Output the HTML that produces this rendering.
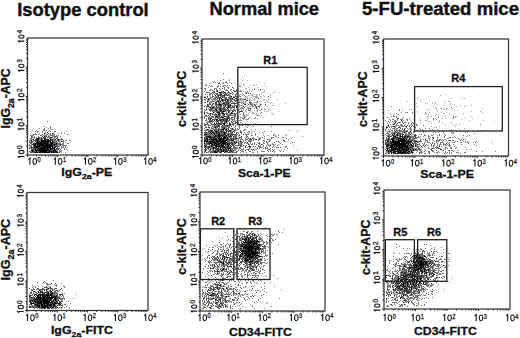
<!DOCTYPE html>
<html><head><meta charset="utf-8"><style>
html,body{margin:0;padding:0;background:#fff;width:520px;height:338px;overflow:hidden}
svg{display:block}
text{font-family:"Liberation Sans",sans-serif}
</style></head><body>
<svg width="520" height="338" viewBox="0 0 520 338" font-family="Liberation Sans, sans-serif">
<path d="M244 75h1v1h-1zM242 77h1v1h-1zM229 79h1v1h-1zM241 79h1v1h-1zM242 80h1v1h-1zM247 80h1v1h-1zM229 82h1v1h-1zM241 82h1v1h-1zM259 82h1v1h-1zM235 83h1v1h-1zM264 83h1v1h-1zM239 84h1v1h-1zM256 84h1v1h-1zM244 85h1v1h-1zM250 85h1v1h-1zM253 85h2v1h-2zM265 86h1v1h-1zM248 87h1v1h-1zM258 87h1v1h-1zM237 88h2v1h-2zM245 88h2v1h-2zM254 88h1v1h-1zM230 89h1v1h-1zM249 89h1v1h-1zM258 89h1v1h-1zM262 89h1v1h-1zM226 90h1v1h-1zM260 90h1v1h-1zM264 90h1v1h-1zM243 91h1v1h-1zM249 91h1v1h-1zM251 91h1v1h-1zM264 91h1v1h-1zM274 91h1v1h-1zM245 92h1v1h-1zM247 92h2v1h-2zM263 92h1v1h-1zM265 92h1v1h-1zM272 92h1v1h-1zM279 92h1v1h-1zM238 93h1v1h-1zM245 93h1v1h-1zM261 93h1v1h-1zM250 94h1v1h-1zM252 94h1v1h-1zM256 94h2v1h-2zM259 94h1v1h-1zM270 94h1v1h-1zM230 95h1v1h-1zM238 95h1v1h-1zM244 95h1v1h-1zM248 95h2v1h-2zM251 95h2v1h-2zM256 95h1v1h-1zM259 95h1v1h-1zM263 95h1v1h-1zM270 95h1v1h-1zM440 95h1v1h-1zM229 96h1v1h-1zM234 96h1v1h-1zM238 96h1v1h-1zM247 96h1v1h-1zM253 96h5v1h-5zM260 96h1v1h-1zM264 96h1v1h-1zM245 97h2v1h-2zM251 97h1v1h-1zM255 97h3v1h-3zM261 97h1v1h-1zM270 97h1v1h-1zM418 97h1v1h-1zM224 98h1v1h-1zM239 98h1v1h-1zM243 98h1v1h-1zM245 98h1v1h-1zM247 98h1v1h-1zM249 98h1v1h-1zM252 98h1v1h-1zM254 98h1v1h-1zM256 98h1v1h-1zM268 98h1v1h-1zM417 98h1v1h-1zM451 98h1v1h-1zM462 98h1v1h-1zM464 98h1v1h-1zM233 99h1v1h-1zM239 99h1v1h-1zM243 99h1v1h-1zM247 99h1v1h-1zM249 99h2v1h-2zM253 99h1v1h-1zM255 99h1v1h-1zM264 99h1v1h-1zM268 99h1v1h-1zM277 99h1v1h-1zM420 99h1v1h-1zM207 100h1v1h-1zM239 100h3v1h-3zM243 100h1v1h-1zM251 100h1v1h-1zM254 100h1v1h-1zM257 100h1v1h-1zM263 100h1v1h-1zM266 100h1v1h-1zM429 100h1v1h-1zM444 100h1v1h-1zM239 101h1v1h-1zM243 101h1v1h-1zM245 101h2v1h-2zM250 101h1v1h-1zM259 101h1v1h-1zM261 101h1v1h-1zM267 101h1v1h-1zM407 101h1v1h-1zM420 101h1v1h-1zM448 101h2v1h-2zM232 102h3v1h-3zM236 102h1v1h-1zM240 102h2v1h-2zM243 102h1v1h-1zM245 102h1v1h-1zM251 102h1v1h-1zM254 102h2v1h-2zM257 102h1v1h-1zM264 102h2v1h-2zM268 102h1v1h-1zM271 102h1v1h-1zM435 102h1v1h-1zM445 102h1v1h-1zM244 103h1v1h-1zM247 103h1v1h-1zM249 103h1v1h-1zM251 103h3v1h-3zM257 103h1v1h-1zM260 103h1v1h-1zM270 103h1v1h-1zM273 103h1v1h-1zM285 103h1v1h-1zM416 103h1v1h-1zM425 103h1v1h-1zM427 103h1v1h-1zM432 103h1v1h-1zM435 103h1v1h-1zM450 103h1v1h-1zM238 104h1v1h-1zM252 104h2v1h-2zM255 104h2v1h-2zM261 104h1v1h-1zM437 104h1v1h-1zM450 104h1v1h-1zM454 104h1v1h-1zM226 105h1v1h-1zM237 105h1v1h-1zM239 105h2v1h-2zM242 105h1v1h-1zM247 105h1v1h-1zM249 105h1v1h-1zM251 105h1v1h-1zM254 105h1v1h-1zM257 105h1v1h-1zM259 105h2v1h-2zM265 105h1v1h-1zM272 105h2v1h-2zM460 105h1v1h-1zM465 105h1v1h-1zM471 105h1v1h-1zM239 106h1v1h-1zM249 106h2v1h-2zM253 106h1v1h-1zM255 106h1v1h-1zM261 106h1v1h-1zM267 106h1v1h-1zM417 106h1v1h-1zM433 106h1v1h-1zM456 106h1v1h-1zM464 106h1v1h-1zM239 107h1v1h-1zM242 107h1v1h-1zM247 107h2v1h-2zM255 107h1v1h-1zM259 107h1v1h-1zM228 108h1v1h-1zM241 108h1v1h-1zM247 108h1v1h-1zM249 108h1v1h-1zM251 108h1v1h-1zM254 108h1v1h-1zM257 108h1v1h-1zM264 108h1v1h-1zM436 108h1v1h-1zM440 108h2v1h-2zM452 108h1v1h-1zM482 108h1v1h-1zM208 109h1v1h-1zM234 109h4v1h-4zM241 109h1v1h-1zM243 109h1v1h-1zM248 109h1v1h-1zM250 109h1v1h-1zM257 109h1v1h-1zM264 109h2v1h-2zM268 109h2v1h-2zM409 109h1v1h-1zM414 109h1v1h-1zM428 109h1v1h-1zM436 109h1v1h-1zM443 109h2v1h-2zM454 109h1v1h-1zM230 110h1v1h-1zM238 110h1v1h-1zM243 110h1v1h-1zM245 110h1v1h-1zM254 110h1v1h-1zM256 110h2v1h-2zM260 110h1v1h-1zM270 110h1v1h-1zM426 110h1v1h-1zM430 110h1v1h-1zM452 110h1v1h-1zM457 110h1v1h-1zM245 111h2v1h-2zM251 111h1v1h-1zM257 111h1v1h-1zM264 111h1v1h-1zM266 111h1v1h-1zM268 111h1v1h-1zM278 111h1v1h-1zM417 111h1v1h-1zM437 111h1v1h-1zM471 111h1v1h-1zM480 111h1v1h-1zM246 112h1v1h-1zM249 112h1v1h-1zM252 112h2v1h-2zM406 112h1v1h-1zM425 112h1v1h-1zM429 112h1v1h-1zM441 112h1v1h-1zM446 112h1v1h-1zM482 112h1v1h-1zM248 113h1v1h-1zM252 113h2v1h-2zM256 113h1v1h-1zM260 113h1v1h-1zM271 113h2v1h-2zM412 113h1v1h-1zM418 113h1v1h-1zM425 113h2v1h-2zM443 113h2v1h-2zM454 113h1v1h-1zM463 113h1v1h-1zM231 114h1v1h-1zM239 114h1v1h-1zM256 114h1v1h-1zM258 114h1v1h-1zM273 114h1v1h-1zM394 114h1v1h-1zM436 114h1v1h-1zM438 114h1v1h-1zM449 114h1v1h-1zM246 115h3v1h-3zM258 115h1v1h-1zM261 115h1v1h-1zM435 115h1v1h-1zM445 115h1v1h-1zM453 115h1v1h-1zM229 116h1v1h-1zM243 116h1v1h-1zM245 116h1v1h-1zM427 116h1v1h-1zM430 116h2v1h-2zM438 116h1v1h-1zM453 116h1v1h-1zM455 116h2v1h-2zM471 116h1v1h-1zM242 117h1v1h-1zM245 117h1v1h-1zM255 117h1v1h-1zM262 117h1v1h-1zM428 117h1v1h-1zM438 117h1v1h-1zM455 117h1v1h-1zM223 118h1v1h-1zM251 118h1v1h-1zM255 118h1v1h-1zM257 118h1v1h-1zM419 118h1v1h-1zM427 118h1v1h-1zM433 118h1v1h-1zM435 118h1v1h-1zM442 118h1v1h-1zM446 118h1v1h-1zM452 118h2v1h-2zM465 118h1v1h-1zM472 118h1v1h-1zM245 119h1v1h-1zM248 119h1v1h-1zM406 119h1v1h-1zM436 119h1v1h-1zM461 119h1v1h-1zM425 120h2v1h-2zM439 120h1v1h-1zM469 120h1v1h-1zM483 120h1v1h-1zM253 121h1v1h-1zM428 121h2v1h-2zM439 121h1v1h-1zM494 121h1v1h-1zM250 122h1v1h-1zM257 122h1v1h-1zM420 122h1v1h-1zM438 122h1v1h-1zM442 122h1v1h-1zM451 122h1v1h-1zM242 123h1v1h-1zM245 123h1v1h-1zM255 123h1v1h-1zM431 123h1v1h-1zM236 124h1v1h-1zM445 124h1v1h-1zM453 124h1v1h-1zM456 124h1v1h-1zM459 124h1v1h-1zM247 125h1v1h-1zM251 126h1v1h-1zM425 126h1v1h-1zM431 126h1v1h-1zM439 126h1v1h-1zM434 127h1v1h-1zM411 128h1v1h-1zM458 128h1v1h-1zM464 128h1v1h-1zM432 129h1v1h-1zM252 131h1v1h-1zM254 131h1v1h-1zM437 135h1v1h-1z" fill="rgb(170,170,170)" shape-rendering="crispEdges"/>
<path d="M223 73h1v1h-1zM223 79h1v1h-1zM220 80h1v1h-1zM229 80h1v1h-1zM214 81h1v1h-1zM226 81h1v1h-1zM213 82h1v1h-1zM215 82h1v1h-1zM219 82h1v1h-1zM223 82h1v1h-1zM225 82h1v1h-1zM209 83h1v1h-1zM218 83h2v1h-2zM222 83h2v1h-2zM227 83h1v1h-1zM231 83h1v1h-1zM206 84h1v1h-1zM220 84h1v1h-1zM243 84h1v1h-1zM205 85h2v1h-2zM209 85h1v1h-1zM218 85h1v1h-1zM223 85h3v1h-3zM227 85h1v1h-1zM210 86h3v1h-3zM218 86h1v1h-1zM220 86h1v1h-1zM222 86h2v1h-2zM226 86h1v1h-1zM239 86h2v1h-2zM208 87h1v1h-1zM217 87h1v1h-1zM227 87h2v1h-2zM204 88h2v1h-2zM214 88h3v1h-3zM219 88h1v1h-1zM224 88h1v1h-1zM228 88h1v1h-1zM233 88h1v1h-1zM205 89h1v1h-1zM210 89h2v1h-2zM214 89h1v1h-1zM216 89h1v1h-1zM220 89h1v1h-1zM224 89h1v1h-1zM226 89h1v1h-1zM231 89h1v1h-1zM236 89h1v1h-1zM252 89h1v1h-1zM254 89h1v1h-1zM205 90h1v1h-1zM209 90h2v1h-2zM212 90h1v1h-1zM219 90h1v1h-1zM225 90h1v1h-1zM227 90h1v1h-1zM230 90h1v1h-1zM233 90h2v1h-2zM240 90h1v1h-1zM204 91h1v1h-1zM214 91h1v1h-1zM216 91h1v1h-1zM221 91h2v1h-2zM228 91h1v1h-1zM231 91h1v1h-1zM236 91h1v1h-1zM239 91h3v1h-3zM247 91h1v1h-1zM207 92h2v1h-2zM212 92h2v1h-2zM218 92h1v1h-1zM223 92h1v1h-1zM227 92h1v1h-1zM237 92h1v1h-1zM246 92h1v1h-1zM210 93h1v1h-1zM213 93h1v1h-1zM219 93h1v1h-1zM221 93h3v1h-3zM226 93h2v1h-2zM229 93h1v1h-1zM231 93h1v1h-1zM233 93h1v1h-1zM242 93h1v1h-1zM248 93h1v1h-1zM205 94h1v1h-1zM207 94h1v1h-1zM212 94h1v1h-1zM214 94h1v1h-1zM216 94h1v1h-1zM218 94h2v1h-2zM226 94h1v1h-1zM236 94h1v1h-1zM240 94h1v1h-1zM243 94h1v1h-1zM209 95h1v1h-1zM212 95h1v1h-1zM221 95h1v1h-1zM225 95h2v1h-2zM228 95h1v1h-1zM239 95h1v1h-1zM242 95h1v1h-1zM204 96h1v1h-1zM210 96h1v1h-1zM215 96h3v1h-3zM220 96h1v1h-1zM222 96h2v1h-2zM233 96h1v1h-1zM236 96h1v1h-1zM239 96h1v1h-1zM245 96h1v1h-1zM207 97h1v1h-1zM210 97h3v1h-3zM214 97h2v1h-2zM217 97h2v1h-2zM223 97h2v1h-2zM230 97h2v1h-2zM236 97h2v1h-2zM208 98h2v1h-2zM213 98h2v1h-2zM218 98h1v1h-1zM220 98h1v1h-1zM228 98h2v1h-2zM240 98h2v1h-2zM205 99h1v1h-1zM207 99h1v1h-1zM211 99h1v1h-1zM214 99h4v1h-4zM224 99h1v1h-1zM228 99h2v1h-2zM231 99h1v1h-1zM236 99h2v1h-2zM205 100h1v1h-1zM208 100h2v1h-2zM215 100h1v1h-1zM218 100h1v1h-1zM220 100h1v1h-1zM223 100h1v1h-1zM229 100h2v1h-2zM208 101h1v1h-1zM210 101h3v1h-3zM219 101h1v1h-1zM223 101h1v1h-1zM225 101h2v1h-2zM231 101h1v1h-1zM236 101h1v1h-1zM241 101h1v1h-1zM204 102h1v1h-1zM207 102h1v1h-1zM209 102h3v1h-3zM218 102h1v1h-1zM221 102h1v1h-1zM223 102h1v1h-1zM229 102h2v1h-2zM256 102h1v1h-1zM210 103h1v1h-1zM212 103h1v1h-1zM218 103h1v1h-1zM221 103h2v1h-2zM225 103h1v1h-1zM227 103h1v1h-1zM229 103h1v1h-1zM236 103h3v1h-3zM241 103h1v1h-1zM245 103h1v1h-1zM208 104h2v1h-2zM213 104h1v1h-1zM217 104h1v1h-1zM222 104h2v1h-2zM228 104h2v1h-2zM234 104h1v1h-1zM239 104h1v1h-1zM205 105h1v1h-1zM208 105h1v1h-1zM212 105h1v1h-1zM215 105h1v1h-1zM217 105h1v1h-1zM224 105h1v1h-1zM227 105h1v1h-1zM232 105h1v1h-1zM234 105h1v1h-1zM206 106h1v1h-1zM209 106h1v1h-1zM211 106h3v1h-3zM218 106h2v1h-2zM223 106h2v1h-2zM227 106h1v1h-1zM233 106h1v1h-1zM391 106h1v1h-1zM206 107h1v1h-1zM209 107h1v1h-1zM211 107h1v1h-1zM214 107h3v1h-3zM219 107h2v1h-2zM230 107h1v1h-1zM232 107h1v1h-1zM234 107h1v1h-1zM237 107h1v1h-1zM241 107h1v1h-1zM435 107h1v1h-1zM451 107h1v1h-1zM206 108h1v1h-1zM208 108h1v1h-1zM214 108h3v1h-3zM218 108h1v1h-1zM222 108h1v1h-1zM224 108h2v1h-2zM230 108h2v1h-2zM234 108h1v1h-1zM242 108h2v1h-2zM446 108h1v1h-1zM209 109h1v1h-1zM212 109h1v1h-1zM214 109h1v1h-1zM218 109h1v1h-1zM227 109h1v1h-1zM230 109h1v1h-1zM239 109h1v1h-1zM399 109h1v1h-1zM411 109h1v1h-1zM446 109h1v1h-1zM213 110h3v1h-3zM219 110h1v1h-1zM222 110h1v1h-1zM224 110h1v1h-1zM226 110h1v1h-1zM233 110h1v1h-1zM235 110h1v1h-1zM241 110h1v1h-1zM248 110h1v1h-1zM250 110h1v1h-1zM388 110h1v1h-1zM399 110h1v1h-1zM402 110h1v1h-1zM204 111h1v1h-1zM210 111h1v1h-1zM212 111h5v1h-5zM225 111h2v1h-2zM235 111h1v1h-1zM206 112h2v1h-2zM214 112h1v1h-1zM223 112h1v1h-1zM226 112h1v1h-1zM229 112h1v1h-1zM232 112h1v1h-1zM243 112h1v1h-1zM401 112h1v1h-1zM405 112h1v1h-1zM407 112h1v1h-1zM412 112h1v1h-1zM207 113h3v1h-3zM211 113h1v1h-1zM220 113h1v1h-1zM224 113h2v1h-2zM227 113h1v1h-1zM229 113h1v1h-1zM235 113h2v1h-2zM243 113h1v1h-1zM396 113h1v1h-1zM204 114h1v1h-1zM209 114h1v1h-1zM220 114h1v1h-1zM222 114h1v1h-1zM226 114h5v1h-5zM240 114h1v1h-1zM390 114h1v1h-1zM398 114h1v1h-1zM428 114h1v1h-1zM206 115h1v1h-1zM214 115h2v1h-2zM222 115h1v1h-1zM224 115h1v1h-1zM229 115h1v1h-1zM232 115h1v1h-1zM234 115h1v1h-1zM243 115h2v1h-2zM393 115h1v1h-1zM204 116h4v1h-4zM209 116h1v1h-1zM211 116h1v1h-1zM218 116h1v1h-1zM222 116h1v1h-1zM226 116h1v1h-1zM234 116h1v1h-1zM237 116h1v1h-1zM391 116h1v1h-1zM393 116h2v1h-2zM396 116h1v1h-1zM204 117h1v1h-1zM208 117h6v1h-6zM226 117h1v1h-1zM233 117h1v1h-1zM240 117h2v1h-2zM244 117h1v1h-1zM249 117h1v1h-1zM387 117h1v1h-1zM396 117h1v1h-1zM403 117h1v1h-1zM453 117h1v1h-1zM204 118h1v1h-1zM206 118h1v1h-1zM214 118h2v1h-2zM217 118h3v1h-3zM225 118h1v1h-1zM229 118h1v1h-1zM231 118h1v1h-1zM242 118h3v1h-3zM248 118h1v1h-1zM397 118h2v1h-2zM402 118h1v1h-1zM409 118h1v1h-1zM206 119h1v1h-1zM208 119h2v1h-2zM214 119h1v1h-1zM219 119h1v1h-1zM231 119h1v1h-1zM233 119h2v1h-2zM240 119h1v1h-1zM243 119h1v1h-1zM246 119h2v1h-2zM389 119h1v1h-1zM392 119h2v1h-2zM400 119h3v1h-3zM433 119h1v1h-1zM205 120h1v1h-1zM211 120h2v1h-2zM222 120h1v1h-1zM225 120h1v1h-1zM227 120h2v1h-2zM232 120h1v1h-1zM234 120h1v1h-1zM236 120h1v1h-1zM239 120h3v1h-3zM385 120h1v1h-1zM390 120h1v1h-1zM394 120h2v1h-2zM397 120h1v1h-1zM403 120h1v1h-1zM407 120h1v1h-1zM420 120h1v1h-1zM47 121h1v1h-1zM207 121h2v1h-2zM212 121h2v1h-2zM215 121h2v1h-2zM220 121h1v1h-1zM223 121h2v1h-2zM228 121h1v1h-1zM233 121h2v1h-2zM388 121h1v1h-1zM394 121h3v1h-3zM402 121h1v1h-1zM206 122h5v1h-5zM212 122h1v1h-1zM214 122h1v1h-1zM220 122h1v1h-1zM222 122h1v1h-1zM225 122h1v1h-1zM229 122h1v1h-1zM231 122h1v1h-1zM235 122h1v1h-1zM237 122h2v1h-2zM389 122h1v1h-1zM393 122h1v1h-1zM398 122h1v1h-1zM400 122h1v1h-1zM404 122h1v1h-1zM408 122h1v1h-1zM412 122h1v1h-1zM217 123h1v1h-1zM220 123h1v1h-1zM225 123h2v1h-2zM230 123h1v1h-1zM232 123h1v1h-1zM234 123h1v1h-1zM238 123h1v1h-1zM387 123h1v1h-1zM395 123h1v1h-1zM397 123h1v1h-1zM411 123h1v1h-1zM413 123h1v1h-1zM204 124h1v1h-1zM212 124h1v1h-1zM216 124h4v1h-4zM231 124h1v1h-1zM241 124h1v1h-1zM257 124h1v1h-1zM388 124h1v1h-1zM390 124h1v1h-1zM392 124h1v1h-1zM394 124h1v1h-1zM396 124h1v1h-1zM400 124h1v1h-1zM405 124h1v1h-1zM411 124h1v1h-1zM480 124h1v1h-1zM205 125h1v1h-1zM208 125h2v1h-2zM212 125h1v1h-1zM215 125h1v1h-1zM223 125h1v1h-1zM228 125h1v1h-1zM235 125h1v1h-1zM239 125h1v1h-1zM242 125h1v1h-1zM248 125h1v1h-1zM387 125h1v1h-1zM395 125h4v1h-4zM400 125h3v1h-3zM409 125h2v1h-2zM412 125h1v1h-1zM416 125h2v1h-2zM44 126h1v1h-1zM50 126h1v1h-1zM205 126h1v1h-1zM208 126h1v1h-1zM213 126h1v1h-1zM215 126h1v1h-1zM217 126h1v1h-1zM222 126h1v1h-1zM225 126h2v1h-2zM228 126h2v1h-2zM238 126h2v1h-2zM246 126h1v1h-1zM253 126h1v1h-1zM271 126h1v1h-1zM388 126h2v1h-2zM391 126h1v1h-1zM396 126h1v1h-1zM401 126h2v1h-2zM405 126h1v1h-1zM409 126h1v1h-1zM413 126h1v1h-1zM455 126h1v1h-1zM46 127h1v1h-1zM50 127h1v1h-1zM205 127h1v1h-1zM213 127h1v1h-1zM216 127h1v1h-1zM219 127h1v1h-1zM221 127h1v1h-1zM223 127h1v1h-1zM225 127h2v1h-2zM234 127h1v1h-1zM239 127h1v1h-1zM247 127h1v1h-1zM389 127h1v1h-1zM391 127h1v1h-1zM394 127h2v1h-2zM400 127h1v1h-1zM406 127h1v1h-1zM415 127h1v1h-1zM436 127h1v1h-1zM39 128h1v1h-1zM44 128h1v1h-1zM48 128h1v1h-1zM50 128h1v1h-1zM204 128h1v1h-1zM209 128h1v1h-1zM212 128h1v1h-1zM219 128h1v1h-1zM221 128h2v1h-2zM225 128h3v1h-3zM230 128h2v1h-2zM235 128h1v1h-1zM237 128h1v1h-1zM239 128h1v1h-1zM386 128h1v1h-1zM392 128h2v1h-2zM396 128h1v1h-1zM402 128h1v1h-1zM404 128h2v1h-2zM407 128h1v1h-1zM409 128h2v1h-2zM419 128h1v1h-1zM425 128h1v1h-1zM429 128h1v1h-1zM43 129h2v1h-2zM51 129h2v1h-2zM210 129h1v1h-1zM215 129h3v1h-3zM219 129h1v1h-1zM224 129h1v1h-1zM231 129h1v1h-1zM233 129h3v1h-3zM237 129h1v1h-1zM244 129h2v1h-2zM255 129h1v1h-1zM385 129h1v1h-1zM388 129h1v1h-1zM390 129h1v1h-1zM395 129h2v1h-2zM399 129h1v1h-1zM408 129h1v1h-1zM410 129h2v1h-2zM420 129h1v1h-1zM422 129h1v1h-1zM451 129h1v1h-1zM32 130h1v1h-1zM36 130h1v1h-1zM43 130h2v1h-2zM49 130h1v1h-1zM204 130h6v1h-6zM217 130h1v1h-1zM219 130h1v1h-1zM221 130h2v1h-2zM227 130h2v1h-2zM231 130h1v1h-1zM233 130h1v1h-1zM235 130h2v1h-2zM240 130h1v1h-1zM243 130h2v1h-2zM251 130h1v1h-1zM289 130h1v1h-1zM385 130h1v1h-1zM389 130h1v1h-1zM391 130h2v1h-2zM394 130h1v1h-1zM398 130h1v1h-1zM401 130h1v1h-1zM406 130h1v1h-1zM410 130h2v1h-2zM414 130h1v1h-1zM417 130h1v1h-1zM422 130h1v1h-1zM438 130h1v1h-1zM449 130h1v1h-1zM35 131h1v1h-1zM37 131h2v1h-2zM42 131h1v1h-1zM48 131h1v1h-1zM50 131h1v1h-1zM54 131h2v1h-2zM66 131h1v1h-1zM205 131h1v1h-1zM213 131h2v1h-2zM219 131h2v1h-2zM224 131h1v1h-1zM227 131h1v1h-1zM231 131h2v1h-2zM234 131h1v1h-1zM240 131h1v1h-1zM248 131h2v1h-2zM264 131h1v1h-1zM271 131h1v1h-1zM297 131h1v1h-1zM387 131h4v1h-4zM392 131h1v1h-1zM394 131h1v1h-1zM396 131h2v1h-2zM399 131h6v1h-6zM407 131h1v1h-1zM409 131h1v1h-1zM414 131h1v1h-1zM419 131h1v1h-1zM423 131h1v1h-1zM452 131h1v1h-1zM456 131h1v1h-1zM460 131h1v1h-1zM473 131h1v1h-1zM481 131h1v1h-1zM37 132h1v1h-1zM42 132h1v1h-1zM45 132h1v1h-1zM61 132h1v1h-1zM205 132h1v1h-1zM207 132h3v1h-3zM211 132h1v1h-1zM214 132h1v1h-1zM217 132h1v1h-1zM220 132h1v1h-1zM226 132h1v1h-1zM228 132h1v1h-1zM230 132h2v1h-2zM236 132h3v1h-3zM241 132h1v1h-1zM244 132h1v1h-1zM247 132h1v1h-1zM249 132h1v1h-1zM259 132h1v1h-1zM262 132h1v1h-1zM387 132h1v1h-1zM389 132h1v1h-1zM391 132h4v1h-4zM397 132h1v1h-1zM399 132h2v1h-2zM402 132h1v1h-1zM408 132h1v1h-1zM410 132h2v1h-2zM413 132h2v1h-2zM423 132h1v1h-1zM425 132h1v1h-1zM433 132h1v1h-1zM435 132h1v1h-1zM438 132h1v1h-1zM443 132h1v1h-1zM451 132h1v1h-1zM453 132h1v1h-1zM465 132h1v1h-1zM467 132h1v1h-1zM35 133h1v1h-1zM39 133h1v1h-1zM45 133h1v1h-1zM53 133h1v1h-1zM58 133h1v1h-1zM61 133h1v1h-1zM64 133h1v1h-1zM204 133h1v1h-1zM206 133h3v1h-3zM210 133h1v1h-1zM212 133h1v1h-1zM215 133h1v1h-1zM222 133h2v1h-2zM227 133h3v1h-3zM232 133h1v1h-1zM238 133h1v1h-1zM241 133h1v1h-1zM245 133h1v1h-1zM248 133h1v1h-1zM251 133h1v1h-1zM255 133h1v1h-1zM263 133h1v1h-1zM386 133h1v1h-1zM388 133h1v1h-1zM391 133h3v1h-3zM395 133h1v1h-1zM401 133h2v1h-2zM405 133h2v1h-2zM408 133h1v1h-1zM411 133h1v1h-1zM452 133h2v1h-2zM474 133h1v1h-1zM33 134h4v1h-4zM44 134h1v1h-1zM46 134h2v1h-2zM49 134h1v1h-1zM52 134h3v1h-3zM67 134h1v1h-1zM209 134h1v1h-1zM211 134h1v1h-1zM213 134h1v1h-1zM215 134h3v1h-3zM220 134h1v1h-1zM222 134h1v1h-1zM229 134h2v1h-2zM234 134h1v1h-1zM236 134h2v1h-2zM239 134h1v1h-1zM243 134h1v1h-1zM245 134h4v1h-4zM255 134h1v1h-1zM273 134h2v1h-2zM285 134h1v1h-1zM385 134h1v1h-1zM388 134h2v1h-2zM393 134h1v1h-1zM398 134h2v1h-2zM405 134h4v1h-4zM412 134h2v1h-2zM419 134h1v1h-1zM421 134h1v1h-1zM424 134h1v1h-1zM433 134h1v1h-1zM444 134h1v1h-1zM30 135h4v1h-4zM43 135h4v1h-4zM48 135h1v1h-1zM50 135h1v1h-1zM52 135h3v1h-3zM58 135h1v1h-1zM206 135h3v1h-3zM210 135h3v1h-3zM214 135h1v1h-1zM224 135h1v1h-1zM227 135h1v1h-1zM229 135h1v1h-1zM231 135h1v1h-1zM235 135h1v1h-1zM238 135h1v1h-1zM251 135h2v1h-2zM255 135h1v1h-1zM263 135h1v1h-1zM267 135h1v1h-1zM273 135h1v1h-1zM275 135h1v1h-1zM278 135h1v1h-1zM286 135h1v1h-1zM386 135h3v1h-3zM391 135h1v1h-1zM394 135h2v1h-2zM404 135h1v1h-1zM407 135h1v1h-1zM409 135h1v1h-1zM411 135h1v1h-1zM416 135h1v1h-1zM424 135h2v1h-2zM428 135h1v1h-1zM431 135h2v1h-2zM439 135h1v1h-1zM469 135h1v1h-1zM32 136h1v1h-1zM34 136h1v1h-1zM45 136h1v1h-1zM49 136h1v1h-1zM52 136h2v1h-2zM56 136h2v1h-2zM60 136h1v1h-1zM205 136h1v1h-1zM211 136h1v1h-1zM221 136h1v1h-1zM227 136h1v1h-1zM234 136h1v1h-1zM236 136h1v1h-1zM238 136h1v1h-1zM246 136h1v1h-1zM257 136h1v1h-1zM264 136h1v1h-1zM275 136h2v1h-2zM302 136h1v1h-1zM387 136h1v1h-1zM389 136h1v1h-1zM396 136h2v1h-2zM399 136h1v1h-1zM403 136h1v1h-1zM410 136h4v1h-4zM418 136h1v1h-1zM420 136h1v1h-1zM423 136h1v1h-1zM428 136h2v1h-2zM444 136h1v1h-1zM454 136h1v1h-1zM466 136h1v1h-1zM31 137h3v1h-3zM38 137h1v1h-1zM40 137h2v1h-2zM48 137h2v1h-2zM54 137h2v1h-2zM216 137h1v1h-1zM220 137h1v1h-1zM226 137h1v1h-1zM228 137h1v1h-1zM230 137h2v1h-2zM234 137h2v1h-2zM240 137h2v1h-2zM246 137h1v1h-1zM248 137h1v1h-1zM253 137h1v1h-1zM258 137h1v1h-1zM260 137h1v1h-1zM262 137h1v1h-1zM271 137h3v1h-3zM282 137h2v1h-2zM285 137h1v1h-1zM292 137h1v1h-1zM386 137h1v1h-1zM388 137h1v1h-1zM392 137h1v1h-1zM394 137h1v1h-1zM408 137h1v1h-1zM412 137h2v1h-2zM416 137h4v1h-4zM428 137h1v1h-1zM430 137h1v1h-1zM444 137h1v1h-1zM449 137h2v1h-2zM452 137h1v1h-1zM455 137h1v1h-1zM30 138h1v1h-1zM33 138h1v1h-1zM40 138h1v1h-1zM43 138h1v1h-1zM47 138h1v1h-1zM53 138h1v1h-1zM57 138h1v1h-1zM61 138h1v1h-1zM205 138h1v1h-1zM212 138h1v1h-1zM217 138h1v1h-1zM226 138h1v1h-1zM234 138h1v1h-1zM237 138h3v1h-3zM241 138h1v1h-1zM245 138h1v1h-1zM247 138h2v1h-2zM253 138h2v1h-2zM260 138h1v1h-1zM264 138h1v1h-1zM271 138h1v1h-1zM286 138h1v1h-1zM387 138h1v1h-1zM396 138h1v1h-1zM407 138h1v1h-1zM416 138h1v1h-1zM425 138h1v1h-1zM428 138h2v1h-2zM437 138h1v1h-1zM447 138h2v1h-2zM458 138h1v1h-1zM462 138h1v1h-1zM30 139h3v1h-3zM39 139h2v1h-2zM42 139h1v1h-1zM53 139h2v1h-2zM60 139h3v1h-3zM204 139h1v1h-1zM217 139h1v1h-1zM225 139h1v1h-1zM230 139h1v1h-1zM232 139h1v1h-1zM234 139h3v1h-3zM238 139h1v1h-1zM240 139h2v1h-2zM246 139h2v1h-2zM251 139h1v1h-1zM258 139h1v1h-1zM268 139h2v1h-2zM283 139h1v1h-1zM288 139h1v1h-1zM387 139h1v1h-1zM389 139h2v1h-2zM394 139h2v1h-2zM397 139h1v1h-1zM407 139h1v1h-1zM410 139h5v1h-5zM423 139h1v1h-1zM429 139h1v1h-1zM437 139h1v1h-1zM439 139h1v1h-1zM445 139h1v1h-1zM459 139h1v1h-1zM461 139h1v1h-1zM463 139h1v1h-1zM465 139h1v1h-1zM29 140h1v1h-1zM33 140h2v1h-2zM39 140h2v1h-2zM53 140h5v1h-5zM59 140h1v1h-1zM61 140h1v1h-1zM63 140h1v1h-1zM65 140h2v1h-2zM69 140h1v1h-1zM208 140h2v1h-2zM227 140h1v1h-1zM236 140h3v1h-3zM240 140h1v1h-1zM243 140h1v1h-1zM245 140h1v1h-1zM248 140h4v1h-4zM253 140h1v1h-1zM258 140h1v1h-1zM264 140h1v1h-1zM269 140h2v1h-2zM283 140h2v1h-2zM389 140h1v1h-1zM396 140h1v1h-1zM409 140h1v1h-1zM413 140h1v1h-1zM415 140h2v1h-2zM425 140h3v1h-3zM429 140h1v1h-1zM433 140h1v1h-1zM436 140h3v1h-3zM441 140h1v1h-1zM443 140h1v1h-1zM446 140h1v1h-1zM448 140h1v1h-1zM450 140h1v1h-1zM452 140h2v1h-2zM460 140h1v1h-1zM462 140h1v1h-1zM29 141h1v1h-1zM32 141h2v1h-2zM36 141h1v1h-1zM54 141h2v1h-2zM58 141h2v1h-2zM61 141h1v1h-1zM63 141h1v1h-1zM208 141h1v1h-1zM215 141h1v1h-1zM228 141h2v1h-2zM231 141h3v1h-3zM235 141h1v1h-1zM238 141h2v1h-2zM241 141h1v1h-1zM248 141h2v1h-2zM251 141h1v1h-1zM264 141h1v1h-1zM276 141h1v1h-1zM278 141h1v1h-1zM284 141h2v1h-2zM389 141h1v1h-1zM391 141h1v1h-1zM413 141h1v1h-1zM417 141h2v1h-2zM420 141h1v1h-1zM425 141h1v1h-1zM427 141h1v1h-1zM434 141h1v1h-1zM436 141h3v1h-3zM442 141h1v1h-1zM455 141h1v1h-1zM463 141h1v1h-1zM465 141h1v1h-1zM467 141h1v1h-1zM476 141h1v1h-1zM29 142h1v1h-1zM34 142h1v1h-1zM49 142h1v1h-1zM55 142h3v1h-3zM59 142h2v1h-2zM63 142h1v1h-1zM65 142h1v1h-1zM228 142h1v1h-1zM230 142h1v1h-1zM233 142h1v1h-1zM235 142h1v1h-1zM237 142h1v1h-1zM240 142h1v1h-1zM242 142h1v1h-1zM244 142h1v1h-1zM250 142h1v1h-1zM254 142h1v1h-1zM257 142h1v1h-1zM259 142h1v1h-1zM263 142h1v1h-1zM266 142h3v1h-3zM274 142h1v1h-1zM279 142h1v1h-1zM292 142h1v1h-1zM294 142h1v1h-1zM385 142h1v1h-1zM388 142h2v1h-2zM412 142h1v1h-1zM415 142h1v1h-1zM417 142h1v1h-1zM424 142h1v1h-1zM427 142h1v1h-1zM429 142h1v1h-1zM432 142h1v1h-1zM436 142h1v1h-1zM440 142h3v1h-3zM447 142h1v1h-1zM449 142h1v1h-1zM452 142h3v1h-3zM460 142h2v1h-2zM465 142h1v1h-1zM467 142h2v1h-2zM473 142h1v1h-1zM491 142h1v1h-1zM31 143h1v1h-1zM49 143h1v1h-1zM53 143h1v1h-1zM58 143h3v1h-3zM62 143h2v1h-2zM67 143h2v1h-2zM205 143h1v1h-1zM231 143h1v1h-1zM233 143h2v1h-2zM239 143h2v1h-2zM244 143h1v1h-1zM246 143h3v1h-3zM250 143h1v1h-1zM252 143h1v1h-1zM263 143h2v1h-2zM267 143h1v1h-1zM272 143h1v1h-1zM280 143h1v1h-1zM290 143h1v1h-1zM386 143h1v1h-1zM389 143h1v1h-1zM409 143h1v1h-1zM414 143h1v1h-1zM416 143h1v1h-1zM419 143h1v1h-1zM422 143h1v1h-1zM424 143h1v1h-1zM430 143h1v1h-1zM434 143h1v1h-1zM437 143h1v1h-1zM440 143h1v1h-1zM448 143h1v1h-1zM468 143h1v1h-1zM29 144h1v1h-1zM31 144h1v1h-1zM36 144h1v1h-1zM57 144h3v1h-3zM61 144h3v1h-3zM204 144h2v1h-2zM207 144h1v1h-1zM233 144h1v1h-1zM238 144h5v1h-5zM249 144h1v1h-1zM252 144h1v1h-1zM254 144h1v1h-1zM259 144h1v1h-1zM262 144h1v1h-1zM267 144h2v1h-2zM270 144h1v1h-1zM272 144h2v1h-2zM275 144h1v1h-1zM278 144h1v1h-1zM282 144h1v1h-1zM390 144h1v1h-1zM406 144h1v1h-1zM409 144h1v1h-1zM416 144h1v1h-1zM418 144h1v1h-1zM423 144h2v1h-2zM426 144h1v1h-1zM434 144h1v1h-1zM437 144h1v1h-1zM439 144h3v1h-3zM443 144h2v1h-2zM447 144h1v1h-1zM453 144h1v1h-1zM461 144h1v1h-1zM474 144h1v1h-1zM30 145h2v1h-2zM53 145h1v1h-1zM55 145h1v1h-1zM57 145h4v1h-4zM62 145h5v1h-5zM209 145h1v1h-1zM217 145h1v1h-1zM226 145h1v1h-1zM229 145h1v1h-1zM232 145h1v1h-1zM239 145h1v1h-1zM241 145h1v1h-1zM246 145h1v1h-1zM249 145h1v1h-1zM260 145h1v1h-1zM263 145h1v1h-1zM266 145h1v1h-1zM268 145h3v1h-3zM273 145h2v1h-2zM277 145h1v1h-1zM293 145h1v1h-1zM416 145h2v1h-2zM420 145h1v1h-1zM427 145h2v1h-2zM431 145h1v1h-1zM433 145h2v1h-2zM437 145h1v1h-1zM439 145h1v1h-1zM443 145h1v1h-1zM445 145h2v1h-2zM448 145h3v1h-3zM476 145h1v1h-1zM30 146h1v1h-1zM53 146h2v1h-2zM57 146h1v1h-1zM59 146h1v1h-1zM63 146h1v1h-1zM65 146h1v1h-1zM210 146h1v1h-1zM212 146h1v1h-1zM225 146h1v1h-1zM231 146h1v1h-1zM240 146h3v1h-3zM248 146h1v1h-1zM255 146h1v1h-1zM258 146h1v1h-1zM260 146h1v1h-1zM263 146h1v1h-1zM266 146h1v1h-1zM269 146h1v1h-1zM273 146h1v1h-1zM285 146h2v1h-2zM388 146h2v1h-2zM411 146h1v1h-1zM416 146h4v1h-4zM431 146h1v1h-1zM433 146h1v1h-1zM436 146h1v1h-1zM441 146h1v1h-1zM449 146h1v1h-1zM454 146h1v1h-1zM29 147h2v1h-2zM61 147h3v1h-3zM65 147h1v1h-1zM67 147h1v1h-1zM207 147h1v1h-1zM211 147h1v1h-1zM215 147h1v1h-1zM233 147h2v1h-2zM236 147h2v1h-2zM240 147h1v1h-1zM247 147h1v1h-1zM249 147h1v1h-1zM257 147h1v1h-1zM259 147h4v1h-4zM267 147h1v1h-1zM272 147h1v1h-1zM274 147h1v1h-1zM276 147h3v1h-3zM280 147h1v1h-1zM285 147h1v1h-1zM386 147h1v1h-1zM388 147h1v1h-1zM397 147h1v1h-1zM412 147h2v1h-2zM418 147h1v1h-1zM425 147h1v1h-1zM428 147h1v1h-1zM433 147h1v1h-1zM436 147h3v1h-3zM445 147h2v1h-2zM450 147h2v1h-2zM456 147h1v1h-1zM465 147h1v1h-1zM32 148h1v1h-1zM58 148h1v1h-1zM61 148h1v1h-1zM64 148h1v1h-1zM210 148h1v1h-1zM219 148h1v1h-1zM223 148h2v1h-2zM226 148h1v1h-1zM231 148h2v1h-2zM234 148h1v1h-1zM236 148h2v1h-2zM240 148h1v1h-1zM243 148h1v1h-1zM249 148h1v1h-1zM254 148h1v1h-1zM259 148h1v1h-1zM263 148h1v1h-1zM265 148h3v1h-3zM287 148h1v1h-1zM410 148h2v1h-2zM413 148h4v1h-4zM419 148h1v1h-1zM428 148h2v1h-2zM431 148h1v1h-1zM433 148h2v1h-2zM436 148h2v1h-2zM439 148h2v1h-2zM445 148h1v1h-1zM447 148h1v1h-1zM450 148h2v1h-2zM455 148h1v1h-1zM31 149h1v1h-1zM56 149h2v1h-2zM64 149h1v1h-1zM66 149h1v1h-1zM208 149h2v1h-2zM212 149h1v1h-1zM215 149h1v1h-1zM222 149h1v1h-1zM231 149h1v1h-1zM234 149h2v1h-2zM238 149h1v1h-1zM242 149h1v1h-1zM246 149h3v1h-3zM251 149h2v1h-2zM255 149h2v1h-2zM268 149h2v1h-2zM272 149h1v1h-1zM274 149h1v1h-1zM284 149h1v1h-1zM385 149h1v1h-1zM411 149h2v1h-2zM414 149h1v1h-1zM417 149h2v1h-2zM421 149h1v1h-1zM424 149h1v1h-1zM430 149h2v1h-2zM443 149h1v1h-1zM445 149h1v1h-1zM466 149h1v1h-1zM471 149h1v1h-1zM34 150h1v1h-1zM56 150h2v1h-2zM61 150h1v1h-1zM67 150h1v1h-1zM206 150h1v1h-1zM209 150h1v1h-1zM212 150h1v1h-1zM214 150h1v1h-1zM216 150h1v1h-1zM219 150h1v1h-1zM222 150h1v1h-1zM229 150h1v1h-1zM232 150h1v1h-1zM234 150h2v1h-2zM238 150h1v1h-1zM242 150h1v1h-1zM248 150h1v1h-1zM252 150h1v1h-1zM254 150h1v1h-1zM270 150h1v1h-1zM273 150h1v1h-1zM279 150h1v1h-1zM281 150h1v1h-1zM297 150h1v1h-1zM396 150h1v1h-1zM409 150h2v1h-2zM415 150h3v1h-3zM419 150h2v1h-2zM425 150h1v1h-1zM442 150h2v1h-2zM448 150h2v1h-2zM451 150h2v1h-2zM457 150h1v1h-1zM30 151h2v1h-2zM37 151h1v1h-1zM59 151h3v1h-3zM204 151h1v1h-1zM208 151h3v1h-3zM212 151h1v1h-1zM224 151h1v1h-1zM233 151h1v1h-1zM237 151h1v1h-1zM241 151h3v1h-3zM249 151h2v1h-2zM257 151h1v1h-1zM261 151h4v1h-4zM268 151h1v1h-1zM270 151h1v1h-1zM274 151h1v1h-1zM280 151h1v1h-1zM283 151h1v1h-1zM387 151h1v1h-1zM392 151h1v1h-1zM407 151h1v1h-1zM410 151h1v1h-1zM417 151h1v1h-1zM420 151h2v1h-2zM424 151h1v1h-1zM428 151h2v1h-2zM432 151h2v1h-2zM438 151h1v1h-1zM445 151h1v1h-1zM449 151h1v1h-1zM453 151h1v1h-1zM476 151h1v1h-1zM482 151h1v1h-1zM495 151h1v1h-1zM33 152h1v1h-1zM50 152h1v1h-1zM58 152h1v1h-1zM61 152h1v1h-1zM65 152h1v1h-1zM207 152h2v1h-2zM211 152h1v1h-1zM221 152h1v1h-1zM225 152h3v1h-3zM231 152h1v1h-1zM233 152h1v1h-1zM235 152h1v1h-1zM240 152h1v1h-1zM243 152h1v1h-1zM246 152h1v1h-1zM252 152h2v1h-2zM257 152h1v1h-1zM274 152h1v1h-1zM386 152h2v1h-2zM389 152h2v1h-2zM397 152h1v1h-1zM410 152h1v1h-1zM416 152h1v1h-1zM420 152h3v1h-3zM428 152h2v1h-2zM434 152h1v1h-1zM436 152h2v1h-2zM439 152h1v1h-1zM445 152h1v1h-1zM449 152h1v1h-1zM451 152h1v1h-1zM456 152h3v1h-3zM464 152h2v1h-2zM385 153h2v1h-2zM410 153h1v1h-1zM421 153h1v1h-1zM424 153h1v1h-1zM429 153h1v1h-1zM437 153h1v1h-1zM444 153h1v1h-1zM446 153h1v1h-1zM449 153h1v1h-1zM451 153h1v1h-1zM460 153h1v1h-1zM265 227h1v1h-1zM284 229h1v1h-1zM278 230h1v1h-1zM234 231h1v1h-1zM236 231h1v1h-1zM243 231h2v1h-2zM247 231h2v1h-2zM251 231h2v1h-2zM257 231h1v1h-1zM278 231h1v1h-1zM225 232h1v1h-1zM237 232h1v1h-1zM251 232h1v1h-1zM279 232h1v1h-1zM282 232h1v1h-1zM238 233h1v1h-1zM240 233h3v1h-3zM249 233h1v1h-1zM254 233h1v1h-1zM257 233h1v1h-1zM260 233h1v1h-1zM235 234h1v1h-1zM240 234h1v1h-1zM242 234h1v1h-1zM244 234h1v1h-1zM246 234h1v1h-1zM248 234h1v1h-1zM251 234h1v1h-1zM261 234h1v1h-1zM271 234h2v1h-2zM274 234h1v1h-1zM276 234h2v1h-2zM233 235h1v1h-1zM235 235h1v1h-1zM240 235h1v1h-1zM244 235h1v1h-1zM246 235h1v1h-1zM249 235h2v1h-2zM255 235h2v1h-2zM258 235h1v1h-1zM260 235h1v1h-1zM266 235h1v1h-1zM272 235h2v1h-2zM227 236h1v1h-1zM237 236h1v1h-1zM239 236h1v1h-1zM245 236h2v1h-2zM252 236h1v1h-1zM254 236h1v1h-1zM259 236h1v1h-1zM267 236h1v1h-1zM270 236h1v1h-1zM219 237h1v1h-1zM232 237h2v1h-2zM239 237h1v1h-1zM241 237h2v1h-2zM244 237h1v1h-1zM249 237h1v1h-1zM254 237h1v1h-1zM259 237h2v1h-2zM262 237h1v1h-1zM222 238h1v1h-1zM236 238h2v1h-2zM239 238h3v1h-3zM243 238h2v1h-2zM247 238h1v1h-1zM251 238h1v1h-1zM254 238h3v1h-3zM258 238h2v1h-2zM261 238h1v1h-1zM267 238h1v1h-1zM271 238h1v1h-1zM228 239h1v1h-1zM236 239h1v1h-1zM240 239h2v1h-2zM247 239h1v1h-1zM253 239h1v1h-1zM258 239h1v1h-1zM260 239h3v1h-3zM272 239h1v1h-1zM275 239h1v1h-1zM219 240h1v1h-1zM227 240h1v1h-1zM230 240h1v1h-1zM237 240h1v1h-1zM259 240h1v1h-1zM261 240h1v1h-1zM269 240h1v1h-1zM272 240h2v1h-2zM212 241h1v1h-1zM232 241h2v1h-2zM236 241h1v1h-1zM238 241h1v1h-1zM241 241h2v1h-2zM259 241h3v1h-3zM219 242h1v1h-1zM258 242h1v1h-1zM263 242h1v1h-1zM266 242h2v1h-2zM271 242h1v1h-1zM223 243h1v1h-1zM227 243h1v1h-1zM230 243h1v1h-1zM233 243h2v1h-2zM237 243h1v1h-1zM239 243h1v1h-1zM241 243h1v1h-1zM243 243h1v1h-1zM245 243h1v1h-1zM259 243h1v1h-1zM263 243h1v1h-1zM266 243h2v1h-2zM220 244h2v1h-2zM226 244h1v1h-1zM228 244h1v1h-1zM230 244h1v1h-1zM236 244h2v1h-2zM240 244h1v1h-1zM261 244h3v1h-3zM266 244h1v1h-1zM278 244h1v1h-1zM396 244h1v1h-1zM426 244h1v1h-1zM206 245h1v1h-1zM214 245h1v1h-1zM221 245h1v1h-1zM225 245h1v1h-1zM229 245h2v1h-2zM237 245h2v1h-2zM260 245h1v1h-1zM430 245h1v1h-1zM215 246h1v1h-1zM219 246h1v1h-1zM222 246h2v1h-2zM232 246h2v1h-2zM235 246h2v1h-2zM238 246h2v1h-2zM259 246h1v1h-1zM263 246h1v1h-1zM267 246h1v1h-1zM399 246h1v1h-1zM414 246h1v1h-1zM209 247h1v1h-1zM212 247h2v1h-2zM217 247h1v1h-1zM220 247h2v1h-2zM223 247h1v1h-1zM227 247h1v1h-1zM229 247h1v1h-1zM235 247h1v1h-1zM237 247h6v1h-6zM263 247h3v1h-3zM268 247h1v1h-1zM396 247h1v1h-1zM417 247h1v1h-1zM434 247h1v1h-1zM441 247h1v1h-1zM204 248h1v1h-1zM218 248h1v1h-1zM223 248h1v1h-1zM226 248h2v1h-2zM230 248h1v1h-1zM234 248h1v1h-1zM238 248h2v1h-2zM242 248h1v1h-1zM261 248h1v1h-1zM263 248h2v1h-2zM403 248h1v1h-1zM407 248h1v1h-1zM409 248h1v1h-1zM420 248h1v1h-1zM425 248h1v1h-1zM431 248h1v1h-1zM202 249h1v1h-1zM212 249h1v1h-1zM220 249h2v1h-2zM223 249h1v1h-1zM228 249h1v1h-1zM233 249h2v1h-2zM238 249h1v1h-1zM242 249h1v1h-1zM244 249h1v1h-1zM260 249h2v1h-2zM263 249h1v1h-1zM413 249h1v1h-1zM416 249h1v1h-1zM418 249h1v1h-1zM420 249h2v1h-2zM430 249h1v1h-1zM443 249h1v1h-1zM210 250h1v1h-1zM215 250h1v1h-1zM217 250h1v1h-1zM222 250h1v1h-1zM226 250h1v1h-1zM228 250h1v1h-1zM232 250h2v1h-2zM238 250h1v1h-1zM263 250h1v1h-1zM265 250h1v1h-1zM267 250h1v1h-1zM406 250h1v1h-1zM418 250h1v1h-1zM422 250h2v1h-2zM205 251h1v1h-1zM214 251h1v1h-1zM218 251h1v1h-1zM221 251h1v1h-1zM224 251h1v1h-1zM226 251h1v1h-1zM228 251h1v1h-1zM230 251h1v1h-1zM236 251h2v1h-2zM258 251h2v1h-2zM263 251h1v1h-1zM265 251h1v1h-1zM416 251h1v1h-1zM419 251h1v1h-1zM423 251h2v1h-2zM433 251h2v1h-2zM207 252h1v1h-1zM213 252h1v1h-1zM217 252h1v1h-1zM224 252h2v1h-2zM228 252h1v1h-1zM231 252h1v1h-1zM235 252h1v1h-1zM238 252h2v1h-2zM243 252h1v1h-1zM263 252h3v1h-3zM394 252h1v1h-1zM418 252h1v1h-1zM424 252h1v1h-1zM427 252h1v1h-1zM429 252h1v1h-1zM433 252h1v1h-1zM437 252h1v1h-1zM443 252h1v1h-1zM212 253h1v1h-1zM216 253h2v1h-2zM219 253h1v1h-1zM222 253h1v1h-1zM231 253h1v1h-1zM259 253h2v1h-2zM263 253h1v1h-1zM265 253h1v1h-1zM272 253h1v1h-1zM393 253h1v1h-1zM399 253h1v1h-1zM404 253h1v1h-1zM406 253h4v1h-4zM411 253h1v1h-1zM413 253h1v1h-1zM416 253h1v1h-1zM421 253h1v1h-1zM424 253h1v1h-1zM427 253h3v1h-3zM433 253h2v1h-2zM441 253h1v1h-1zM448 253h2v1h-2zM216 254h2v1h-2zM219 254h2v1h-2zM223 254h1v1h-1zM225 254h1v1h-1zM234 254h1v1h-1zM237 254h1v1h-1zM244 254h1v1h-1zM259 254h1v1h-1zM261 254h1v1h-1zM265 254h1v1h-1zM411 254h1v1h-1zM414 254h1v1h-1zM417 254h1v1h-1zM426 254h1v1h-1zM428 254h2v1h-2zM202 255h1v1h-1zM208 255h2v1h-2zM215 255h1v1h-1zM219 255h1v1h-1zM222 255h1v1h-1zM226 255h1v1h-1zM230 255h1v1h-1zM232 255h2v1h-2zM236 255h1v1h-1zM238 255h1v1h-1zM243 255h1v1h-1zM259 255h1v1h-1zM265 255h2v1h-2zM410 255h1v1h-1zM414 255h1v1h-1zM420 255h3v1h-3zM427 255h2v1h-2zM430 255h1v1h-1zM432 255h1v1h-1zM434 255h1v1h-1zM207 256h1v1h-1zM213 256h2v1h-2zM219 256h1v1h-1zM225 256h2v1h-2zM230 256h3v1h-3zM234 256h1v1h-1zM236 256h1v1h-1zM257 256h1v1h-1zM264 256h1v1h-1zM266 256h1v1h-1zM270 256h1v1h-1zM393 256h1v1h-1zM404 256h3v1h-3zM413 256h1v1h-1zM415 256h1v1h-1zM418 256h1v1h-1zM421 256h1v1h-1zM423 256h1v1h-1zM427 256h1v1h-1zM429 256h1v1h-1zM439 256h1v1h-1zM442 256h1v1h-1zM207 257h1v1h-1zM209 257h1v1h-1zM213 257h1v1h-1zM215 257h2v1h-2zM222 257h1v1h-1zM229 257h1v1h-1zM235 257h1v1h-1zM237 257h1v1h-1zM240 257h1v1h-1zM242 257h1v1h-1zM244 257h1v1h-1zM259 257h1v1h-1zM262 257h1v1h-1zM403 257h1v1h-1zM405 257h1v1h-1zM407 257h1v1h-1zM411 257h1v1h-1zM423 257h1v1h-1zM425 257h1v1h-1zM430 257h2v1h-2zM433 257h1v1h-1zM449 257h1v1h-1zM204 258h1v1h-1zM207 258h1v1h-1zM209 258h1v1h-1zM215 258h1v1h-1zM220 258h1v1h-1zM225 258h1v1h-1zM227 258h1v1h-1zM232 258h2v1h-2zM235 258h1v1h-1zM238 258h1v1h-1zM240 258h2v1h-2zM243 258h1v1h-1zM247 258h1v1h-1zM260 258h2v1h-2zM264 258h1v1h-1zM399 258h1v1h-1zM402 258h1v1h-1zM404 258h1v1h-1zM410 258h1v1h-1zM412 258h1v1h-1zM440 258h1v1h-1zM202 259h1v1h-1zM205 259h1v1h-1zM212 259h2v1h-2zM215 259h2v1h-2zM227 259h1v1h-1zM231 259h1v1h-1zM234 259h1v1h-1zM237 259h2v1h-2zM242 259h2v1h-2zM251 259h1v1h-1zM254 259h1v1h-1zM259 259h1v1h-1zM265 259h1v1h-1zM267 259h1v1h-1zM393 259h1v1h-1zM397 259h1v1h-1zM399 259h3v1h-3zM404 259h2v1h-2zM411 259h1v1h-1zM420 259h1v1h-1zM426 259h1v1h-1zM436 259h1v1h-1zM439 259h3v1h-3zM445 259h1v1h-1zM448 259h1v1h-1zM206 260h1v1h-1zM209 260h1v1h-1zM211 260h1v1h-1zM213 260h5v1h-5zM220 260h1v1h-1zM224 260h1v1h-1zM228 260h1v1h-1zM230 260h1v1h-1zM232 260h1v1h-1zM234 260h2v1h-2zM237 260h1v1h-1zM239 260h1v1h-1zM251 260h1v1h-1zM253 260h1v1h-1zM255 260h6v1h-6zM264 260h2v1h-2zM389 260h2v1h-2zM397 260h1v1h-1zM399 260h1v1h-1zM406 260h1v1h-1zM418 260h1v1h-1zM425 260h1v1h-1zM427 260h1v1h-1zM429 260h2v1h-2zM432 260h1v1h-1zM205 261h1v1h-1zM208 261h3v1h-3zM218 261h1v1h-1zM221 261h2v1h-2zM224 261h1v1h-1zM226 261h1v1h-1zM228 261h3v1h-3zM234 261h2v1h-2zM237 261h1v1h-1zM240 261h1v1h-1zM244 261h1v1h-1zM253 261h1v1h-1zM255 261h1v1h-1zM259 261h2v1h-2zM393 261h1v1h-1zM397 261h2v1h-2zM405 261h1v1h-1zM408 261h1v1h-1zM433 261h1v1h-1zM437 261h1v1h-1zM441 261h1v1h-1zM443 261h1v1h-1zM448 261h1v1h-1zM208 262h1v1h-1zM213 262h1v1h-1zM215 262h2v1h-2zM218 262h2v1h-2zM222 262h1v1h-1zM225 262h1v1h-1zM227 262h1v1h-1zM230 262h2v1h-2zM233 262h2v1h-2zM245 262h1v1h-1zM247 262h2v1h-2zM253 262h1v1h-1zM256 262h1v1h-1zM260 262h5v1h-5zM267 262h1v1h-1zM389 262h1v1h-1zM396 262h1v1h-1zM403 262h1v1h-1zM407 262h1v1h-1zM411 262h1v1h-1zM433 262h1v1h-1zM439 262h1v1h-1zM441 262h1v1h-1zM444 262h1v1h-1zM446 262h1v1h-1zM209 263h1v1h-1zM216 263h1v1h-1zM219 263h1v1h-1zM221 263h1v1h-1zM224 263h1v1h-1zM226 263h1v1h-1zM228 263h4v1h-4zM241 263h1v1h-1zM247 263h1v1h-1zM249 263h1v1h-1zM251 263h1v1h-1zM253 263h1v1h-1zM257 263h2v1h-2zM265 263h2v1h-2zM389 263h1v1h-1zM395 263h2v1h-2zM398 263h1v1h-1zM404 263h2v1h-2zM407 263h1v1h-1zM410 263h1v1h-1zM416 263h2v1h-2zM424 263h1v1h-1zM427 263h1v1h-1zM431 263h1v1h-1zM433 263h1v1h-1zM438 263h1v1h-1zM206 264h1v1h-1zM210 264h1v1h-1zM216 264h1v1h-1zM221 264h1v1h-1zM224 264h4v1h-4zM232 264h1v1h-1zM236 264h3v1h-3zM240 264h1v1h-1zM244 264h1v1h-1zM247 264h1v1h-1zM255 264h1v1h-1zM259 264h1v1h-1zM261 264h1v1h-1zM393 264h1v1h-1zM395 264h2v1h-2zM401 264h2v1h-2zM404 264h1v1h-1zM406 264h3v1h-3zM411 264h1v1h-1zM418 264h1v1h-1zM429 264h1v1h-1zM433 264h1v1h-1zM435 264h2v1h-2zM438 264h2v1h-2zM441 264h1v1h-1zM446 264h1v1h-1zM208 265h1v1h-1zM210 265h2v1h-2zM219 265h1v1h-1zM221 265h2v1h-2zM225 265h3v1h-3zM230 265h1v1h-1zM238 265h1v1h-1zM246 265h1v1h-1zM249 265h1v1h-1zM251 265h1v1h-1zM253 265h3v1h-3zM257 265h2v1h-2zM263 265h2v1h-2zM394 265h2v1h-2zM397 265h2v1h-2zM400 265h1v1h-1zM403 265h1v1h-1zM405 265h2v1h-2zM408 265h3v1h-3zM412 265h1v1h-1zM424 265h1v1h-1zM432 265h1v1h-1zM434 265h1v1h-1zM437 265h1v1h-1zM439 265h1v1h-1zM444 265h1v1h-1zM446 265h1v1h-1zM448 265h1v1h-1zM204 266h2v1h-2zM208 266h1v1h-1zM212 266h1v1h-1zM217 266h1v1h-1zM220 266h2v1h-2zM228 266h1v1h-1zM239 266h1v1h-1zM244 266h1v1h-1zM247 266h2v1h-2zM250 266h1v1h-1zM254 266h2v1h-2zM257 266h1v1h-1zM259 266h1v1h-1zM261 266h1v1h-1zM263 266h1v1h-1zM387 266h1v1h-1zM399 266h1v1h-1zM401 266h2v1h-2zM406 266h1v1h-1zM410 266h2v1h-2zM424 266h1v1h-1zM427 266h2v1h-2zM431 266h3v1h-3zM436 266h3v1h-3zM442 266h1v1h-1zM445 266h1v1h-1zM213 267h2v1h-2zM216 267h4v1h-4zM222 267h1v1h-1zM224 267h1v1h-1zM227 267h2v1h-2zM231 267h1v1h-1zM234 267h2v1h-2zM238 267h1v1h-1zM240 267h2v1h-2zM245 267h2v1h-2zM248 267h2v1h-2zM252 267h1v1h-1zM260 267h1v1h-1zM393 267h1v1h-1zM399 267h1v1h-1zM405 267h1v1h-1zM407 267h1v1h-1zM433 267h1v1h-1zM438 267h1v1h-1zM444 267h2v1h-2zM207 268h2v1h-2zM211 268h1v1h-1zM215 268h1v1h-1zM220 268h3v1h-3zM232 268h1v1h-1zM236 268h2v1h-2zM240 268h3v1h-3zM247 268h1v1h-1zM252 268h2v1h-2zM256 268h1v1h-1zM260 268h1v1h-1zM262 268h1v1h-1zM392 268h1v1h-1zM400 268h1v1h-1zM404 268h1v1h-1zM422 268h1v1h-1zM425 268h1v1h-1zM428 268h1v1h-1zM430 268h1v1h-1zM436 268h4v1h-4zM216 269h2v1h-2zM224 269h1v1h-1zM228 269h1v1h-1zM233 269h2v1h-2zM238 269h3v1h-3zM242 269h2v1h-2zM246 269h1v1h-1zM251 269h1v1h-1zM254 269h1v1h-1zM258 269h1v1h-1zM262 269h2v1h-2zM387 269h1v1h-1zM395 269h1v1h-1zM399 269h2v1h-2zM403 269h1v1h-1zM405 269h2v1h-2zM423 269h1v1h-1zM426 269h1v1h-1zM430 269h1v1h-1zM432 269h2v1h-2zM438 269h1v1h-1zM209 270h3v1h-3zM223 270h2v1h-2zM229 270h1v1h-1zM236 270h1v1h-1zM243 270h1v1h-1zM248 270h1v1h-1zM251 270h1v1h-1zM258 270h1v1h-1zM260 270h1v1h-1zM264 270h1v1h-1zM386 270h2v1h-2zM390 270h1v1h-1zM395 270h1v1h-1zM397 270h1v1h-1zM399 270h2v1h-2zM403 270h2v1h-2zM407 270h1v1h-1zM409 270h2v1h-2zM412 270h1v1h-1zM423 270h1v1h-1zM425 270h1v1h-1zM427 270h1v1h-1zM430 270h3v1h-3zM434 270h3v1h-3zM438 270h2v1h-2zM442 270h2v1h-2zM446 270h1v1h-1zM207 271h1v1h-1zM210 271h1v1h-1zM214 271h1v1h-1zM216 271h1v1h-1zM220 271h3v1h-3zM224 271h1v1h-1zM226 271h2v1h-2zM230 271h1v1h-1zM239 271h1v1h-1zM241 271h1v1h-1zM244 271h1v1h-1zM246 271h1v1h-1zM248 271h3v1h-3zM255 271h3v1h-3zM259 271h2v1h-2zM388 271h2v1h-2zM392 271h1v1h-1zM394 271h3v1h-3zM398 271h1v1h-1zM402 271h1v1h-1zM404 271h2v1h-2zM414 271h1v1h-1zM419 271h1v1h-1zM429 271h1v1h-1zM432 271h1v1h-1zM438 271h1v1h-1zM440 271h1v1h-1zM202 272h1v1h-1zM208 272h1v1h-1zM214 272h1v1h-1zM219 272h1v1h-1zM223 272h1v1h-1zM230 272h3v1h-3zM235 272h2v1h-2zM244 272h1v1h-1zM247 272h2v1h-2zM253 272h2v1h-2zM258 272h2v1h-2zM264 272h1v1h-1zM389 272h1v1h-1zM392 272h1v1h-1zM400 272h1v1h-1zM403 272h1v1h-1zM407 272h2v1h-2zM411 272h1v1h-1zM416 272h1v1h-1zM423 272h2v1h-2zM430 272h2v1h-2zM435 272h4v1h-4zM207 273h1v1h-1zM210 273h1v1h-1zM215 273h1v1h-1zM218 273h2v1h-2zM223 273h1v1h-1zM228 273h1v1h-1zM234 273h2v1h-2zM238 273h1v1h-1zM241 273h1v1h-1zM247 273h1v1h-1zM251 273h1v1h-1zM253 273h1v1h-1zM255 273h2v1h-2zM259 273h2v1h-2zM262 273h1v1h-1zM390 273h1v1h-1zM392 273h1v1h-1zM396 273h2v1h-2zM400 273h1v1h-1zM402 273h1v1h-1zM406 273h3v1h-3zM413 273h1v1h-1zM417 273h1v1h-1zM419 273h1v1h-1zM422 273h1v1h-1zM433 273h1v1h-1zM436 273h1v1h-1zM439 273h2v1h-2zM442 273h2v1h-2zM213 274h2v1h-2zM216 274h3v1h-3zM221 274h2v1h-2zM227 274h1v1h-1zM230 274h1v1h-1zM232 274h1v1h-1zM234 274h1v1h-1zM240 274h1v1h-1zM244 274h2v1h-2zM247 274h1v1h-1zM249 274h1v1h-1zM255 274h1v1h-1zM389 274h1v1h-1zM393 274h3v1h-3zM398 274h1v1h-1zM400 274h3v1h-3zM404 274h1v1h-1zM413 274h2v1h-2zM418 274h1v1h-1zM421 274h2v1h-2zM426 274h2v1h-2zM430 274h1v1h-1zM438 274h3v1h-3zM208 275h1v1h-1zM220 275h2v1h-2zM227 275h1v1h-1zM241 275h2v1h-2zM248 275h1v1h-1zM250 275h1v1h-1zM252 275h7v1h-7zM265 275h1v1h-1zM273 275h1v1h-1zM389 275h2v1h-2zM393 275h1v1h-1zM396 275h1v1h-1zM400 275h1v1h-1zM404 275h1v1h-1zM416 275h2v1h-2zM422 275h1v1h-1zM424 275h1v1h-1zM428 275h1v1h-1zM436 275h2v1h-2zM205 276h1v1h-1zM212 276h1v1h-1zM227 276h1v1h-1zM229 276h1v1h-1zM233 276h1v1h-1zM237 276h2v1h-2zM241 276h2v1h-2zM247 276h1v1h-1zM255 276h1v1h-1zM258 276h1v1h-1zM266 276h1v1h-1zM389 276h1v1h-1zM395 276h3v1h-3zM399 276h1v1h-1zM408 276h1v1h-1zM424 276h1v1h-1zM427 276h1v1h-1zM430 276h1v1h-1zM444 276h1v1h-1zM222 277h2v1h-2zM226 277h1v1h-1zM233 277h1v1h-1zM242 277h1v1h-1zM247 277h1v1h-1zM252 277h1v1h-1zM254 277h1v1h-1zM256 277h1v1h-1zM392 277h1v1h-1zM394 277h3v1h-3zM405 277h1v1h-1zM407 277h1v1h-1zM415 277h1v1h-1zM418 277h1v1h-1zM424 277h2v1h-2zM428 277h4v1h-4zM437 277h2v1h-2zM444 277h1v1h-1zM208 278h1v1h-1zM216 278h1v1h-1zM222 278h4v1h-4zM231 278h2v1h-2zM239 278h1v1h-1zM244 278h1v1h-1zM248 278h1v1h-1zM251 278h1v1h-1zM257 278h1v1h-1zM277 278h1v1h-1zM395 278h3v1h-3zM400 278h1v1h-1zM402 278h1v1h-1zM407 278h2v1h-2zM410 278h2v1h-2zM418 278h1v1h-1zM423 278h1v1h-1zM425 278h1v1h-1zM429 278h1v1h-1zM434 278h3v1h-3zM442 278h1v1h-1zM451 278h1v1h-1zM202 279h1v1h-1zM204 279h1v1h-1zM211 279h1v1h-1zM216 279h1v1h-1zM222 279h2v1h-2zM232 279h1v1h-1zM238 279h1v1h-1zM253 279h1v1h-1zM393 279h4v1h-4zM399 279h1v1h-1zM411 279h1v1h-1zM416 279h2v1h-2zM419 279h1v1h-1zM421 279h1v1h-1zM423 279h3v1h-3zM430 279h1v1h-1zM435 279h1v1h-1zM53 280h1v1h-1zM202 280h1v1h-1zM208 280h1v1h-1zM211 280h1v1h-1zM215 280h1v1h-1zM219 280h3v1h-3zM223 280h1v1h-1zM229 280h1v1h-1zM231 280h1v1h-1zM233 280h1v1h-1zM238 280h1v1h-1zM240 280h1v1h-1zM248 280h1v1h-1zM252 280h2v1h-2zM258 280h1v1h-1zM260 280h1v1h-1zM386 280h3v1h-3zM390 280h3v1h-3zM395 280h1v1h-1zM406 280h1v1h-1zM408 280h1v1h-1zM417 280h1v1h-1zM433 280h2v1h-2zM437 280h1v1h-1zM446 280h1v1h-1zM44 281h1v1h-1zM207 281h1v1h-1zM210 281h1v1h-1zM213 281h1v1h-1zM216 281h1v1h-1zM220 281h1v1h-1zM229 281h1v1h-1zM234 281h2v1h-2zM238 281h1v1h-1zM250 281h1v1h-1zM253 281h1v1h-1zM261 281h1v1h-1zM387 281h1v1h-1zM389 281h5v1h-5zM395 281h1v1h-1zM397 281h1v1h-1zM400 281h1v1h-1zM404 281h1v1h-1zM415 281h1v1h-1zM418 281h1v1h-1zM424 281h1v1h-1zM426 281h1v1h-1zM428 281h1v1h-1zM430 281h1v1h-1zM434 281h4v1h-4zM439 281h1v1h-1zM442 281h2v1h-2zM447 281h1v1h-1zM449 281h1v1h-1zM37 282h1v1h-1zM43 282h1v1h-1zM45 282h1v1h-1zM206 282h1v1h-1zM209 282h1v1h-1zM221 282h1v1h-1zM223 282h1v1h-1zM227 282h2v1h-2zM239 282h1v1h-1zM246 282h2v1h-2zM250 282h1v1h-1zM254 282h1v1h-1zM257 282h1v1h-1zM264 282h1v1h-1zM270 282h1v1h-1zM387 282h1v1h-1zM389 282h1v1h-1zM392 282h2v1h-2zM395 282h1v1h-1zM399 282h1v1h-1zM404 282h1v1h-1zM411 282h1v1h-1zM417 282h1v1h-1zM424 282h2v1h-2zM428 282h1v1h-1zM436 282h1v1h-1zM42 283h1v1h-1zM46 283h2v1h-2zM55 283h1v1h-1zM61 283h1v1h-1zM208 283h1v1h-1zM215 283h1v1h-1zM217 283h1v1h-1zM223 283h2v1h-2zM242 283h1v1h-1zM256 283h1v1h-1zM264 283h1v1h-1zM387 283h1v1h-1zM391 283h1v1h-1zM402 283h1v1h-1zM406 283h1v1h-1zM411 283h1v1h-1zM415 283h1v1h-1zM418 283h1v1h-1zM420 283h1v1h-1zM427 283h1v1h-1zM431 283h1v1h-1zM46 284h5v1h-5zM54 284h1v1h-1zM56 284h1v1h-1zM207 284h1v1h-1zM213 284h2v1h-2zM216 284h1v1h-1zM221 284h1v1h-1zM226 284h1v1h-1zM230 284h1v1h-1zM235 284h1v1h-1zM387 284h1v1h-1zM390 284h1v1h-1zM394 284h2v1h-2zM398 284h1v1h-1zM400 284h1v1h-1zM404 284h2v1h-2zM409 284h1v1h-1zM419 284h1v1h-1zM422 284h2v1h-2zM426 284h4v1h-4zM431 284h3v1h-3zM438 284h1v1h-1zM32 285h1v1h-1zM47 285h1v1h-1zM55 285h2v1h-2zM207 285h1v1h-1zM210 285h3v1h-3zM215 285h2v1h-2zM218 285h1v1h-1zM221 285h1v1h-1zM223 285h1v1h-1zM228 285h1v1h-1zM237 285h2v1h-2zM240 285h1v1h-1zM387 285h4v1h-4zM397 285h1v1h-1zM406 285h1v1h-1zM408 285h1v1h-1zM411 285h2v1h-2zM420 285h1v1h-1zM427 285h2v1h-2zM430 285h3v1h-3zM33 286h1v1h-1zM35 286h1v1h-1zM38 286h1v1h-1zM42 286h1v1h-1zM48 286h1v1h-1zM50 286h1v1h-1zM56 286h1v1h-1zM63 286h2v1h-2zM203 286h1v1h-1zM210 286h1v1h-1zM212 286h2v1h-2zM216 286h1v1h-1zM220 286h3v1h-3zM224 286h1v1h-1zM228 286h1v1h-1zM230 286h2v1h-2zM245 286h1v1h-1zM251 286h1v1h-1zM253 286h1v1h-1zM264 286h1v1h-1zM274 286h1v1h-1zM388 286h1v1h-1zM390 286h1v1h-1zM394 286h1v1h-1zM396 286h1v1h-1zM400 286h1v1h-1zM410 286h1v1h-1zM413 286h1v1h-1zM417 286h3v1h-3zM427 286h2v1h-2zM430 286h2v1h-2zM437 286h1v1h-1zM32 287h1v1h-1zM35 287h1v1h-1zM45 287h1v1h-1zM47 287h1v1h-1zM49 287h1v1h-1zM64 287h1v1h-1zM202 287h1v1h-1zM204 287h2v1h-2zM208 287h2v1h-2zM214 287h1v1h-1zM218 287h1v1h-1zM220 287h1v1h-1zM226 287h3v1h-3zM235 287h2v1h-2zM243 287h1v1h-1zM245 287h1v1h-1zM261 287h1v1h-1zM387 287h2v1h-2zM390 287h1v1h-1zM392 287h1v1h-1zM398 287h1v1h-1zM400 287h1v1h-1zM402 287h1v1h-1zM407 287h2v1h-2zM412 287h1v1h-1zM416 287h2v1h-2zM421 287h2v1h-2zM424 287h1v1h-1zM429 287h1v1h-1zM29 288h1v1h-1zM33 288h1v1h-1zM37 288h1v1h-1zM43 288h1v1h-1zM47 288h1v1h-1zM49 288h1v1h-1zM52 288h1v1h-1zM54 288h1v1h-1zM209 288h1v1h-1zM214 288h1v1h-1zM216 288h1v1h-1zM218 288h1v1h-1zM220 288h2v1h-2zM227 288h1v1h-1zM229 288h3v1h-3zM234 288h1v1h-1zM241 288h1v1h-1zM252 288h1v1h-1zM264 288h1v1h-1zM387 288h1v1h-1zM393 288h1v1h-1zM396 288h1v1h-1zM412 288h1v1h-1zM414 288h1v1h-1zM417 288h1v1h-1zM421 288h2v1h-2zM425 288h1v1h-1zM31 289h4v1h-4zM37 289h3v1h-3zM42 289h2v1h-2zM48 289h1v1h-1zM50 289h1v1h-1zM52 289h3v1h-3zM58 289h1v1h-1zM60 289h1v1h-1zM202 289h1v1h-1zM205 289h1v1h-1zM210 289h2v1h-2zM217 289h1v1h-1zM219 289h1v1h-1zM221 289h1v1h-1zM224 289h1v1h-1zM227 289h3v1h-3zM231 289h2v1h-2zM237 289h1v1h-1zM249 289h1v1h-1zM252 289h1v1h-1zM262 289h1v1h-1zM281 289h1v1h-1zM388 289h2v1h-2zM392 289h1v1h-1zM394 289h1v1h-1zM396 289h2v1h-2zM399 289h1v1h-1zM408 289h1v1h-1zM410 289h1v1h-1zM412 289h1v1h-1zM414 289h1v1h-1zM417 289h1v1h-1zM419 289h2v1h-2zM423 289h1v1h-1zM426 289h2v1h-2zM432 289h1v1h-1zM444 289h1v1h-1zM31 290h1v1h-1zM40 290h3v1h-3zM49 290h1v1h-1zM53 290h1v1h-1zM55 290h1v1h-1zM57 290h1v1h-1zM62 290h1v1h-1zM202 290h1v1h-1zM207 290h1v1h-1zM209 290h1v1h-1zM211 290h1v1h-1zM218 290h1v1h-1zM221 290h2v1h-2zM224 290h2v1h-2zM227 290h2v1h-2zM233 290h1v1h-1zM236 290h1v1h-1zM239 290h1v1h-1zM247 290h1v1h-1zM251 290h1v1h-1zM255 290h1v1h-1zM257 290h2v1h-2zM387 290h2v1h-2zM393 290h1v1h-1zM399 290h1v1h-1zM401 290h1v1h-1zM403 290h1v1h-1zM409 290h1v1h-1zM413 290h4v1h-4zM419 290h1v1h-1zM421 290h1v1h-1zM423 290h1v1h-1zM425 290h1v1h-1zM430 290h1v1h-1zM433 290h1v1h-1zM31 291h1v1h-1zM34 291h2v1h-2zM37 291h1v1h-1zM46 291h1v1h-1zM48 291h2v1h-2zM57 291h2v1h-2zM212 291h1v1h-1zM214 291h1v1h-1zM218 291h1v1h-1zM224 291h2v1h-2zM229 291h1v1h-1zM232 291h1v1h-1zM236 291h2v1h-2zM240 291h1v1h-1zM244 291h1v1h-1zM260 291h1v1h-1zM264 291h1v1h-1zM386 291h1v1h-1zM388 291h1v1h-1zM391 291h1v1h-1zM393 291h2v1h-2zM396 291h1v1h-1zM401 291h2v1h-2zM411 291h1v1h-1zM416 291h1v1h-1zM418 291h1v1h-1zM421 291h1v1h-1zM424 291h1v1h-1zM431 291h2v1h-2zM438 291h1v1h-1zM31 292h1v1h-1zM33 292h1v1h-1zM35 292h1v1h-1zM39 292h1v1h-1zM53 292h1v1h-1zM55 292h3v1h-3zM205 292h1v1h-1zM212 292h1v1h-1zM214 292h1v1h-1zM218 292h3v1h-3zM222 292h1v1h-1zM226 292h1v1h-1zM228 292h1v1h-1zM233 292h2v1h-2zM239 292h1v1h-1zM266 292h1v1h-1zM386 292h3v1h-3zM391 292h1v1h-1zM395 292h1v1h-1zM397 292h1v1h-1zM401 292h1v1h-1zM411 292h1v1h-1zM417 292h2v1h-2zM422 292h1v1h-1zM428 292h1v1h-1zM432 292h1v1h-1zM436 292h1v1h-1zM30 293h1v1h-1zM33 293h2v1h-2zM36 293h1v1h-1zM39 293h2v1h-2zM46 293h1v1h-1zM50 293h1v1h-1zM53 293h1v1h-1zM55 293h3v1h-3zM62 293h1v1h-1zM64 293h1v1h-1zM202 293h2v1h-2zM205 293h3v1h-3zM210 293h1v1h-1zM214 293h2v1h-2zM218 293h2v1h-2zM222 293h2v1h-2zM226 293h1v1h-1zM230 293h1v1h-1zM234 293h1v1h-1zM236 293h1v1h-1zM245 293h1v1h-1zM252 293h1v1h-1zM386 293h2v1h-2zM389 293h1v1h-1zM393 293h2v1h-2zM397 293h2v1h-2zM401 293h1v1h-1zM404 293h1v1h-1zM406 293h1v1h-1zM409 293h1v1h-1zM414 293h1v1h-1zM416 293h1v1h-1zM418 293h2v1h-2zM431 293h1v1h-1zM29 294h1v1h-1zM32 294h1v1h-1zM44 294h1v1h-1zM49 294h1v1h-1zM53 294h4v1h-4zM75 294h1v1h-1zM202 294h1v1h-1zM205 294h1v1h-1zM210 294h1v1h-1zM216 294h1v1h-1zM220 294h1v1h-1zM222 294h1v1h-1zM226 294h1v1h-1zM228 294h1v1h-1zM230 294h1v1h-1zM234 294h1v1h-1zM236 294h2v1h-2zM241 294h2v1h-2zM246 294h1v1h-1zM263 294h1v1h-1zM387 294h1v1h-1zM390 294h1v1h-1zM394 294h4v1h-4zM401 294h2v1h-2zM419 294h1v1h-1zM421 294h1v1h-1zM428 294h1v1h-1zM432 294h1v1h-1zM32 295h1v1h-1zM55 295h1v1h-1zM57 295h1v1h-1zM59 295h1v1h-1zM62 295h2v1h-2zM202 295h1v1h-1zM204 295h1v1h-1zM208 295h1v1h-1zM215 295h1v1h-1zM220 295h1v1h-1zM223 295h1v1h-1zM228 295h1v1h-1zM233 295h1v1h-1zM235 295h1v1h-1zM238 295h1v1h-1zM240 295h1v1h-1zM242 295h2v1h-2zM252 295h1v1h-1zM254 295h1v1h-1zM396 295h1v1h-1zM399 295h1v1h-1zM404 295h3v1h-3zM409 295h1v1h-1zM411 295h3v1h-3zM416 295h2v1h-2zM419 295h2v1h-2zM423 295h3v1h-3zM33 296h1v1h-1zM58 296h2v1h-2zM61 296h1v1h-1zM63 296h1v1h-1zM204 296h3v1h-3zM208 296h1v1h-1zM211 296h3v1h-3zM215 296h3v1h-3zM221 296h4v1h-4zM227 296h1v1h-1zM229 296h1v1h-1zM238 296h1v1h-1zM240 296h1v1h-1zM247 296h1v1h-1zM250 296h2v1h-2zM394 296h1v1h-1zM396 296h1v1h-1zM398 296h2v1h-2zM402 296h1v1h-1zM406 296h3v1h-3zM415 296h2v1h-2zM29 297h2v1h-2zM60 297h1v1h-1zM63 297h1v1h-1zM206 297h1v1h-1zM210 297h1v1h-1zM213 297h1v1h-1zM216 297h1v1h-1zM219 297h2v1h-2zM226 297h1v1h-1zM234 297h2v1h-2zM237 297h1v1h-1zM243 297h1v1h-1zM248 297h1v1h-1zM391 297h1v1h-1zM393 297h1v1h-1zM402 297h2v1h-2zM407 297h1v1h-1zM411 297h1v1h-1zM414 297h3v1h-3zM418 297h1v1h-1zM432 297h1v1h-1zM30 298h1v1h-1zM32 298h1v1h-1zM58 298h1v1h-1zM60 298h2v1h-2zM63 298h2v1h-2zM73 298h1v1h-1zM207 298h1v1h-1zM209 298h3v1h-3zM214 298h2v1h-2zM218 298h5v1h-5zM224 298h1v1h-1zM229 298h2v1h-2zM235 298h2v1h-2zM238 298h1v1h-1zM244 298h1v1h-1zM252 298h1v1h-1zM260 298h1v1h-1zM279 298h1v1h-1zM388 298h1v1h-1zM394 298h1v1h-1zM406 298h2v1h-2zM409 298h1v1h-1zM411 298h3v1h-3zM417 298h1v1h-1zM422 298h1v1h-1zM424 298h1v1h-1zM428 298h1v1h-1zM29 299h4v1h-4zM57 299h2v1h-2zM60 299h3v1h-3zM64 299h1v1h-1zM208 299h4v1h-4zM216 299h1v1h-1zM218 299h1v1h-1zM222 299h1v1h-1zM224 299h1v1h-1zM230 299h1v1h-1zM233 299h2v1h-2zM237 299h1v1h-1zM244 299h2v1h-2zM247 299h1v1h-1zM258 299h1v1h-1zM386 299h1v1h-1zM392 299h1v1h-1zM394 299h2v1h-2zM397 299h1v1h-1zM404 299h1v1h-1zM407 299h1v1h-1zM409 299h1v1h-1zM417 299h1v1h-1zM421 299h1v1h-1zM54 300h1v1h-1zM56 300h2v1h-2zM61 300h2v1h-2zM202 300h1v1h-1zM204 300h1v1h-1zM206 300h1v1h-1zM216 300h1v1h-1zM218 300h2v1h-2zM222 300h1v1h-1zM224 300h1v1h-1zM226 300h3v1h-3zM232 300h3v1h-3zM236 300h2v1h-2zM245 300h1v1h-1zM258 300h1v1h-1zM386 300h1v1h-1zM391 300h1v1h-1zM393 300h1v1h-1zM395 300h2v1h-2zM400 300h1v1h-1zM403 300h1v1h-1zM408 300h1v1h-1zM412 300h1v1h-1zM417 300h2v1h-2zM31 301h1v1h-1zM55 301h1v1h-1zM60 301h1v1h-1zM62 301h1v1h-1zM66 301h1v1h-1zM68 301h1v1h-1zM202 301h1v1h-1zM208 301h1v1h-1zM213 301h1v1h-1zM215 301h1v1h-1zM222 301h1v1h-1zM224 301h2v1h-2zM228 301h4v1h-4zM252 301h1v1h-1zM256 301h1v1h-1zM386 301h1v1h-1zM388 301h1v1h-1zM399 301h1v1h-1zM402 301h1v1h-1zM405 301h2v1h-2zM408 301h2v1h-2zM53 302h1v1h-1zM56 302h1v1h-1zM203 302h2v1h-2zM206 302h4v1h-4zM215 302h1v1h-1zM218 302h1v1h-1zM222 302h2v1h-2zM226 302h1v1h-1zM231 302h1v1h-1zM233 302h1v1h-1zM236 302h2v1h-2zM254 302h1v1h-1zM257 302h1v1h-1zM260 302h1v1h-1zM267 302h1v1h-1zM392 302h1v1h-1zM394 302h2v1h-2zM398 302h1v1h-1zM404 302h1v1h-1zM406 302h1v1h-1zM412 302h1v1h-1zM414 302h1v1h-1zM418 302h1v1h-1zM426 302h1v1h-1zM34 303h1v1h-1zM60 303h1v1h-1zM70 303h1v1h-1zM202 303h2v1h-2zM206 303h1v1h-1zM208 303h5v1h-5zM217 303h1v1h-1zM222 303h1v1h-1zM234 303h2v1h-2zM241 303h1v1h-1zM266 303h1v1h-1zM394 303h1v1h-1zM397 303h1v1h-1zM408 303h1v1h-1zM412 303h2v1h-2zM416 303h1v1h-1zM418 303h1v1h-1zM29 304h2v1h-2zM45 304h1v1h-1zM55 304h2v1h-2zM62 304h1v1h-1zM64 304h2v1h-2zM203 304h1v1h-1zM205 304h1v1h-1zM216 304h1v1h-1zM221 304h1v1h-1zM224 304h2v1h-2zM227 304h1v1h-1zM233 304h2v1h-2zM240 304h1v1h-1zM390 304h1v1h-1zM394 304h1v1h-1zM399 304h1v1h-1zM402 304h1v1h-1zM405 304h1v1h-1zM413 304h2v1h-2zM418 304h1v1h-1zM424 304h1v1h-1zM29 305h1v1h-1zM31 305h1v1h-1zM40 305h1v1h-1zM52 305h1v1h-1zM58 305h1v1h-1zM60 305h1v1h-1zM62 305h1v1h-1zM67 305h1v1h-1zM202 305h1v1h-1zM207 305h2v1h-2zM210 305h2v1h-2zM215 305h1v1h-1zM217 305h1v1h-1zM219 305h5v1h-5zM225 305h2v1h-2zM230 305h1v1h-1zM237 305h1v1h-1zM239 305h1v1h-1zM252 305h1v1h-1zM387 305h1v1h-1zM391 305h2v1h-2zM395 305h1v1h-1zM400 305h3v1h-3zM414 305h1v1h-1zM417 305h1v1h-1zM421 305h1v1h-1zM424 305h1v1h-1zM31 306h1v1h-1zM33 306h3v1h-3zM40 306h1v1h-1zM52 306h1v1h-1zM66 306h1v1h-1zM203 306h2v1h-2zM212 306h1v1h-1zM215 306h1v1h-1zM217 306h2v1h-2zM221 306h1v1h-1zM223 306h1v1h-1zM226 306h1v1h-1zM230 306h1v1h-1zM232 306h1v1h-1zM235 306h1v1h-1zM242 306h1v1h-1zM252 306h1v1h-1zM271 306h1v1h-1zM386 306h3v1h-3zM402 306h1v1h-1zM31 307h2v1h-2zM36 307h1v1h-1zM40 307h1v1h-1zM49 307h1v1h-1zM56 307h1v1h-1zM59 307h4v1h-4zM64 307h1v1h-1zM69 307h1v1h-1zM203 307h3v1h-3zM218 307h1v1h-1zM220 307h2v1h-2zM223 307h1v1h-1zM225 307h1v1h-1zM227 307h1v1h-1zM245 307h1v1h-1zM37 308h1v1h-1zM41 308h2v1h-2zM52 308h5v1h-5zM58 308h1v1h-1zM61 308h1v1h-1zM69 308h1v1h-1zM202 308h2v1h-2zM206 308h1v1h-1zM210 308h1v1h-1zM213 308h1v1h-1zM230 308h1v1h-1zM232 308h1v1h-1zM240 308h1v1h-1zM254 308h1v1h-1zM264 308h1v1h-1z" fill="rgb(128,128,128)" shape-rendering="crispEdges"/>
<path d="M226 82h1v1h-1zM217 86h1v1h-1zM224 87h1v1h-1zM222 88h1v1h-1zM260 89h1v1h-1zM216 90h2v1h-2zM236 90h1v1h-1zM238 90h1v1h-1zM213 91h1v1h-1zM234 91h1v1h-1zM206 92h1v1h-1zM209 92h1v1h-1zM214 92h1v1h-1zM221 92h2v1h-2zM225 92h1v1h-1zM228 92h2v1h-2zM232 92h1v1h-1zM215 93h3v1h-3zM220 93h1v1h-1zM225 93h1v1h-1zM230 93h1v1h-1zM236 93h1v1h-1zM250 93h1v1h-1zM209 94h2v1h-2zM217 94h1v1h-1zM224 94h2v1h-2zM232 94h1v1h-1zM235 94h1v1h-1zM217 95h3v1h-3zM222 95h1v1h-1zM227 95h1v1h-1zM229 95h1v1h-1zM235 95h1v1h-1zM212 96h2v1h-2zM218 96h1v1h-1zM221 96h1v1h-1zM230 96h1v1h-1zM235 96h1v1h-1zM237 96h1v1h-1zM240 96h1v1h-1zM268 96h1v1h-1zM219 97h1v1h-1zM225 97h2v1h-2zM228 97h2v1h-2zM234 97h1v1h-1zM206 98h1v1h-1zM210 98h1v1h-1zM215 98h1v1h-1zM226 98h1v1h-1zM230 98h2v1h-2zM235 98h1v1h-1zM258 98h1v1h-1zM204 99h1v1h-1zM209 99h1v1h-1zM213 99h1v1h-1zM221 99h1v1h-1zM225 99h1v1h-1zM227 99h1v1h-1zM230 99h1v1h-1zM234 99h1v1h-1zM238 99h1v1h-1zM240 99h1v1h-1zM242 99h1v1h-1zM217 100h1v1h-1zM219 100h1v1h-1zM224 100h1v1h-1zM228 100h1v1h-1zM231 100h1v1h-1zM235 100h3v1h-3zM246 100h2v1h-2zM249 100h1v1h-1zM207 101h1v1h-1zM213 101h1v1h-1zM216 101h1v1h-1zM228 101h1v1h-1zM230 101h1v1h-1zM232 101h1v1h-1zM235 101h1v1h-1zM257 101h1v1h-1zM205 102h1v1h-1zM216 102h1v1h-1zM219 102h2v1h-2zM224 102h3v1h-3zM228 102h1v1h-1zM238 102h2v1h-2zM242 102h1v1h-1zM249 102h2v1h-2zM209 103h1v1h-1zM226 103h1v1h-1zM232 103h2v1h-2zM235 103h1v1h-1zM243 103h1v1h-1zM250 103h1v1h-1zM212 104h1v1h-1zM215 104h2v1h-2zM218 104h1v1h-1zM221 104h1v1h-1zM224 104h3v1h-3zM244 104h1v1h-1zM248 104h1v1h-1zM250 104h2v1h-2zM254 104h1v1h-1zM260 104h1v1h-1zM265 104h1v1h-1zM207 105h1v1h-1zM211 105h1v1h-1zM216 105h1v1h-1zM218 105h4v1h-4zM223 105h1v1h-1zM231 105h1v1h-1zM235 105h2v1h-2zM241 105h1v1h-1zM252 105h1v1h-1zM255 105h1v1h-1zM214 106h1v1h-1zM221 106h1v1h-1zM225 106h1v1h-1zM234 106h1v1h-1zM237 106h1v1h-1zM245 106h1v1h-1zM252 106h1v1h-1zM256 106h1v1h-1zM258 106h2v1h-2zM218 107h1v1h-1zM221 107h1v1h-1zM226 107h2v1h-2zM229 107h1v1h-1zM231 107h1v1h-1zM244 107h1v1h-1zM256 107h1v1h-1zM210 108h3v1h-3zM217 108h1v1h-1zM221 108h1v1h-1zM223 108h1v1h-1zM240 108h1v1h-1zM248 108h1v1h-1zM256 108h1v1h-1zM204 109h1v1h-1zM210 109h2v1h-2zM221 109h3v1h-3zM225 109h2v1h-2zM228 109h1v1h-1zM233 109h1v1h-1zM238 109h1v1h-1zM246 109h1v1h-1zM261 109h1v1h-1zM205 110h1v1h-1zM209 110h4v1h-4zM217 110h1v1h-1zM223 110h1v1h-1zM225 110h1v1h-1zM227 110h3v1h-3zM231 110h2v1h-2zM234 110h1v1h-1zM249 110h1v1h-1zM217 111h1v1h-1zM219 111h2v1h-2zM229 111h1v1h-1zM233 111h1v1h-1zM239 111h2v1h-2zM242 111h1v1h-1zM216 112h2v1h-2zM221 112h1v1h-1zM237 112h1v1h-1zM239 112h1v1h-1zM261 112h1v1h-1zM210 113h1v1h-1zM212 113h1v1h-1zM215 113h1v1h-1zM217 113h2v1h-2zM221 113h1v1h-1zM226 113h1v1h-1zM233 113h2v1h-2zM210 114h1v1h-1zM212 114h4v1h-4zM223 114h1v1h-1zM234 114h2v1h-2zM243 114h1v1h-1zM246 114h1v1h-1zM208 115h1v1h-1zM210 115h1v1h-1zM216 115h5v1h-5zM223 115h1v1h-1zM227 115h2v1h-2zM230 115h2v1h-2zM233 115h1v1h-1zM235 115h1v1h-1zM257 115h1v1h-1zM213 116h1v1h-1zM215 116h1v1h-1zM217 116h1v1h-1zM223 116h1v1h-1zM227 116h1v1h-1zM235 116h1v1h-1zM238 116h1v1h-1zM244 116h1v1h-1zM216 117h1v1h-1zM218 117h4v1h-4zM223 117h1v1h-1zM227 117h3v1h-3zM231 117h1v1h-1zM234 117h1v1h-1zM208 118h3v1h-3zM220 118h1v1h-1zM222 118h1v1h-1zM224 118h1v1h-1zM230 118h1v1h-1zM236 118h1v1h-1zM254 118h1v1h-1zM213 119h1v1h-1zM215 119h1v1h-1zM222 119h1v1h-1zM224 119h1v1h-1zM226 119h1v1h-1zM232 119h1v1h-1zM237 119h1v1h-1zM397 119h1v1h-1zM407 119h1v1h-1zM206 120h1v1h-1zM209 120h2v1h-2zM217 120h3v1h-3zM221 120h1v1h-1zM229 120h1v1h-1zM209 121h2v1h-2zM221 121h2v1h-2zM227 121h1v1h-1zM231 121h1v1h-1zM235 121h1v1h-1zM392 121h1v1h-1zM216 122h1v1h-1zM218 122h1v1h-1zM221 122h1v1h-1zM224 122h1v1h-1zM232 122h1v1h-1zM236 122h1v1h-1zM240 122h1v1h-1zM395 122h1v1h-1zM402 122h1v1h-1zM405 122h1v1h-1zM204 123h1v1h-1zM207 123h1v1h-1zM210 123h2v1h-2zM221 123h2v1h-2zM227 123h1v1h-1zM233 123h1v1h-1zM235 123h1v1h-1zM394 123h1v1h-1zM403 123h1v1h-1zM408 123h1v1h-1zM205 124h4v1h-4zM211 124h1v1h-1zM214 124h1v1h-1zM221 124h1v1h-1zM223 124h1v1h-1zM232 124h2v1h-2zM393 124h1v1h-1zM401 124h1v1h-1zM416 124h1v1h-1zM204 125h1v1h-1zM210 125h1v1h-1zM214 125h1v1h-1zM216 125h2v1h-2zM219 125h1v1h-1zM224 125h2v1h-2zM229 125h2v1h-2zM233 125h1v1h-1zM404 125h1v1h-1zM407 125h1v1h-1zM423 125h1v1h-1zM212 126h1v1h-1zM214 126h1v1h-1zM216 126h1v1h-1zM219 126h1v1h-1zM221 126h1v1h-1zM223 126h2v1h-2zM227 126h1v1h-1zM231 126h1v1h-1zM235 126h1v1h-1zM386 126h1v1h-1zM392 126h1v1h-1zM399 126h1v1h-1zM403 126h1v1h-1zM411 126h1v1h-1zM208 127h1v1h-1zM211 127h1v1h-1zM214 127h1v1h-1zM224 127h1v1h-1zM228 127h2v1h-2zM387 127h1v1h-1zM398 127h2v1h-2zM410 127h1v1h-1zM211 128h1v1h-1zM213 128h1v1h-1zM215 128h2v1h-2zM218 128h1v1h-1zM228 128h1v1h-1zM394 128h1v1h-1zM397 128h1v1h-1zM400 128h1v1h-1zM208 129h1v1h-1zM213 129h2v1h-2zM220 129h1v1h-1zM225 129h1v1h-1zM232 129h1v1h-1zM238 129h1v1h-1zM394 129h1v1h-1zM402 129h1v1h-1zM46 130h1v1h-1zM210 130h1v1h-1zM215 130h2v1h-2zM220 130h1v1h-1zM225 130h2v1h-2zM229 130h1v1h-1zM234 130h1v1h-1zM396 130h2v1h-2zM400 130h1v1h-1zM404 130h1v1h-1zM407 130h1v1h-1zM209 131h1v1h-1zM211 131h2v1h-2zM218 131h1v1h-1zM222 131h2v1h-2zM229 131h1v1h-1zM233 131h1v1h-1zM241 131h1v1h-1zM395 131h1v1h-1zM405 131h1v1h-1zM413 131h1v1h-1zM204 132h1v1h-1zM215 132h1v1h-1zM219 132h1v1h-1zM222 132h1v1h-1zM234 132h1v1h-1zM240 132h1v1h-1zM395 132h2v1h-2zM403 132h1v1h-1zM405 132h1v1h-1zM409 132h1v1h-1zM48 133h1v1h-1zM50 133h1v1h-1zM205 133h1v1h-1zM218 133h1v1h-1zM220 133h2v1h-2zM225 133h2v1h-2zM230 133h2v1h-2zM236 133h1v1h-1zM387 133h1v1h-1zM397 133h4v1h-4zM409 133h1v1h-1zM38 134h1v1h-1zM42 134h1v1h-1zM50 134h1v1h-1zM207 134h2v1h-2zM210 134h1v1h-1zM212 134h1v1h-1zM221 134h1v1h-1zM225 134h1v1h-1zM232 134h1v1h-1zM235 134h1v1h-1zM390 134h1v1h-1zM392 134h1v1h-1zM400 134h3v1h-3zM409 134h2v1h-2zM415 134h1v1h-1zM439 134h1v1h-1zM40 135h2v1h-2zM51 135h1v1h-1zM56 135h1v1h-1zM204 135h2v1h-2zM209 135h1v1h-1zM213 135h1v1h-1zM223 135h1v1h-1zM228 135h1v1h-1zM232 135h1v1h-1zM234 135h1v1h-1zM236 135h1v1h-1zM239 135h1v1h-1zM246 135h1v1h-1zM389 135h1v1h-1zM396 135h1v1h-1zM398 135h2v1h-2zM405 135h2v1h-2zM408 135h1v1h-1zM414 135h1v1h-1zM445 135h1v1h-1zM463 135h1v1h-1zM31 136h1v1h-1zM38 136h1v1h-1zM48 136h1v1h-1zM54 136h2v1h-2zM212 136h3v1h-3zM217 136h1v1h-1zM223 136h1v1h-1zM225 136h1v1h-1zM228 136h1v1h-1zM231 136h1v1h-1zM235 136h1v1h-1zM241 136h1v1h-1zM247 136h1v1h-1zM390 136h2v1h-2zM406 136h1v1h-1zM414 136h2v1h-2zM34 137h1v1h-1zM36 137h1v1h-1zM39 137h1v1h-1zM43 137h2v1h-2zM47 137h1v1h-1zM52 137h1v1h-1zM57 137h1v1h-1zM204 137h2v1h-2zM207 137h1v1h-1zM213 137h1v1h-1zM215 137h1v1h-1zM229 137h1v1h-1zM233 137h1v1h-1zM236 137h1v1h-1zM278 137h1v1h-1zM389 137h1v1h-1zM398 137h1v1h-1zM400 137h1v1h-1zM403 137h1v1h-1zM405 137h3v1h-3zM409 137h3v1h-3zM415 137h1v1h-1zM432 137h2v1h-2zM437 137h1v1h-1zM31 138h1v1h-1zM36 138h1v1h-1zM39 138h1v1h-1zM42 138h1v1h-1zM45 138h1v1h-1zM49 138h3v1h-3zM54 138h1v1h-1zM56 138h1v1h-1zM206 138h1v1h-1zM209 138h1v1h-1zM211 138h1v1h-1zM214 138h1v1h-1zM228 138h1v1h-1zM231 138h3v1h-3zM250 138h1v1h-1zM252 138h1v1h-1zM259 138h1v1h-1zM386 138h1v1h-1zM389 138h1v1h-1zM395 138h1v1h-1zM397 138h1v1h-1zM402 138h1v1h-1zM405 138h1v1h-1zM410 138h1v1h-1zM412 138h4v1h-4zM35 139h1v1h-1zM51 139h2v1h-2zM59 139h1v1h-1zM205 139h1v1h-1zM210 139h1v1h-1zM218 139h1v1h-1zM222 139h1v1h-1zM224 139h1v1h-1zM228 139h1v1h-1zM242 139h1v1h-1zM245 139h1v1h-1zM249 139h1v1h-1zM253 139h1v1h-1zM259 139h1v1h-1zM267 139h1v1h-1zM386 139h1v1h-1zM405 139h1v1h-1zM408 139h1v1h-1zM420 139h1v1h-1zM425 139h1v1h-1zM432 139h1v1h-1zM440 139h1v1h-1zM442 139h1v1h-1zM30 140h2v1h-2zM36 140h1v1h-1zM38 140h1v1h-1zM46 140h1v1h-1zM51 140h1v1h-1zM206 140h1v1h-1zM210 140h2v1h-2zM214 140h1v1h-1zM228 140h1v1h-1zM230 140h1v1h-1zM233 140h1v1h-1zM263 140h1v1h-1zM385 140h2v1h-2zM388 140h1v1h-1zM390 140h1v1h-1zM395 140h1v1h-1zM397 140h1v1h-1zM406 140h2v1h-2zM410 140h1v1h-1zM412 140h1v1h-1zM414 140h1v1h-1zM439 140h1v1h-1zM40 141h1v1h-1zM56 141h1v1h-1zM62 141h1v1h-1zM234 141h1v1h-1zM236 141h1v1h-1zM243 141h1v1h-1zM250 141h1v1h-1zM266 141h1v1h-1zM269 141h1v1h-1zM385 141h1v1h-1zM414 141h1v1h-1zM421 141h1v1h-1zM457 141h1v1h-1zM30 142h3v1h-3zM39 142h1v1h-1zM54 142h1v1h-1zM207 142h2v1h-2zM211 142h1v1h-1zM219 142h1v1h-1zM227 142h1v1h-1zM229 142h1v1h-1zM232 142h1v1h-1zM241 142h1v1h-1zM245 142h1v1h-1zM247 142h1v1h-1zM387 142h1v1h-1zM405 142h1v1h-1zM410 142h2v1h-2zM414 142h1v1h-1zM418 142h1v1h-1zM428 142h1v1h-1zM475 142h1v1h-1zM30 143h1v1h-1zM34 143h1v1h-1zM54 143h2v1h-2zM57 143h1v1h-1zM206 143h2v1h-2zM212 143h2v1h-2zM226 143h1v1h-1zM230 143h1v1h-1zM238 143h1v1h-1zM241 143h1v1h-1zM254 143h1v1h-1zM258 143h1v1h-1zM387 143h1v1h-1zM392 143h1v1h-1zM413 143h1v1h-1zM415 143h1v1h-1zM432 143h1v1h-1zM443 143h1v1h-1zM446 143h1v1h-1zM44 144h1v1h-1zM206 144h1v1h-1zM208 144h1v1h-1zM213 144h1v1h-1zM215 144h1v1h-1zM219 144h2v1h-2zM224 144h1v1h-1zM226 144h1v1h-1zM231 144h1v1h-1zM234 144h1v1h-1zM248 144h1v1h-1zM251 144h1v1h-1zM256 144h1v1h-1zM261 144h1v1h-1zM385 144h2v1h-2zM389 144h1v1h-1zM407 144h1v1h-1zM415 144h1v1h-1zM417 144h1v1h-1zM419 144h1v1h-1zM431 144h1v1h-1zM445 144h1v1h-1zM449 144h1v1h-1zM29 145h1v1h-1zM33 145h1v1h-1zM36 145h1v1h-1zM56 145h1v1h-1zM206 145h1v1h-1zM210 145h1v1h-1zM212 145h1v1h-1zM227 145h1v1h-1zM230 145h1v1h-1zM235 145h4v1h-4zM258 145h1v1h-1zM389 145h1v1h-1zM408 145h1v1h-1zM410 145h1v1h-1zM412 145h2v1h-2zM425 145h1v1h-1zM31 146h1v1h-1zM33 146h2v1h-2zM40 146h2v1h-2zM58 146h1v1h-1zM61 146h1v1h-1zM204 146h1v1h-1zM206 146h2v1h-2zM209 146h1v1h-1zM213 146h1v1h-1zM220 146h1v1h-1zM226 146h1v1h-1zM229 146h2v1h-2zM233 146h2v1h-2zM250 146h1v1h-1zM253 146h1v1h-1zM259 146h1v1h-1zM408 146h3v1h-3zM421 146h1v1h-1zM424 146h1v1h-1zM32 147h2v1h-2zM38 147h1v1h-1zM55 147h1v1h-1zM204 147h3v1h-3zM210 147h1v1h-1zM212 147h1v1h-1zM218 147h2v1h-2zM225 147h1v1h-1zM228 147h2v1h-2zM235 147h1v1h-1zM245 147h1v1h-1zM250 147h1v1h-1zM265 147h1v1h-1zM387 147h1v1h-1zM403 147h1v1h-1zM409 147h1v1h-1zM417 147h1v1h-1zM435 147h1v1h-1zM33 148h4v1h-4zM46 148h1v1h-1zM48 148h1v1h-1zM57 148h1v1h-1zM59 148h1v1h-1zM207 148h1v1h-1zM211 148h2v1h-2zM214 148h1v1h-1zM216 148h1v1h-1zM227 148h1v1h-1zM230 148h1v1h-1zM233 148h1v1h-1zM235 148h1v1h-1zM239 148h1v1h-1zM257 148h1v1h-1zM270 148h1v1h-1zM386 148h1v1h-1zM389 148h1v1h-1zM396 148h1v1h-1zM405 148h1v1h-1zM409 148h1v1h-1zM432 148h1v1h-1zM438 148h1v1h-1zM32 149h3v1h-3zM36 149h1v1h-1zM38 149h1v1h-1zM49 149h1v1h-1zM51 149h3v1h-3zM55 149h1v1h-1zM60 149h1v1h-1zM204 149h2v1h-2zM216 149h1v1h-1zM218 149h2v1h-2zM224 149h2v1h-2zM227 149h2v1h-2zM232 149h1v1h-1zM241 149h1v1h-1zM243 149h1v1h-1zM249 149h1v1h-1zM253 149h1v1h-1zM389 149h2v1h-2zM401 149h1v1h-1zM409 149h1v1h-1zM415 149h2v1h-2zM419 149h2v1h-2zM440 149h2v1h-2zM51 150h2v1h-2zM59 150h1v1h-1zM210 150h1v1h-1zM213 150h1v1h-1zM220 150h1v1h-1zM225 150h3v1h-3zM231 150h1v1h-1zM233 150h1v1h-1zM240 150h1v1h-1zM267 150h1v1h-1zM387 150h1v1h-1zM390 150h1v1h-1zM395 150h1v1h-1zM398 150h1v1h-1zM408 150h1v1h-1zM412 150h1v1h-1zM414 150h1v1h-1zM431 150h2v1h-2zM436 150h1v1h-1zM29 151h1v1h-1zM33 151h3v1h-3zM38 151h1v1h-1zM47 151h1v1h-1zM50 151h1v1h-1zM54 151h1v1h-1zM57 151h1v1h-1zM205 151h1v1h-1zM211 151h1v1h-1zM213 151h1v1h-1zM216 151h1v1h-1zM218 151h3v1h-3zM229 151h2v1h-2zM232 151h1v1h-1zM236 151h1v1h-1zM272 151h1v1h-1zM386 151h1v1h-1zM389 151h1v1h-1zM402 151h1v1h-1zM412 151h1v1h-1zM30 152h3v1h-3zM38 152h1v1h-1zM41 152h1v1h-1zM59 152h1v1h-1zM206 152h1v1h-1zM212 152h2v1h-2zM219 152h1v1h-1zM228 152h3v1h-3zM232 152h1v1h-1zM234 152h1v1h-1zM236 152h1v1h-1zM388 152h1v1h-1zM392 152h1v1h-1zM394 152h1v1h-1zM406 152h1v1h-1zM408 152h2v1h-2zM413 152h1v1h-1zM419 152h1v1h-1zM447 152h1v1h-1zM389 153h1v1h-1zM399 153h1v1h-1zM403 153h1v1h-1zM406 153h2v1h-2zM409 153h1v1h-1zM412 153h1v1h-1zM419 153h1v1h-1zM425 153h1v1h-1zM247 232h1v1h-1zM247 233h1v1h-1zM250 233h1v1h-1zM252 233h2v1h-2zM243 234h1v1h-1zM254 234h2v1h-2zM258 234h1v1h-1zM247 235h2v1h-2zM252 235h2v1h-2zM238 236h1v1h-1zM243 236h1v1h-1zM251 236h1v1h-1zM256 236h2v1h-2zM245 237h2v1h-2zM252 237h1v1h-1zM249 238h1v1h-1zM260 238h1v1h-1zM239 239h1v1h-1zM243 239h1v1h-1zM254 239h1v1h-1zM239 240h3v1h-3zM244 240h1v1h-1zM246 240h2v1h-2zM249 240h1v1h-1zM251 240h1v1h-1zM253 240h1v1h-1zM255 240h2v1h-2zM262 240h1v1h-1zM247 241h1v1h-1zM249 241h1v1h-1zM263 241h1v1h-1zM266 241h1v1h-1zM269 241h1v1h-1zM238 242h2v1h-2zM253 242h1v1h-1zM257 242h1v1h-1zM259 242h1v1h-1zM238 243h1v1h-1zM244 243h1v1h-1zM246 243h1v1h-1zM252 243h1v1h-1zM238 244h2v1h-2zM250 244h1v1h-1zM252 244h1v1h-1zM255 244h1v1h-1zM257 244h1v1h-1zM259 244h1v1h-1zM424 244h1v1h-1zM217 245h1v1h-1zM236 245h1v1h-1zM239 245h1v1h-1zM243 245h2v1h-2zM254 245h3v1h-3zM261 245h1v1h-1zM264 245h1v1h-1zM225 246h1v1h-1zM229 246h1v1h-1zM258 246h1v1h-1zM260 246h1v1h-1zM265 246h1v1h-1zM231 247h1v1h-1zM254 247h2v1h-2zM262 248h1v1h-1zM265 248h1v1h-1zM208 249h1v1h-1zM218 249h1v1h-1zM241 249h1v1h-1zM243 249h1v1h-1zM253 249h2v1h-2zM262 249h1v1h-1zM434 249h1v1h-1zM234 250h1v1h-1zM236 250h1v1h-1zM240 250h1v1h-1zM247 250h1v1h-1zM254 250h1v1h-1zM258 250h2v1h-2zM261 250h1v1h-1zM208 251h1v1h-1zM217 251h1v1h-1zM222 251h1v1h-1zM234 251h2v1h-2zM238 251h1v1h-1zM254 251h1v1h-1zM256 251h1v1h-1zM262 251h1v1h-1zM417 251h1v1h-1zM422 251h1v1h-1zM431 251h1v1h-1zM436 251h1v1h-1zM226 252h1v1h-1zM233 252h1v1h-1zM236 252h1v1h-1zM250 252h1v1h-1zM257 252h1v1h-1zM261 252h1v1h-1zM422 252h1v1h-1zM230 253h1v1h-1zM232 253h1v1h-1zM243 253h1v1h-1zM418 253h1v1h-1zM422 253h1v1h-1zM221 254h1v1h-1zM226 254h1v1h-1zM228 254h1v1h-1zM235 254h2v1h-2zM238 254h1v1h-1zM241 254h1v1h-1zM243 254h1v1h-1zM256 254h1v1h-1zM416 254h1v1h-1zM418 254h1v1h-1zM420 254h2v1h-2zM220 255h1v1h-1zM235 255h1v1h-1zM239 255h1v1h-1zM241 255h2v1h-2zM251 255h1v1h-1zM255 255h1v1h-1zM267 255h1v1h-1zM418 255h2v1h-2zM423 255h1v1h-1zM212 256h1v1h-1zM223 256h1v1h-1zM233 256h1v1h-1zM242 256h5v1h-5zM254 256h1v1h-1zM256 256h1v1h-1zM258 256h1v1h-1zM261 256h2v1h-2zM419 256h1v1h-1zM422 256h1v1h-1zM211 257h1v1h-1zM217 257h2v1h-2zM220 257h1v1h-1zM223 257h3v1h-3zM232 257h1v1h-1zM239 257h1v1h-1zM246 257h1v1h-1zM248 257h1v1h-1zM253 257h2v1h-2zM258 257h1v1h-1zM413 257h2v1h-2zM416 257h2v1h-2zM426 257h1v1h-1zM432 257h1v1h-1zM212 258h1v1h-1zM214 258h1v1h-1zM216 258h1v1h-1zM218 258h1v1h-1zM229 258h1v1h-1zM231 258h1v1h-1zM237 258h1v1h-1zM248 258h1v1h-1zM250 258h1v1h-1zM252 258h1v1h-1zM255 258h1v1h-1zM257 258h1v1h-1zM413 258h1v1h-1zM415 258h1v1h-1zM417 258h1v1h-1zM424 258h1v1h-1zM426 258h1v1h-1zM428 258h1v1h-1zM214 259h1v1h-1zM219 259h1v1h-1zM221 259h4v1h-4zM226 259h1v1h-1zM229 259h2v1h-2zM232 259h1v1h-1zM236 259h1v1h-1zM241 259h1v1h-1zM244 259h1v1h-1zM252 259h2v1h-2zM261 259h1v1h-1zM396 259h1v1h-1zM413 259h1v1h-1zM415 259h2v1h-2zM419 259h1v1h-1zM425 259h1v1h-1zM429 259h1v1h-1zM444 259h1v1h-1zM218 260h2v1h-2zM223 260h1v1h-1zM229 260h1v1h-1zM231 260h1v1h-1zM233 260h1v1h-1zM250 260h1v1h-1zM254 260h1v1h-1zM261 260h1v1h-1zM411 260h1v1h-1zM422 260h3v1h-3zM428 260h1v1h-1zM431 260h1v1h-1zM438 260h1v1h-1zM219 261h1v1h-1zM223 261h1v1h-1zM225 261h1v1h-1zM232 261h1v1h-1zM241 261h3v1h-3zM247 261h2v1h-2zM254 261h1v1h-1zM407 261h1v1h-1zM412 261h1v1h-1zM415 261h1v1h-1zM419 261h1v1h-1zM427 261h1v1h-1zM429 261h1v1h-1zM431 261h2v1h-2zM438 261h1v1h-1zM209 262h1v1h-1zM211 262h1v1h-1zM214 262h1v1h-1zM217 262h1v1h-1zM226 262h1v1h-1zM235 262h3v1h-3zM241 262h1v1h-1zM244 262h1v1h-1zM246 262h1v1h-1zM250 262h1v1h-1zM252 262h1v1h-1zM254 262h1v1h-1zM258 262h1v1h-1zM408 262h2v1h-2zM414 262h1v1h-1zM416 262h2v1h-2zM429 262h4v1h-4zM215 263h1v1h-1zM233 263h1v1h-1zM239 263h1v1h-1zM260 263h1v1h-1zM415 263h1v1h-1zM430 263h1v1h-1zM434 263h1v1h-1zM212 264h3v1h-3zM222 264h2v1h-2zM228 264h1v1h-1zM231 264h1v1h-1zM246 264h1v1h-1zM248 264h1v1h-1zM251 264h1v1h-1zM254 264h1v1h-1zM258 264h1v1h-1zM403 264h1v1h-1zM405 264h1v1h-1zM409 264h1v1h-1zM427 264h2v1h-2zM434 264h1v1h-1zM437 264h1v1h-1zM212 265h1v1h-1zM214 265h1v1h-1zM223 265h2v1h-2zM239 265h1v1h-1zM245 265h1v1h-1zM247 265h1v1h-1zM250 265h1v1h-1zM399 265h1v1h-1zM411 265h1v1h-1zM425 265h1v1h-1zM428 265h1v1h-1zM433 265h1v1h-1zM435 265h1v1h-1zM438 265h1v1h-1zM215 266h1v1h-1zM218 266h1v1h-1zM224 266h1v1h-1zM229 266h1v1h-1zM233 266h2v1h-2zM236 266h1v1h-1zM245 266h1v1h-1zM249 266h1v1h-1zM253 266h1v1h-1zM256 266h1v1h-1zM395 266h1v1h-1zM400 266h1v1h-1zM403 266h1v1h-1zM405 266h1v1h-1zM412 266h1v1h-1zM414 266h1v1h-1zM419 266h1v1h-1zM422 266h1v1h-1zM429 266h2v1h-2zM210 267h1v1h-1zM250 267h1v1h-1zM253 267h1v1h-1zM403 267h1v1h-1zM406 267h1v1h-1zM409 267h1v1h-1zM412 267h1v1h-1zM416 267h1v1h-1zM419 267h1v1h-1zM424 267h3v1h-3zM430 267h2v1h-2zM440 267h1v1h-1zM203 268h1v1h-1zM217 268h1v1h-1zM224 268h1v1h-1zM226 268h1v1h-1zM228 268h1v1h-1zM233 268h1v1h-1zM235 268h1v1h-1zM238 268h1v1h-1zM244 268h1v1h-1zM249 268h2v1h-2zM399 268h1v1h-1zM402 268h2v1h-2zM408 268h1v1h-1zM411 268h1v1h-1zM413 268h3v1h-3zM429 268h1v1h-1zM432 268h1v1h-1zM435 268h1v1h-1zM218 269h1v1h-1zM225 269h1v1h-1zM235 269h1v1h-1zM247 269h1v1h-1zM250 269h1v1h-1zM252 269h2v1h-2zM256 269h1v1h-1zM408 269h1v1h-1zM411 269h3v1h-3zM416 269h1v1h-1zM422 269h1v1h-1zM429 269h1v1h-1zM434 269h1v1h-1zM217 270h1v1h-1zM222 270h1v1h-1zM226 270h1v1h-1zM230 270h1v1h-1zM242 270h1v1h-1zM245 270h2v1h-2zM253 270h2v1h-2zM402 270h1v1h-1zM405 270h2v1h-2zM408 270h1v1h-1zM411 270h1v1h-1zM413 270h2v1h-2zM422 270h1v1h-1zM429 270h1v1h-1zM433 270h1v1h-1zM215 271h1v1h-1zM218 271h2v1h-2zM225 271h1v1h-1zM228 271h1v1h-1zM237 271h1v1h-1zM403 271h1v1h-1zM409 271h1v1h-1zM412 271h1v1h-1zM420 271h1v1h-1zM423 271h1v1h-1zM425 271h2v1h-2zM428 271h1v1h-1zM430 271h1v1h-1zM434 271h1v1h-1zM441 271h1v1h-1zM217 272h1v1h-1zM229 272h1v1h-1zM237 272h1v1h-1zM397 272h1v1h-1zM404 272h1v1h-1zM406 272h1v1h-1zM413 272h1v1h-1zM418 272h2v1h-2zM421 272h1v1h-1zM427 272h3v1h-3zM432 272h1v1h-1zM434 272h1v1h-1zM221 273h1v1h-1zM401 273h1v1h-1zM403 273h1v1h-1zM409 273h3v1h-3zM414 273h1v1h-1zM425 273h1v1h-1zM429 273h3v1h-3zM437 273h1v1h-1zM223 274h1v1h-1zM225 274h1v1h-1zM228 274h1v1h-1zM405 274h1v1h-1zM407 274h1v1h-1zM411 274h1v1h-1zM417 274h1v1h-1zM419 274h1v1h-1zM424 274h1v1h-1zM211 275h1v1h-1zM222 275h1v1h-1zM386 275h3v1h-3zM392 275h1v1h-1zM395 275h1v1h-1zM397 275h1v1h-1zM408 275h1v1h-1zM410 275h1v1h-1zM415 275h1v1h-1zM418 275h3v1h-3zM429 275h1v1h-1zM433 275h1v1h-1zM221 276h1v1h-1zM228 276h1v1h-1zM230 276h1v1h-1zM390 276h1v1h-1zM392 276h1v1h-1zM406 276h2v1h-2zM409 276h2v1h-2zM413 276h2v1h-2zM418 276h1v1h-1zM421 276h3v1h-3zM426 276h1v1h-1zM432 276h2v1h-2zM443 276h1v1h-1zM215 277h1v1h-1zM386 277h1v1h-1zM398 277h1v1h-1zM400 277h1v1h-1zM404 277h1v1h-1zM409 277h2v1h-2zM416 277h1v1h-1zM420 277h1v1h-1zM422 277h2v1h-2zM426 277h1v1h-1zM439 277h1v1h-1zM441 277h1v1h-1zM237 278h1v1h-1zM391 278h1v1h-1zM394 278h1v1h-1zM401 278h1v1h-1zM406 278h1v1h-1zM414 278h1v1h-1zM424 278h1v1h-1zM427 278h2v1h-2zM219 279h1v1h-1zM225 279h1v1h-1zM392 279h1v1h-1zM397 279h1v1h-1zM400 279h1v1h-1zM404 279h1v1h-1zM408 279h1v1h-1zM410 279h1v1h-1zM414 279h1v1h-1zM418 279h1v1h-1zM427 279h1v1h-1zM433 279h1v1h-1zM245 280h1v1h-1zM394 280h1v1h-1zM396 280h2v1h-2zM410 280h1v1h-1zM412 280h1v1h-1zM415 280h1v1h-1zM418 280h1v1h-1zM420 280h1v1h-1zM425 280h2v1h-2zM435 280h1v1h-1zM394 281h1v1h-1zM396 281h1v1h-1zM402 281h1v1h-1zM411 281h1v1h-1zM417 281h1v1h-1zM422 281h2v1h-2zM429 281h1v1h-1zM205 282h1v1h-1zM216 282h1v1h-1zM218 282h2v1h-2zM222 282h1v1h-1zM386 282h1v1h-1zM394 282h1v1h-1zM397 282h2v1h-2zM402 282h1v1h-1zM406 282h1v1h-1zM408 282h2v1h-2zM412 282h1v1h-1zM415 282h1v1h-1zM426 282h2v1h-2zM51 283h1v1h-1zM214 283h1v1h-1zM219 283h1v1h-1zM246 283h1v1h-1zM251 283h1v1h-1zM388 283h1v1h-1zM392 283h1v1h-1zM396 283h1v1h-1zM408 283h1v1h-1zM425 283h2v1h-2zM215 284h1v1h-1zM217 284h2v1h-2zM220 284h1v1h-1zM238 284h1v1h-1zM396 284h2v1h-2zM406 284h1v1h-1zM411 284h2v1h-2zM414 284h1v1h-1zM416 284h1v1h-1zM418 284h1v1h-1zM420 284h1v1h-1zM424 284h1v1h-1zM205 285h1v1h-1zM217 285h1v1h-1zM392 285h1v1h-1zM395 285h2v1h-2zM398 285h2v1h-2zM402 285h1v1h-1zM404 285h1v1h-1zM409 285h1v1h-1zM415 285h1v1h-1zM419 285h1v1h-1zM421 285h1v1h-1zM426 285h1v1h-1zM46 286h1v1h-1zM211 286h1v1h-1zM223 286h1v1h-1zM387 286h1v1h-1zM389 286h1v1h-1zM392 286h1v1h-1zM398 286h1v1h-1zM401 286h1v1h-1zM406 286h1v1h-1zM409 286h1v1h-1zM414 286h1v1h-1zM416 286h1v1h-1zM421 286h1v1h-1zM423 286h1v1h-1zM44 287h1v1h-1zM50 287h1v1h-1zM206 287h1v1h-1zM210 287h1v1h-1zM213 287h1v1h-1zM216 287h1v1h-1zM219 287h1v1h-1zM240 287h1v1h-1zM393 287h1v1h-1zM404 287h2v1h-2zM410 287h1v1h-1zM413 287h1v1h-1zM415 287h1v1h-1zM418 287h1v1h-1zM38 288h1v1h-1zM42 288h1v1h-1zM50 288h1v1h-1zM55 288h2v1h-2zM61 288h1v1h-1zM210 288h1v1h-1zM213 288h1v1h-1zM219 288h1v1h-1zM222 288h1v1h-1zM233 288h1v1h-1zM397 288h1v1h-1zM400 288h2v1h-2zM406 288h1v1h-1zM413 288h1v1h-1zM416 288h1v1h-1zM36 289h1v1h-1zM40 289h2v1h-2zM212 289h1v1h-1zM214 289h2v1h-2zM230 289h1v1h-1zM233 289h1v1h-1zM235 289h1v1h-1zM395 289h1v1h-1zM398 289h1v1h-1zM402 289h4v1h-4zM407 289h1v1h-1zM418 289h1v1h-1zM421 289h2v1h-2zM424 289h1v1h-1zM32 290h1v1h-1zM59 290h1v1h-1zM208 290h1v1h-1zM394 290h1v1h-1zM398 290h1v1h-1zM402 290h1v1h-1zM405 290h1v1h-1zM407 290h2v1h-2zM410 290h2v1h-2zM420 290h1v1h-1zM33 291h1v1h-1zM41 291h2v1h-2zM54 291h2v1h-2zM202 291h1v1h-1zM207 291h1v1h-1zM215 291h2v1h-2zM219 291h1v1h-1zM233 291h1v1h-1zM245 291h1v1h-1zM390 291h1v1h-1zM399 291h1v1h-1zM405 291h2v1h-2zM409 291h1v1h-1zM413 291h1v1h-1zM415 291h1v1h-1zM419 291h1v1h-1zM423 291h1v1h-1zM36 292h1v1h-1zM43 292h2v1h-2zM46 292h2v1h-2zM52 292h1v1h-1zM54 292h1v1h-1zM208 292h1v1h-1zM211 292h1v1h-1zM221 292h1v1h-1zM231 292h1v1h-1zM256 292h1v1h-1zM389 292h1v1h-1zM399 292h2v1h-2zM406 292h1v1h-1zM408 292h1v1h-1zM410 292h1v1h-1zM412 292h3v1h-3zM31 293h1v1h-1zM37 293h1v1h-1zM43 293h1v1h-1zM49 293h1v1h-1zM54 293h1v1h-1zM209 293h1v1h-1zM217 293h1v1h-1zM221 293h1v1h-1zM228 293h1v1h-1zM233 293h1v1h-1zM235 293h1v1h-1zM238 293h2v1h-2zM400 293h1v1h-1zM402 293h2v1h-2zM411 293h1v1h-1zM413 293h1v1h-1zM417 293h1v1h-1zM426 293h1v1h-1zM34 294h1v1h-1zM36 294h1v1h-1zM45 294h1v1h-1zM52 294h1v1h-1zM57 294h1v1h-1zM59 294h4v1h-4zM208 294h1v1h-1zM213 294h3v1h-3zM224 294h2v1h-2zM227 294h1v1h-1zM229 294h1v1h-1zM233 294h1v1h-1zM239 294h1v1h-1zM244 294h1v1h-1zM247 294h1v1h-1zM388 294h2v1h-2zM403 294h2v1h-2zM406 294h1v1h-1zM410 294h1v1h-1zM412 294h1v1h-1zM414 294h1v1h-1zM29 295h1v1h-1zM31 295h1v1h-1zM36 295h1v1h-1zM39 295h1v1h-1zM41 295h1v1h-1zM53 295h2v1h-2zM60 295h1v1h-1zM206 295h1v1h-1zM209 295h1v1h-1zM212 295h1v1h-1zM214 295h1v1h-1zM218 295h1v1h-1zM221 295h2v1h-2zM231 295h1v1h-1zM261 295h1v1h-1zM386 295h1v1h-1zM388 295h1v1h-1zM390 295h1v1h-1zM394 295h1v1h-1zM401 295h1v1h-1zM410 295h1v1h-1zM415 295h1v1h-1zM418 295h1v1h-1zM30 296h1v1h-1zM39 296h1v1h-1zM46 296h1v1h-1zM48 296h1v1h-1zM57 296h1v1h-1zM202 296h1v1h-1zM218 296h1v1h-1zM225 296h1v1h-1zM228 296h1v1h-1zM253 296h1v1h-1zM388 296h1v1h-1zM401 296h1v1h-1zM403 296h1v1h-1zM417 296h1v1h-1zM33 297h1v1h-1zM42 297h1v1h-1zM57 297h3v1h-3zM204 297h1v1h-1zM208 297h1v1h-1zM215 297h1v1h-1zM218 297h1v1h-1zM221 297h2v1h-2zM225 297h1v1h-1zM392 297h1v1h-1zM396 297h2v1h-2zM410 297h1v1h-1zM412 297h1v1h-1zM417 297h1v1h-1zM426 297h1v1h-1zM29 298h1v1h-1zM31 298h1v1h-1zM33 298h1v1h-1zM35 298h1v1h-1zM56 298h2v1h-2zM59 298h1v1h-1zM62 298h1v1h-1zM204 298h1v1h-1zM206 298h1v1h-1zM208 298h1v1h-1zM216 298h1v1h-1zM223 298h1v1h-1zM225 298h1v1h-1zM249 298h1v1h-1zM395 298h1v1h-1zM402 298h3v1h-3zM410 298h1v1h-1zM414 298h1v1h-1zM419 298h1v1h-1zM34 299h1v1h-1zM41 299h1v1h-1zM48 299h1v1h-1zM53 299h1v1h-1zM203 299h1v1h-1zM206 299h1v1h-1zM212 299h1v1h-1zM225 299h1v1h-1zM405 299h1v1h-1zM408 299h1v1h-1zM413 299h1v1h-1zM416 299h1v1h-1zM29 300h1v1h-1zM33 300h1v1h-1zM36 300h1v1h-1zM51 300h2v1h-2zM208 300h1v1h-1zM215 300h1v1h-1zM220 300h1v1h-1zM223 300h1v1h-1zM225 300h1v1h-1zM229 300h1v1h-1zM397 300h1v1h-1zM405 300h2v1h-2zM410 300h1v1h-1zM33 301h1v1h-1zM54 301h1v1h-1zM59 301h1v1h-1zM61 301h1v1h-1zM204 301h1v1h-1zM207 301h1v1h-1zM209 301h1v1h-1zM218 301h1v1h-1zM220 301h1v1h-1zM407 301h1v1h-1zM411 301h1v1h-1zM31 302h1v1h-1zM34 302h1v1h-1zM42 302h1v1h-1zM211 302h1v1h-1zM213 302h1v1h-1zM217 302h1v1h-1zM220 302h2v1h-2zM225 302h1v1h-1zM227 302h1v1h-1zM239 302h1v1h-1zM386 302h1v1h-1zM393 302h1v1h-1zM396 302h1v1h-1zM411 302h1v1h-1zM30 303h1v1h-1zM35 303h2v1h-2zM42 303h1v1h-1zM49 303h1v1h-1zM51 303h1v1h-1zM57 303h1v1h-1zM61 303h1v1h-1zM216 303h1v1h-1zM221 303h1v1h-1zM223 303h1v1h-1zM38 304h1v1h-1zM40 304h1v1h-1zM52 304h1v1h-1zM58 304h1v1h-1zM204 304h1v1h-1zM212 304h1v1h-1zM217 304h1v1h-1zM391 304h1v1h-1zM401 304h1v1h-1zM32 305h1v1h-1zM34 305h1v1h-1zM36 305h1v1h-1zM43 305h1v1h-1zM54 305h2v1h-2zM59 305h1v1h-1zM61 305h1v1h-1zM205 305h1v1h-1zM213 305h1v1h-1zM218 305h1v1h-1zM416 305h1v1h-1zM30 306h1v1h-1zM48 306h1v1h-1zM55 306h1v1h-1zM207 306h1v1h-1zM211 306h1v1h-1zM216 306h1v1h-1zM227 306h1v1h-1zM399 306h2v1h-2zM407 306h1v1h-1zM30 307h1v1h-1zM34 307h2v1h-2zM37 307h1v1h-1zM46 307h1v1h-1zM51 307h1v1h-1zM34 308h1v1h-1zM39 308h2v1h-2zM43 308h1v1h-1zM45 308h1v1h-1zM51 308h1v1h-1zM211 308h1v1h-1zM218 308h2v1h-2z" fill="rgb(85,85,85)" shape-rendering="crispEdges"/>
<path d="M232 87h1v1h-1zM217 91h1v1h-1zM223 91h1v1h-1zM235 91h1v1h-1zM219 92h2v1h-2zM211 93h1v1h-1zM246 93h1v1h-1zM220 94h1v1h-1zM228 94h1v1h-1zM220 95h1v1h-1zM223 95h2v1h-2zM207 96h1v1h-1zM224 96h1v1h-1zM204 97h1v1h-1zM216 97h1v1h-1zM220 97h1v1h-1zM217 98h1v1h-1zM219 98h1v1h-1zM225 98h1v1h-1zM232 98h1v1h-1zM236 98h1v1h-1zM208 99h1v1h-1zM223 99h1v1h-1zM226 99h1v1h-1zM232 99h1v1h-1zM244 99h2v1h-2zM212 100h1v1h-1zM221 100h1v1h-1zM225 100h1v1h-1zM234 100h1v1h-1zM214 101h1v1h-1zM217 101h1v1h-1zM222 101h1v1h-1zM227 101h1v1h-1zM215 102h1v1h-1zM227 102h1v1h-1zM213 103h1v1h-1zM215 103h2v1h-2zM219 103h1v1h-1zM224 103h1v1h-1zM231 103h1v1h-1zM234 103h1v1h-1zM207 104h1v1h-1zM210 104h1v1h-1zM227 104h1v1h-1zM230 104h1v1h-1zM245 104h1v1h-1zM229 105h1v1h-1zM204 106h1v1h-1zM207 106h1v1h-1zM220 106h1v1h-1zM229 106h2v1h-2zM232 106h1v1h-1zM236 106h1v1h-1zM243 106h1v1h-1zM212 107h1v1h-1zM217 107h1v1h-1zM223 107h2v1h-2zM233 107h1v1h-1zM213 108h1v1h-1zM219 108h2v1h-2zM227 108h1v1h-1zM250 108h1v1h-1zM206 109h1v1h-1zM215 109h1v1h-1zM219 109h1v1h-1zM224 109h1v1h-1zM218 111h1v1h-1zM221 111h2v1h-2zM224 111h1v1h-1zM228 111h1v1h-1zM232 111h1v1h-1zM241 111h1v1h-1zM204 112h1v1h-1zM218 112h1v1h-1zM222 112h1v1h-1zM228 112h1v1h-1zM231 112h1v1h-1zM204 113h1v1h-1zM230 113h3v1h-3zM216 114h1v1h-1zM219 114h1v1h-1zM224 114h1v1h-1zM205 115h1v1h-1zM212 116h1v1h-1zM219 116h1v1h-1zM221 116h1v1h-1zM224 116h2v1h-2zM228 116h1v1h-1zM215 117h1v1h-1zM232 117h1v1h-1zM237 117h1v1h-1zM211 118h1v1h-1zM226 118h1v1h-1zM228 118h1v1h-1zM234 118h1v1h-1zM212 119h1v1h-1zM217 119h1v1h-1zM220 119h2v1h-2zM225 119h1v1h-1zM227 119h1v1h-1zM229 119h1v1h-1zM214 120h1v1h-1zM216 120h1v1h-1zM223 120h2v1h-2zM218 121h1v1h-1zM225 121h1v1h-1zM226 122h1v1h-1zM399 122h1v1h-1zM216 123h1v1h-1zM213 124h1v1h-1zM220 124h1v1h-1zM224 124h1v1h-1zM229 124h2v1h-2zM222 125h1v1h-1zM226 125h1v1h-1zM218 126h1v1h-1zM393 126h2v1h-2zM406 126h1v1h-1zM206 127h1v1h-1zM209 127h1v1h-1zM217 127h1v1h-1zM222 127h1v1h-1zM223 128h1v1h-1zM206 129h2v1h-2zM218 129h1v1h-1zM221 129h1v1h-1zM212 130h1v1h-1zM214 130h1v1h-1zM223 130h1v1h-1zM230 130h1v1h-1zM399 130h1v1h-1zM403 130h1v1h-1zM208 131h1v1h-1zM210 131h1v1h-1zM215 131h1v1h-1zM217 131h1v1h-1zM228 131h1v1h-1zM230 131h1v1h-1zM410 131h1v1h-1zM47 132h1v1h-1zM210 132h1v1h-1zM213 132h1v1h-1zM216 132h1v1h-1zM221 132h1v1h-1zM223 132h1v1h-1zM232 132h1v1h-1zM398 132h1v1h-1zM44 133h1v1h-1zM209 133h1v1h-1zM213 133h1v1h-1zM216 133h2v1h-2zM204 134h2v1h-2zM214 134h1v1h-1zM227 134h1v1h-1zM231 134h1v1h-1zM396 134h1v1h-1zM403 134h1v1h-1zM216 135h3v1h-3zM220 135h2v1h-2zM225 135h1v1h-1zM392 135h2v1h-2zM400 135h1v1h-1zM402 135h1v1h-1zM415 135h1v1h-1zM42 136h1v1h-1zM44 136h1v1h-1zM46 136h1v1h-1zM206 136h2v1h-2zM209 136h1v1h-1zM216 136h1v1h-1zM220 136h1v1h-1zM222 136h1v1h-1zM229 136h1v1h-1zM233 136h1v1h-1zM394 136h2v1h-2zM402 136h1v1h-1zM404 136h2v1h-2zM408 136h2v1h-2zM45 137h1v1h-1zM50 137h1v1h-1zM206 137h1v1h-1zM208 137h1v1h-1zM211 137h1v1h-1zM239 137h1v1h-1zM393 137h1v1h-1zM396 137h1v1h-1zM399 137h1v1h-1zM38 138h1v1h-1zM41 138h1v1h-1zM210 138h1v1h-1zM216 138h1v1h-1zM222 138h1v1h-1zM224 138h1v1h-1zM230 138h1v1h-1zM235 138h2v1h-2zM388 138h1v1h-1zM391 138h2v1h-2zM394 138h1v1h-1zM399 138h1v1h-1zM403 138h2v1h-2zM406 138h1v1h-1zM433 138h1v1h-1zM33 139h1v1h-1zM36 139h1v1h-1zM38 139h1v1h-1zM45 139h2v1h-2zM55 139h1v1h-1zM57 139h2v1h-2zM206 139h1v1h-1zM208 139h1v1h-1zM229 139h1v1h-1zM231 139h1v1h-1zM233 139h1v1h-1zM250 139h1v1h-1zM255 139h2v1h-2zM388 139h1v1h-1zM393 139h1v1h-1zM399 139h2v1h-2zM409 139h1v1h-1zM35 140h1v1h-1zM43 140h1v1h-1zM49 140h1v1h-1zM52 140h1v1h-1zM58 140h1v1h-1zM204 140h1v1h-1zM212 140h2v1h-2zM217 140h1v1h-1zM219 140h3v1h-3zM224 140h1v1h-1zM229 140h1v1h-1zM231 140h2v1h-2zM394 140h1v1h-1zM411 140h1v1h-1zM420 140h1v1h-1zM449 140h1v1h-1zM35 141h1v1h-1zM38 141h1v1h-1zM53 141h1v1h-1zM204 141h1v1h-1zM218 141h1v1h-1zM227 141h1v1h-1zM240 141h1v1h-1zM387 141h1v1h-1zM390 141h1v1h-1zM406 141h2v1h-2zM411 141h1v1h-1zM419 141h1v1h-1zM38 142h1v1h-1zM42 142h1v1h-1zM46 142h1v1h-1zM52 142h2v1h-2zM204 142h1v1h-1zM206 142h1v1h-1zM216 142h1v1h-1zM218 142h1v1h-1zM220 142h1v1h-1zM224 142h1v1h-1zM238 142h1v1h-1zM386 142h1v1h-1zM390 142h1v1h-1zM408 142h1v1h-1zM36 143h1v1h-1zM45 143h1v1h-1zM48 143h1v1h-1zM50 143h1v1h-1zM208 143h2v1h-2zM217 143h1v1h-1zM220 143h2v1h-2zM229 143h1v1h-1zM232 143h1v1h-1zM259 143h1v1h-1zM385 143h1v1h-1zM388 143h1v1h-1zM390 143h2v1h-2zM393 143h1v1h-1zM407 143h1v1h-1zM32 144h3v1h-3zM38 144h1v1h-1zM51 144h3v1h-3zM55 144h2v1h-2zM60 144h1v1h-1zM209 144h1v1h-1zM211 144h1v1h-1zM222 144h2v1h-2zM232 144h1v1h-1zM408 144h1v1h-1zM410 144h1v1h-1zM413 144h1v1h-1zM38 145h1v1h-1zM205 145h1v1h-1zM211 145h1v1h-1zM213 145h2v1h-2zM218 145h1v1h-1zM221 145h1v1h-1zM233 145h1v1h-1zM240 145h1v1h-1zM243 145h1v1h-1zM386 145h3v1h-3zM395 145h1v1h-1zM406 145h1v1h-1zM409 145h1v1h-1zM415 145h1v1h-1zM423 145h1v1h-1zM35 146h1v1h-1zM56 146h1v1h-1zM208 146h1v1h-1zM221 146h1v1h-1zM223 146h2v1h-2zM228 146h1v1h-1zM245 146h1v1h-1zM249 146h1v1h-1zM393 146h1v1h-1zM395 146h1v1h-1zM400 146h1v1h-1zM413 146h1v1h-1zM415 146h1v1h-1zM439 146h1v1h-1zM31 147h1v1h-1zM53 147h1v1h-1zM57 147h1v1h-1zM208 147h1v1h-1zM214 147h1v1h-1zM222 147h2v1h-2zM226 147h2v1h-2zM239 147h1v1h-1zM393 147h2v1h-2zM399 147h1v1h-1zM408 147h1v1h-1zM410 147h1v1h-1zM422 147h1v1h-1zM29 148h1v1h-1zM31 148h1v1h-1zM40 148h1v1h-1zM49 148h1v1h-1zM56 148h1v1h-1zM205 148h1v1h-1zM208 148h1v1h-1zM217 148h2v1h-2zM222 148h1v1h-1zM388 148h1v1h-1zM392 148h1v1h-1zM400 148h1v1h-1zM404 148h1v1h-1zM406 148h2v1h-2zM412 148h1v1h-1zM418 148h1v1h-1zM46 149h1v1h-1zM58 149h1v1h-1zM206 149h1v1h-1zM226 149h1v1h-1zM392 149h1v1h-1zM400 149h1v1h-1zM407 149h1v1h-1zM33 150h1v1h-1zM36 150h2v1h-2zM48 150h1v1h-1zM55 150h1v1h-1zM205 150h1v1h-1zM215 150h1v1h-1zM217 150h1v1h-1zM221 150h1v1h-1zM224 150h1v1h-1zM228 150h1v1h-1zM386 150h1v1h-1zM389 150h1v1h-1zM392 150h1v1h-1zM394 150h1v1h-1zM401 150h1v1h-1zM403 150h3v1h-3zM411 150h1v1h-1zM39 151h1v1h-1zM48 151h1v1h-1zM52 151h1v1h-1zM56 151h1v1h-1zM215 151h1v1h-1zM217 151h1v1h-1zM222 151h1v1h-1zM226 151h2v1h-2zM231 151h1v1h-1zM391 151h1v1h-1zM393 151h2v1h-2zM396 151h2v1h-2zM399 151h1v1h-1zM401 151h1v1h-1zM405 151h2v1h-2zM34 152h1v1h-1zM36 152h1v1h-1zM52 152h1v1h-1zM54 152h3v1h-3zM204 152h1v1h-1zM210 152h1v1h-1zM214 152h1v1h-1zM217 152h1v1h-1zM224 152h1v1h-1zM391 152h1v1h-1zM405 152h1v1h-1zM388 153h1v1h-1zM393 153h2v1h-2zM398 153h1v1h-1zM400 153h1v1h-1zM246 232h1v1h-1zM249 234h1v1h-1zM252 234h1v1h-1zM242 236h1v1h-1zM244 236h1v1h-1zM250 236h1v1h-1zM247 237h2v1h-2zM253 237h1v1h-1zM242 238h1v1h-1zM246 238h1v1h-1zM248 238h1v1h-1zM253 238h1v1h-1zM235 239h1v1h-1zM242 239h1v1h-1zM245 239h1v1h-1zM249 239h1v1h-1zM259 239h1v1h-1zM252 240h1v1h-1zM243 241h1v1h-1zM246 241h1v1h-1zM252 241h1v1h-1zM254 241h2v1h-2zM241 242h1v1h-1zM245 242h1v1h-1zM255 242h2v1h-2zM264 242h1v1h-1zM242 243h1v1h-1zM247 243h1v1h-1zM256 243h2v1h-2zM242 244h1v1h-1zM258 244h1v1h-1zM260 244h1v1h-1zM240 245h1v1h-1zM247 245h2v1h-2zM252 245h1v1h-1zM240 246h1v1h-1zM253 246h1v1h-1zM264 246h1v1h-1zM236 247h1v1h-1zM256 247h1v1h-1zM259 247h1v1h-1zM240 248h2v1h-2zM243 248h1v1h-1zM250 248h1v1h-1zM252 248h1v1h-1zM256 248h1v1h-1zM259 248h1v1h-1zM239 249h2v1h-2zM245 249h1v1h-1zM256 249h1v1h-1zM258 249h2v1h-2zM224 250h1v1h-1zM227 250h1v1h-1zM243 250h1v1h-1zM252 250h1v1h-1zM256 250h1v1h-1zM239 251h1v1h-1zM248 251h1v1h-1zM257 251h1v1h-1zM261 251h1v1h-1zM234 252h1v1h-1zM242 252h1v1h-1zM245 252h1v1h-1zM248 252h1v1h-1zM258 252h2v1h-2zM223 253h1v1h-1zM225 253h1v1h-1zM238 253h1v1h-1zM249 253h1v1h-1zM255 253h1v1h-1zM258 253h1v1h-1zM415 253h1v1h-1zM417 253h1v1h-1zM230 254h1v1h-1zM240 254h1v1h-1zM247 254h1v1h-1zM252 254h2v1h-2zM257 254h1v1h-1zM419 254h1v1h-1zM422 254h1v1h-1zM432 254h1v1h-1zM228 255h1v1h-1zM244 255h2v1h-2zM253 255h1v1h-1zM413 255h1v1h-1zM416 255h2v1h-2zM424 255h1v1h-1zM429 255h1v1h-1zM217 256h1v1h-1zM222 256h1v1h-1zM237 256h1v1h-1zM239 256h1v1h-1zM412 256h1v1h-1zM414 256h1v1h-1zM417 256h1v1h-1zM420 256h1v1h-1zM425 256h1v1h-1zM441 256h1v1h-1zM214 257h1v1h-1zM226 257h3v1h-3zM256 257h2v1h-2zM418 257h1v1h-1zM421 257h1v1h-1zM230 258h1v1h-1zM234 258h1v1h-1zM239 258h1v1h-1zM242 258h1v1h-1zM244 258h1v1h-1zM253 258h2v1h-2zM256 258h1v1h-1zM414 258h1v1h-1zM416 258h1v1h-1zM420 258h1v1h-1zM422 258h2v1h-2zM436 258h1v1h-1zM248 259h1v1h-1zM257 259h2v1h-2zM414 259h1v1h-1zM418 259h1v1h-1zM421 259h1v1h-1zM427 259h1v1h-1zM430 259h1v1h-1zM226 260h1v1h-1zM238 260h1v1h-1zM242 260h1v1h-1zM244 260h1v1h-1zM410 260h1v1h-1zM421 260h1v1h-1zM434 260h1v1h-1zM220 261h1v1h-1zM245 261h1v1h-1zM249 261h1v1h-1zM252 261h1v1h-1zM256 261h3v1h-3zM409 261h1v1h-1zM413 261h2v1h-2zM422 261h1v1h-1zM425 261h1v1h-1zM428 261h1v1h-1zM436 261h1v1h-1zM442 261h1v1h-1zM220 262h1v1h-1zM228 262h2v1h-2zM240 262h1v1h-1zM251 262h1v1h-1zM255 262h1v1h-1zM257 262h1v1h-1zM419 262h1v1h-1zM424 262h1v1h-1zM427 262h1v1h-1zM222 263h1v1h-1zM227 263h1v1h-1zM245 263h2v1h-2zM250 263h1v1h-1zM252 263h1v1h-1zM254 263h1v1h-1zM256 263h1v1h-1zM261 263h1v1h-1zM401 263h1v1h-1zM412 263h1v1h-1zM419 263h1v1h-1zM428 263h1v1h-1zM432 263h1v1h-1zM219 264h1v1h-1zM230 264h1v1h-1zM243 264h1v1h-1zM249 264h1v1h-1zM410 264h1v1h-1zM413 264h1v1h-1zM415 264h3v1h-3zM425 264h2v1h-2zM217 265h1v1h-1zM404 265h1v1h-1zM413 265h1v1h-1zM423 265h1v1h-1zM426 265h1v1h-1zM214 266h1v1h-1zM223 266h1v1h-1zM227 266h1v1h-1zM231 266h1v1h-1zM251 266h2v1h-2zM409 266h1v1h-1zM413 266h1v1h-1zM415 266h1v1h-1zM425 266h1v1h-1zM255 267h2v1h-2zM408 267h1v1h-1zM411 267h1v1h-1zM421 267h1v1h-1zM423 267h1v1h-1zM427 267h2v1h-2zM432 267h1v1h-1zM210 268h1v1h-1zM212 268h2v1h-2zM251 268h1v1h-1zM407 268h1v1h-1zM409 268h1v1h-1zM412 268h1v1h-1zM423 268h2v1h-2zM220 269h1v1h-1zM222 269h1v1h-1zM226 269h1v1h-1zM404 269h1v1h-1zM409 269h1v1h-1zM415 269h1v1h-1zM417 269h1v1h-1zM419 269h1v1h-1zM421 269h1v1h-1zM427 269h1v1h-1zM214 270h1v1h-1zM249 270h1v1h-1zM252 270h1v1h-1zM418 270h1v1h-1zM424 270h1v1h-1zM426 270h1v1h-1zM428 270h1v1h-1zM212 271h1v1h-1zM231 271h1v1h-1zM401 271h1v1h-1zM406 271h1v1h-1zM410 271h2v1h-2zM413 271h1v1h-1zM415 271h1v1h-1zM417 271h2v1h-2zM422 271h1v1h-1zM227 272h1v1h-1zM402 272h1v1h-1zM405 272h1v1h-1zM412 272h1v1h-1zM414 272h2v1h-2zM417 272h1v1h-1zM425 272h1v1h-1zM217 273h1v1h-1zM229 273h1v1h-1zM393 273h1v1h-1zM405 273h1v1h-1zM412 273h1v1h-1zM416 273h1v1h-1zM418 273h1v1h-1zM424 273h1v1h-1zM426 273h1v1h-1zM432 273h1v1h-1zM403 274h1v1h-1zM406 274h1v1h-1zM409 274h1v1h-1zM412 274h1v1h-1zM415 274h2v1h-2zM431 274h1v1h-1zM434 274h1v1h-1zM247 275h1v1h-1zM402 275h1v1h-1zM406 275h1v1h-1zM411 275h3v1h-3zM423 275h1v1h-1zM426 275h1v1h-1zM432 275h1v1h-1zM400 276h1v1h-1zM403 276h1v1h-1zM405 276h1v1h-1zM411 276h2v1h-2zM416 276h1v1h-1zM419 276h2v1h-2zM431 276h1v1h-1zM227 277h1v1h-1zM397 277h1v1h-1zM402 277h1v1h-1zM412 277h1v1h-1zM419 277h1v1h-1zM421 277h1v1h-1zM427 277h1v1h-1zM436 277h1v1h-1zM403 278h2v1h-2zM412 278h2v1h-2zM416 278h1v1h-1zM419 278h1v1h-1zM402 279h2v1h-2zM405 279h1v1h-1zM412 279h1v1h-1zM428 279h1v1h-1zM222 280h1v1h-1zM402 280h1v1h-1zM404 280h1v1h-1zM413 280h1v1h-1zM421 280h2v1h-2zM388 281h1v1h-1zM399 281h1v1h-1zM408 281h1v1h-1zM410 281h1v1h-1zM419 281h3v1h-3zM391 282h1v1h-1zM396 282h1v1h-1zM400 282h1v1h-1zM403 282h1v1h-1zM410 282h1v1h-1zM414 282h1v1h-1zM419 282h1v1h-1zM423 282h1v1h-1zM226 283h1v1h-1zM393 283h1v1h-1zM395 283h1v1h-1zM397 283h2v1h-2zM404 283h1v1h-1zM412 283h3v1h-3zM416 283h1v1h-1zM419 283h1v1h-1zM421 283h1v1h-1zM224 284h1v1h-1zM408 284h1v1h-1zM415 284h1v1h-1zM417 284h1v1h-1zM219 285h1v1h-1zM400 285h2v1h-2zM405 285h1v1h-1zM413 285h2v1h-2zM416 285h1v1h-1zM217 286h1v1h-1zM395 286h1v1h-1zM404 286h1v1h-1zM407 286h1v1h-1zM411 286h2v1h-2zM415 286h1v1h-1zM46 287h1v1h-1zM215 287h1v1h-1zM217 287h1v1h-1zM396 287h2v1h-2zM406 287h1v1h-1zM409 287h1v1h-1zM414 287h1v1h-1zM51 288h1v1h-1zM211 288h1v1h-1zM217 288h1v1h-1zM223 288h1v1h-1zM395 288h1v1h-1zM407 288h1v1h-1zM409 288h1v1h-1zM423 288h1v1h-1zM44 289h1v1h-1zM47 289h1v1h-1zM208 289h1v1h-1zM223 289h1v1h-1zM387 289h1v1h-1zM400 289h1v1h-1zM406 289h1v1h-1zM409 289h1v1h-1zM50 290h1v1h-1zM52 290h1v1h-1zM56 290h1v1h-1zM210 290h1v1h-1zM400 290h1v1h-1zM404 290h1v1h-1zM418 290h1v1h-1zM38 291h1v1h-1zM40 291h1v1h-1zM47 291h1v1h-1zM50 291h1v1h-1zM221 291h1v1h-1zM227 291h1v1h-1zM403 291h2v1h-2zM407 291h1v1h-1zM410 291h1v1h-1zM414 291h1v1h-1zM417 291h1v1h-1zM30 292h1v1h-1zM40 292h2v1h-2zM50 292h2v1h-2zM203 292h1v1h-1zM209 292h1v1h-1zM393 292h1v1h-1zM402 292h1v1h-1zM404 292h1v1h-1zM407 292h1v1h-1zM409 292h1v1h-1zM419 292h1v1h-1zM42 293h1v1h-1zM212 293h2v1h-2zM399 293h1v1h-1zM407 293h2v1h-2zM415 293h1v1h-1zM41 294h1v1h-1zM43 294h1v1h-1zM47 294h1v1h-1zM211 294h2v1h-2zM217 294h1v1h-1zM221 294h1v1h-1zM411 294h1v1h-1zM30 295h1v1h-1zM43 295h1v1h-1zM45 295h1v1h-1zM52 295h1v1h-1zM56 295h1v1h-1zM211 295h1v1h-1zM213 295h1v1h-1zM216 295h1v1h-1zM407 295h1v1h-1zM29 296h1v1h-1zM35 296h1v1h-1zM49 296h1v1h-1zM51 296h1v1h-1zM53 296h1v1h-1zM55 296h2v1h-2zM226 296h1v1h-1zM413 296h1v1h-1zM32 297h1v1h-1zM34 297h1v1h-1zM50 297h1v1h-1zM56 297h1v1h-1zM400 297h2v1h-2zM408 297h1v1h-1zM34 298h1v1h-1zM36 298h2v1h-2zM39 298h1v1h-1zM49 298h2v1h-2zM54 298h1v1h-1zM212 298h2v1h-2zM386 298h1v1h-1zM400 298h1v1h-1zM33 299h1v1h-1zM38 299h1v1h-1zM47 299h1v1h-1zM49 299h1v1h-1zM51 299h1v1h-1zM215 299h1v1h-1zM232 299h1v1h-1zM31 300h1v1h-1zM35 300h1v1h-1zM40 300h1v1h-1zM42 300h1v1h-1zM48 300h1v1h-1zM29 301h2v1h-2zM32 301h1v1h-1zM39 301h1v1h-1zM42 301h1v1h-1zM51 301h1v1h-1zM57 301h1v1h-1zM226 301h1v1h-1zM35 302h2v1h-2zM59 302h1v1h-1zM216 302h1v1h-1zM37 303h2v1h-2zM50 303h1v1h-1zM53 303h2v1h-2zM59 303h1v1h-1zM215 303h1v1h-1zM220 303h1v1h-1zM31 304h1v1h-1zM34 304h1v1h-1zM39 304h1v1h-1zM43 304h1v1h-1zM46 304h1v1h-1zM49 304h1v1h-1zM59 304h1v1h-1zM208 304h1v1h-1zM222 304h1v1h-1zM35 305h1v1h-1zM37 305h1v1h-1zM46 305h1v1h-1zM48 305h2v1h-2zM29 306h1v1h-1zM32 306h1v1h-1zM37 306h1v1h-1zM49 306h2v1h-2zM56 306h1v1h-1zM219 306h1v1h-1zM225 306h1v1h-1zM29 307h1v1h-1zM33 307h1v1h-1zM38 307h2v1h-2zM45 307h1v1h-1zM53 307h1v1h-1zM57 307h1v1h-1zM209 307h2v1h-2zM217 307h1v1h-1zM230 307h1v1h-1zM44 308h1v1h-1zM48 308h2v1h-2z" fill="rgb(42,42,42)" shape-rendering="crispEdges"/>
<path d="M224 92h1v1h-1zM221 94h1v1h-1zM215 95h1v1h-1zM231 96h1v1h-1zM205 97h1v1h-1zM222 97h1v1h-1zM233 97h1v1h-1zM221 98h1v1h-1zM219 99h1v1h-1zM222 99h1v1h-1zM222 100h1v1h-1zM227 100h1v1h-1zM218 101h1v1h-1zM220 101h1v1h-1zM223 103h1v1h-1zM228 103h1v1h-1zM219 104h2v1h-2zM225 105h1v1h-1zM228 105h1v1h-1zM230 105h1v1h-1zM208 106h1v1h-1zM216 106h1v1h-1zM228 106h1v1h-1zM210 107h1v1h-1zM213 107h1v1h-1zM228 107h1v1h-1zM236 107h1v1h-1zM216 109h1v1h-1zM220 109h1v1h-1zM216 110h1v1h-1zM220 110h2v1h-2zM223 111h1v1h-1zM213 112h1v1h-1zM219 112h1v1h-1zM219 113h1v1h-1zM222 113h2v1h-2zM218 114h1v1h-1zM216 116h1v1h-1zM217 117h1v1h-1zM222 117h1v1h-1zM227 118h1v1h-1zM210 119h1v1h-1zM216 119h1v1h-1zM223 119h1v1h-1zM220 120h1v1h-1zM226 120h1v1h-1zM401 120h1v1h-1zM211 121h1v1h-1zM217 121h1v1h-1zM226 121h1v1h-1zM214 123h1v1h-1zM218 123h2v1h-2zM223 123h2v1h-2zM229 123h1v1h-1zM215 124h1v1h-1zM218 125h1v1h-1zM227 125h1v1h-1zM388 125h1v1h-1zM215 127h1v1h-1zM386 127h1v1h-1zM224 128h1v1h-1zM232 128h1v1h-1zM222 129h2v1h-2zM226 129h1v1h-1zM228 129h1v1h-1zM404 129h1v1h-1zM211 130h1v1h-1zM218 130h1v1h-1zM216 131h1v1h-1zM221 131h1v1h-1zM226 131h1v1h-1zM406 131h1v1h-1zM206 132h1v1h-1zM212 132h1v1h-1zM218 132h1v1h-1zM224 132h2v1h-2zM404 132h1v1h-1zM52 133h1v1h-1zM211 133h1v1h-1zM214 133h1v1h-1zM219 133h1v1h-1zM224 133h1v1h-1zM394 133h1v1h-1zM206 134h1v1h-1zM218 134h2v1h-2zM223 134h2v1h-2zM228 134h1v1h-1zM233 134h1v1h-1zM394 134h1v1h-1zM397 134h1v1h-1zM215 135h1v1h-1zM219 135h1v1h-1zM222 135h1v1h-1zM226 135h1v1h-1zM230 135h1v1h-1zM397 135h1v1h-1zM208 136h1v1h-1zM210 136h1v1h-1zM215 136h1v1h-1zM218 136h2v1h-2zM224 136h1v1h-1zM226 136h1v1h-1zM230 136h1v1h-1zM388 136h1v1h-1zM393 136h1v1h-1zM400 136h2v1h-2zM407 136h1v1h-1zM51 137h1v1h-1zM209 137h2v1h-2zM212 137h1v1h-1zM214 137h1v1h-1zM217 137h3v1h-3zM221 137h1v1h-1zM223 137h3v1h-3zM227 137h1v1h-1zM395 137h1v1h-1zM397 137h1v1h-1zM402 137h1v1h-1zM404 137h1v1h-1zM37 138h1v1h-1zM44 138h1v1h-1zM204 138h1v1h-1zM207 138h1v1h-1zM213 138h1v1h-1zM215 138h1v1h-1zM218 138h4v1h-4zM223 138h1v1h-1zM225 138h1v1h-1zM227 138h1v1h-1zM393 138h1v1h-1zM398 138h1v1h-1zM400 138h2v1h-2zM409 138h1v1h-1zM37 139h1v1h-1zM41 139h1v1h-1zM44 139h1v1h-1zM47 139h2v1h-2zM50 139h1v1h-1zM207 139h1v1h-1zM209 139h1v1h-1zM211 139h6v1h-6zM219 139h3v1h-3zM223 139h1v1h-1zM226 139h2v1h-2zM391 139h2v1h-2zM396 139h1v1h-1zM398 139h1v1h-1zM401 139h4v1h-4zM406 139h1v1h-1zM37 140h1v1h-1zM41 140h2v1h-2zM44 140h2v1h-2zM47 140h2v1h-2zM50 140h1v1h-1zM205 140h1v1h-1zM207 140h1v1h-1zM215 140h2v1h-2zM218 140h1v1h-1zM222 140h2v1h-2zM225 140h2v1h-2zM387 140h1v1h-1zM392 140h2v1h-2zM398 140h8v1h-8zM408 140h1v1h-1zM31 141h1v1h-1zM37 141h1v1h-1zM39 141h1v1h-1zM41 141h10v1h-10zM52 141h1v1h-1zM205 141h3v1h-3zM209 141h6v1h-6zM216 141h2v1h-2zM219 141h7v1h-7zM388 141h1v1h-1zM392 141h14v1h-14zM408 141h3v1h-3zM415 141h2v1h-2zM36 142h2v1h-2zM40 142h2v1h-2zM43 142h3v1h-3zM47 142h2v1h-2zM50 142h2v1h-2zM209 142h2v1h-2zM212 142h4v1h-4zM217 142h1v1h-1zM221 142h3v1h-3zM225 142h2v1h-2zM231 142h1v1h-1zM234 142h1v1h-1zM236 142h1v1h-1zM391 142h9v1h-9zM401 142h4v1h-4zM406 142h2v1h-2zM409 142h1v1h-1zM33 143h1v1h-1zM35 143h1v1h-1zM37 143h8v1h-8zM46 143h2v1h-2zM51 143h2v1h-2zM56 143h1v1h-1zM204 143h1v1h-1zM210 143h2v1h-2zM214 143h3v1h-3zM218 143h2v1h-2zM222 143h4v1h-4zM227 143h2v1h-2zM235 143h1v1h-1zM394 143h13v1h-13zM408 143h1v1h-1zM410 143h1v1h-1zM412 143h1v1h-1zM35 144h1v1h-1zM37 144h1v1h-1zM39 144h5v1h-5zM45 144h6v1h-6zM54 144h1v1h-1zM212 144h1v1h-1zM214 144h1v1h-1zM216 144h3v1h-3zM221 144h1v1h-1zM225 144h1v1h-1zM227 144h3v1h-3zM387 144h2v1h-2zM391 144h15v1h-15zM411 144h1v1h-1zM34 145h2v1h-2zM37 145h1v1h-1zM39 145h14v1h-14zM54 145h1v1h-1zM204 145h1v1h-1zM215 145h2v1h-2zM219 145h2v1h-2zM222 145h2v1h-2zM225 145h1v1h-1zM228 145h1v1h-1zM390 145h5v1h-5zM396 145h10v1h-10zM407 145h1v1h-1zM411 145h1v1h-1zM36 146h4v1h-4zM42 146h11v1h-11zM55 146h1v1h-1zM205 146h1v1h-1zM211 146h1v1h-1zM215 146h5v1h-5zM222 146h1v1h-1zM227 146h1v1h-1zM386 146h2v1h-2zM390 146h3v1h-3zM394 146h1v1h-1zM396 146h4v1h-4zM401 146h7v1h-7zM412 146h1v1h-1zM34 147h4v1h-4zM39 147h12v1h-12zM52 147h1v1h-1zM54 147h1v1h-1zM209 147h1v1h-1zM213 147h1v1h-1zM216 147h1v1h-1zM220 147h2v1h-2zM224 147h1v1h-1zM230 147h1v1h-1zM389 147h4v1h-4zM395 147h2v1h-2zM398 147h1v1h-1zM400 147h3v1h-3zM404 147h4v1h-4zM411 147h1v1h-1zM37 148h3v1h-3zM41 148h5v1h-5zM47 148h1v1h-1zM50 148h5v1h-5zM213 148h1v1h-1zM215 148h1v1h-1zM220 148h1v1h-1zM225 148h1v1h-1zM228 148h2v1h-2zM387 148h1v1h-1zM391 148h1v1h-1zM393 148h3v1h-3zM397 148h3v1h-3zM401 148h3v1h-3zM408 148h1v1h-1zM35 149h1v1h-1zM37 149h1v1h-1zM39 149h7v1h-7zM47 149h2v1h-2zM50 149h1v1h-1zM54 149h1v1h-1zM210 149h1v1h-1zM213 149h1v1h-1zM217 149h1v1h-1zM220 149h2v1h-2zM223 149h1v1h-1zM230 149h1v1h-1zM387 149h1v1h-1zM391 149h1v1h-1zM393 149h7v1h-7zM402 149h5v1h-5zM408 149h1v1h-1zM410 149h1v1h-1zM413 149h1v1h-1zM31 150h2v1h-2zM35 150h1v1h-1zM38 150h10v1h-10zM49 150h2v1h-2zM53 150h2v1h-2zM218 150h1v1h-1zM223 150h1v1h-1zM230 150h1v1h-1zM245 150h1v1h-1zM388 150h1v1h-1zM391 150h1v1h-1zM393 150h1v1h-1zM397 150h1v1h-1zM399 150h2v1h-2zM402 150h1v1h-1zM406 150h2v1h-2zM413 150h1v1h-1zM32 151h1v1h-1zM36 151h1v1h-1zM40 151h7v1h-7zM49 151h1v1h-1zM51 151h1v1h-1zM53 151h1v1h-1zM55 151h1v1h-1zM214 151h1v1h-1zM221 151h1v1h-1zM223 151h1v1h-1zM225 151h1v1h-1zM388 151h1v1h-1zM390 151h1v1h-1zM395 151h1v1h-1zM398 151h1v1h-1zM400 151h1v1h-1zM403 151h2v1h-2zM408 151h2v1h-2zM411 151h1v1h-1zM35 152h1v1h-1zM37 152h1v1h-1zM39 152h2v1h-2zM42 152h8v1h-8zM51 152h1v1h-1zM53 152h1v1h-1zM57 152h1v1h-1zM215 152h2v1h-2zM220 152h1v1h-1zM393 152h1v1h-1zM395 152h1v1h-1zM398 152h7v1h-7zM407 152h1v1h-1zM411 152h2v1h-2zM391 153h1v1h-1zM395 153h3v1h-3zM401 153h2v1h-2zM404 153h2v1h-2zM408 153h1v1h-1zM254 235h1v1h-1zM247 236h1v1h-1zM250 237h1v1h-1zM255 237h2v1h-2zM245 238h1v1h-1zM250 238h1v1h-1zM252 238h1v1h-1zM244 239h1v1h-1zM246 239h1v1h-1zM248 239h1v1h-1zM251 239h2v1h-2zM256 239h1v1h-1zM245 240h1v1h-1zM248 240h1v1h-1zM250 240h1v1h-1zM254 240h1v1h-1zM257 240h1v1h-1zM245 241h1v1h-1zM248 241h1v1h-1zM250 241h2v1h-2zM253 241h1v1h-1zM256 241h3v1h-3zM243 242h2v1h-2zM246 242h7v1h-7zM254 242h1v1h-1zM248 243h4v1h-4zM253 243h3v1h-3zM241 244h1v1h-1zM243 244h7v1h-7zM251 244h1v1h-1zM253 244h2v1h-2zM256 244h1v1h-1zM241 245h2v1h-2zM245 245h2v1h-2zM249 245h3v1h-3zM253 245h1v1h-1zM257 245h3v1h-3zM241 246h12v1h-12zM254 246h4v1h-4zM262 246h1v1h-1zM243 247h11v1h-11zM257 247h2v1h-2zM244 248h6v1h-6zM251 248h1v1h-1zM253 248h3v1h-3zM257 248h2v1h-2zM260 248h1v1h-1zM246 249h7v1h-7zM255 249h1v1h-1zM257 249h1v1h-1zM241 250h2v1h-2zM244 250h3v1h-3zM248 250h4v1h-4zM253 250h1v1h-1zM255 250h1v1h-1zM241 251h7v1h-7zM249 251h5v1h-5zM255 251h1v1h-1zM240 252h1v1h-1zM244 252h1v1h-1zM246 252h2v1h-2zM249 252h1v1h-1zM251 252h6v1h-6zM227 253h1v1h-1zM241 253h2v1h-2zM244 253h5v1h-5zM250 253h5v1h-5zM256 253h2v1h-2zM242 254h1v1h-1zM245 254h2v1h-2zM248 254h4v1h-4zM254 254h2v1h-2zM223 255h1v1h-1zM240 255h1v1h-1zM246 255h5v1h-5zM252 255h1v1h-1zM254 255h1v1h-1zM256 255h3v1h-3zM415 255h1v1h-1zM224 256h1v1h-1zM240 256h2v1h-2zM247 256h7v1h-7zM255 256h1v1h-1zM259 256h2v1h-2zM416 256h1v1h-1zM424 256h1v1h-1zM243 257h1v1h-1zM245 257h1v1h-1zM247 257h1v1h-1zM249 257h4v1h-4zM255 257h1v1h-1zM415 257h1v1h-1zM419 257h2v1h-2zM422 257h1v1h-1zM222 258h1v1h-1zM224 258h1v1h-1zM245 258h2v1h-2zM249 258h1v1h-1zM251 258h1v1h-1zM418 258h2v1h-2zM421 258h1v1h-1zM217 259h1v1h-1zM239 259h1v1h-1zM245 259h3v1h-3zM249 259h2v1h-2zM255 259h1v1h-1zM260 259h1v1h-1zM417 259h1v1h-1zM422 259h3v1h-3zM236 260h1v1h-1zM245 260h4v1h-4zM252 260h1v1h-1zM413 260h2v1h-2zM416 260h2v1h-2zM419 260h2v1h-2zM246 261h1v1h-1zM250 261h2v1h-2zM411 261h1v1h-1zM416 261h3v1h-3zM420 261h2v1h-2zM423 261h2v1h-2zM426 261h1v1h-1zM430 261h1v1h-1zM435 261h1v1h-1zM221 262h1v1h-1zM223 262h1v1h-1zM249 262h1v1h-1zM413 262h1v1h-1zM415 262h1v1h-1zM418 262h1v1h-1zM420 262h4v1h-4zM425 262h2v1h-2zM223 263h1v1h-1zM414 263h1v1h-1zM418 263h1v1h-1zM420 263h4v1h-4zM425 263h2v1h-2zM429 263h1v1h-1zM250 264h1v1h-1zM414 264h1v1h-1zM419 264h6v1h-6zM431 264h1v1h-1zM414 265h9v1h-9zM427 265h1v1h-1zM430 265h1v1h-1zM443 265h1v1h-1zM230 266h1v1h-1zM404 266h1v1h-1zM416 266h3v1h-3zM420 266h2v1h-2zM423 266h1v1h-1zM247 267h1v1h-1zM410 267h1v1h-1zM413 267h3v1h-3zM417 267h2v1h-2zM420 267h1v1h-1zM422 267h1v1h-1zM223 268h1v1h-1zM410 268h1v1h-1zM416 268h6v1h-6zM223 269h1v1h-1zM402 269h1v1h-1zM414 269h1v1h-1zM418 269h1v1h-1zM420 269h1v1h-1zM424 269h2v1h-2zM428 269h1v1h-1zM221 270h1v1h-1zM415 270h3v1h-3zM420 270h2v1h-2zM217 271h1v1h-1zM408 271h1v1h-1zM421 271h1v1h-1zM424 271h1v1h-1zM433 271h1v1h-1zM401 272h1v1h-1zM410 272h1v1h-1zM422 272h1v1h-1zM426 272h1v1h-1zM404 273h1v1h-1zM421 273h1v1h-1zM408 274h1v1h-1zM410 274h1v1h-1zM429 274h1v1h-1zM433 274h1v1h-1zM401 275h1v1h-1zM403 275h1v1h-1zM405 275h1v1h-1zM407 275h1v1h-1zM409 275h1v1h-1zM421 275h1v1h-1zM425 275h1v1h-1zM398 276h1v1h-1zM404 276h1v1h-1zM415 276h1v1h-1zM401 277h1v1h-1zM403 277h1v1h-1zM406 277h1v1h-1zM408 277h1v1h-1zM411 277h1v1h-1zM414 277h1v1h-1zM417 277h1v1h-1zM392 278h1v1h-1zM398 278h2v1h-2zM405 278h1v1h-1zM417 278h1v1h-1zM420 278h2v1h-2zM398 279h1v1h-1zM401 279h1v1h-1zM406 279h2v1h-2zM409 279h1v1h-1zM413 279h1v1h-1zM415 279h1v1h-1zM420 279h1v1h-1zM398 280h1v1h-1zM400 280h2v1h-2zM405 280h1v1h-1zM409 280h1v1h-1zM411 280h1v1h-1zM414 280h1v1h-1zM416 280h1v1h-1zM398 281h1v1h-1zM401 281h1v1h-1zM403 281h1v1h-1zM406 281h2v1h-2zM409 281h1v1h-1zM412 281h1v1h-1zM414 281h1v1h-1zM416 281h1v1h-1zM425 281h1v1h-1zM405 282h1v1h-1zM407 282h1v1h-1zM413 282h1v1h-1zM416 282h1v1h-1zM420 282h1v1h-1zM399 283h1v1h-1zM401 283h1v1h-1zM403 283h1v1h-1zM405 283h1v1h-1zM407 283h1v1h-1zM410 283h1v1h-1zM423 283h1v1h-1zM401 284h3v1h-3zM407 284h1v1h-1zM410 284h1v1h-1zM413 284h1v1h-1zM425 284h1v1h-1zM220 285h1v1h-1zM393 285h1v1h-1zM403 285h1v1h-1zM407 285h1v1h-1zM418 285h1v1h-1zM397 286h1v1h-1zM399 286h1v1h-1zM402 286h2v1h-2zM405 286h1v1h-1zM408 286h1v1h-1zM399 287h1v1h-1zM403 287h1v1h-1zM411 287h1v1h-1zM419 287h1v1h-1zM48 288h1v1h-1zM226 288h1v1h-1zM398 288h2v1h-2zM402 288h1v1h-1zM404 288h2v1h-2zM411 288h1v1h-1zM415 288h1v1h-1zM46 289h1v1h-1zM213 289h1v1h-1zM218 289h1v1h-1zM393 289h1v1h-1zM401 289h1v1h-1zM411 289h1v1h-1zM416 289h1v1h-1zM39 290h1v1h-1zM44 290h1v1h-1zM46 290h1v1h-1zM213 290h1v1h-1zM395 290h1v1h-1zM397 290h1v1h-1zM406 290h1v1h-1zM51 291h1v1h-1zM408 291h1v1h-1zM38 292h1v1h-1zM42 292h1v1h-1zM45 292h1v1h-1zM48 292h1v1h-1zM396 292h1v1h-1zM44 293h1v1h-1zM47 293h2v1h-2zM51 293h2v1h-2zM391 293h1v1h-1zM35 294h1v1h-1zM38 294h3v1h-3zM42 294h1v1h-1zM46 294h1v1h-1zM48 294h1v1h-1zM50 294h2v1h-2zM207 294h1v1h-1zM405 294h1v1h-1zM34 295h1v1h-1zM37 295h2v1h-2zM40 295h1v1h-1zM42 295h1v1h-1zM44 295h1v1h-1zM46 295h6v1h-6zM210 295h1v1h-1zM403 295h1v1h-1zM37 296h2v1h-2zM40 296h1v1h-1zM42 296h4v1h-4zM47 296h1v1h-1zM52 296h1v1h-1zM54 296h1v1h-1zM31 297h1v1h-1zM36 297h6v1h-6zM43 297h7v1h-7zM51 297h5v1h-5zM217 297h1v1h-1zM38 298h1v1h-1zM40 298h9v1h-9zM51 298h2v1h-2zM55 298h1v1h-1zM203 298h1v1h-1zM35 299h3v1h-3zM39 299h2v1h-2zM42 299h5v1h-5zM50 299h1v1h-1zM54 299h3v1h-3zM219 299h2v1h-2zM30 300h1v1h-1zM32 300h1v1h-1zM34 300h1v1h-1zM37 300h3v1h-3zM41 300h1v1h-1zM43 300h5v1h-5zM49 300h2v1h-2zM53 300h1v1h-1zM55 300h1v1h-1zM58 300h1v1h-1zM217 300h1v1h-1zM404 300h1v1h-1zM34 301h5v1h-5zM40 301h2v1h-2zM43 301h7v1h-7zM52 301h2v1h-2zM56 301h1v1h-1zM30 302h1v1h-1zM33 302h1v1h-1zM37 302h5v1h-5zM43 302h10v1h-10zM54 302h2v1h-2zM57 302h1v1h-1zM60 302h1v1h-1zM403 302h1v1h-1zM408 302h1v1h-1zM31 303h3v1h-3zM39 303h3v1h-3zM43 303h6v1h-6zM52 303h1v1h-1zM55 303h2v1h-2zM58 303h1v1h-1zM35 304h3v1h-3zM41 304h2v1h-2zM44 304h1v1h-1zM47 304h2v1h-2zM50 304h2v1h-2zM53 304h2v1h-2zM60 304h1v1h-1zM219 304h1v1h-1zM404 304h1v1h-1zM38 305h2v1h-2zM41 305h2v1h-2zM44 305h2v1h-2zM47 305h1v1h-1zM50 305h2v1h-2zM53 305h1v1h-1zM57 305h1v1h-1zM36 306h1v1h-1zM38 306h2v1h-2zM41 306h7v1h-7zM51 306h1v1h-1zM53 306h2v1h-2zM220 306h1v1h-1zM41 307h4v1h-4zM47 307h2v1h-2zM50 307h1v1h-1zM52 307h1v1h-1zM55 307h1v1h-1zM47 308h1v1h-1z" fill="rgb(0,0,0)" shape-rendering="crispEdges"/>
<g font-weight="bold" font-size="18" fill="#111" stroke="#111" stroke-width="0.4">
<text x="17.2" y="15.6" textLength="131.5" lengthAdjust="spacingAndGlyphs">Isotype control</text>
<text x="209.5" y="15.3" textLength="109.5" lengthAdjust="spacingAndGlyphs">Normal mice</text>
<text x="362" y="15.3" textLength="157" lengthAdjust="spacingAndGlyphs">5-FU-treated mice</text>
</g>
<rect x="27.5" y="38" width="120.5" height="117" fill="none" stroke="#383838" stroke-width="1.25"/>
<path d="M27.50 155v2M27.5 155.00h-2M36.57 155v1.5M27.5 146.19h-1.5M41.87 155v1.5M27.5 141.04h-1.5M45.64 155v1.5M27.5 137.39h-1.5M48.56 155v1.5M27.5 134.56h-1.5M50.94 155v1.5M27.5 132.24h-1.5M52.96 155v1.5M27.5 130.28h-1.5M54.71 155v1.5M27.5 128.58h-1.5M56.25 155v1.5M27.5 127.09h-1.5M57.62 155v2M27.5 125.75h-2M66.69 155v1.5M27.5 116.94h-1.5M72.00 155v1.5M27.5 111.79h-1.5M75.76 155v1.5M27.5 108.14h-1.5M78.68 155v1.5M27.5 105.31h-1.5M81.07 155v1.5M27.5 102.99h-1.5M83.08 155v1.5M27.5 101.03h-1.5M84.83 155v1.5M27.5 99.33h-1.5M86.37 155v1.5M27.5 97.84h-1.5M87.75 155v2M27.5 96.50h-2M96.82 155v1.5M27.5 87.69h-1.5M102.12 155v1.5M27.5 82.54h-1.5M105.89 155v1.5M27.5 78.89h-1.5M108.81 155v1.5M27.5 76.06h-1.5M111.19 155v1.5M27.5 73.74h-1.5M113.21 155v1.5M27.5 71.78h-1.5M114.96 155v1.5M27.5 70.08h-1.5M116.50 155v1.5M27.5 68.59h-1.5M117.88 155v2M27.5 67.25h-2M126.94 155v1.5M27.5 58.44h-1.5M132.25 155v1.5M27.5 53.29h-1.5M136.01 155v1.5M27.5 49.64h-1.5M138.93 155v1.5M27.5 46.81h-1.5M141.32 155v1.5M27.5 44.49h-1.5M143.33 155v1.5M27.5 42.53h-1.5M145.08 155v1.5M27.5 40.83h-1.5M146.62 155v1.5M27.5 39.34h-1.5" stroke="#222" stroke-width="0.9" fill="none"/>
<g transform="translate(32.80 164.80)"><path d="M-4.4 -5.3L-2.9 -6.7V0" fill="none" stroke="#1a1a1a" stroke-width="1.1"/><ellipse cx="1.95" cy="-3.35" rx="1.8" ry="2.95" fill="none" stroke="#1a1a1a" stroke-width="1.05"/><text x="5.9" y="-2.7" font-size="7" fill="#1a1a1a" stroke="#1a1a1a" stroke-width="0.3" transform="scale(0.8 1)">0</text></g>
<g transform="translate(24.40 153.80) rotate(-90) scale(0.92 0.9)"><path d="M-4.4 -5.3L-2.9 -6.7V0" fill="none" stroke="#1a1a1a" stroke-width="1.25"/><ellipse cx="1.95" cy="-3.35" rx="1.8" ry="2.95" fill="none" stroke="#1a1a1a" stroke-width="1.15"/><text x="5.3" y="-2.4" font-size="7" fill="#1a1a1a" stroke="#1a1a1a" stroke-width="0.3">0</text></g>
<g transform="translate(58.23 164.80)"><path d="M-4.4 -5.3L-2.9 -6.7V0" fill="none" stroke="#1a1a1a" stroke-width="1.1"/><ellipse cx="1.95" cy="-3.35" rx="1.8" ry="2.95" fill="none" stroke="#1a1a1a" stroke-width="1.05"/><text x="5.9" y="-2.7" font-size="7" fill="#1a1a1a" stroke="#1a1a1a" stroke-width="0.3" transform="scale(0.8 1)">1</text></g>
<g transform="translate(24.40 126.15) rotate(-90) scale(0.92 0.9)"><path d="M-4.4 -5.3L-2.9 -6.7V0" fill="none" stroke="#1a1a1a" stroke-width="1.25"/><ellipse cx="1.95" cy="-3.35" rx="1.8" ry="2.95" fill="none" stroke="#1a1a1a" stroke-width="1.15"/><text x="5.3" y="-2.4" font-size="7" fill="#1a1a1a" stroke="#1a1a1a" stroke-width="0.3">1</text></g>
<g transform="translate(88.35 164.80)"><path d="M-4.4 -5.3L-2.9 -6.7V0" fill="none" stroke="#1a1a1a" stroke-width="1.1"/><ellipse cx="1.95" cy="-3.35" rx="1.8" ry="2.95" fill="none" stroke="#1a1a1a" stroke-width="1.05"/><text x="5.9" y="-2.7" font-size="7" fill="#1a1a1a" stroke="#1a1a1a" stroke-width="0.3" transform="scale(0.8 1)">2</text></g>
<g transform="translate(24.40 96.90) rotate(-90) scale(0.92 0.9)"><path d="M-4.4 -5.3L-2.9 -6.7V0" fill="none" stroke="#1a1a1a" stroke-width="1.25"/><ellipse cx="1.95" cy="-3.35" rx="1.8" ry="2.95" fill="none" stroke="#1a1a1a" stroke-width="1.15"/><text x="5.3" y="-2.4" font-size="7" fill="#1a1a1a" stroke="#1a1a1a" stroke-width="0.3">2</text></g>
<g transform="translate(118.47 164.80)"><path d="M-4.4 -5.3L-2.9 -6.7V0" fill="none" stroke="#1a1a1a" stroke-width="1.1"/><ellipse cx="1.95" cy="-3.35" rx="1.8" ry="2.95" fill="none" stroke="#1a1a1a" stroke-width="1.05"/><text x="5.9" y="-2.7" font-size="7" fill="#1a1a1a" stroke="#1a1a1a" stroke-width="0.3" transform="scale(0.8 1)">3</text></g>
<g transform="translate(24.40 67.65) rotate(-90) scale(0.92 0.9)"><path d="M-4.4 -5.3L-2.9 -6.7V0" fill="none" stroke="#1a1a1a" stroke-width="1.25"/><ellipse cx="1.95" cy="-3.35" rx="1.8" ry="2.95" fill="none" stroke="#1a1a1a" stroke-width="1.15"/><text x="5.3" y="-2.4" font-size="7" fill="#1a1a1a" stroke="#1a1a1a" stroke-width="0.3">3</text></g>
<g transform="translate(148.60 164.80)"><path d="M-4.4 -5.3L-2.9 -6.7V0" fill="none" stroke="#1a1a1a" stroke-width="1.1"/><ellipse cx="1.95" cy="-3.35" rx="1.8" ry="2.95" fill="none" stroke="#1a1a1a" stroke-width="1.05"/><text x="5.9" y="-2.7" font-size="7" fill="#1a1a1a" stroke="#1a1a1a" stroke-width="0.3" transform="scale(0.8 1)">4</text></g>
<g transform="translate(24.40 38.40) rotate(-90) scale(0.92 0.9)"><path d="M-4.4 -5.3L-2.9 -6.7V0" fill="none" stroke="#1a1a1a" stroke-width="1.25"/><ellipse cx="1.95" cy="-3.35" rx="1.8" ry="2.95" fill="none" stroke="#1a1a1a" stroke-width="1.15"/><text x="5.3" y="-2.4" font-size="7" fill="#1a1a1a" stroke="#1a1a1a" stroke-width="0.3">4</text></g>
<text transform="translate(61.3 175.6) scale(1 0.92)" x="0" y="0" font-size="12" font-weight="bold" fill="#111" stroke="#111" stroke-width="0.3" textLength="51.0" lengthAdjust="spacingAndGlyphs">IgG<tspan font-size="8.5" dy="3.8">2a</tspan><tspan dy="-3.8">-PE</tspan></text>
<text transform="translate(9.9 128.5) rotate(-90)" x="0" y="0" font-size="12" font-weight="bold" fill="#111" stroke="#111" stroke-width="0.3" textLength="60.2" lengthAdjust="spacingAndGlyphs">IgG<tspan font-size="8.5" dy="3.8">2a</tspan><tspan dy="-3.8">-APC</tspan></text>
<rect x="202" y="39" width="122" height="116" fill="none" stroke="#383838" stroke-width="1.25"/>
<path d="M202.00 155v2M202 155.00h-2M211.18 155v1.5M202 146.27h-1.5M216.55 155v1.5M202 141.16h-1.5M220.36 155v1.5M202 137.54h-1.5M223.32 155v1.5M202 134.73h-1.5M225.73 155v1.5M202 132.43h-1.5M227.78 155v1.5M202 130.49h-1.5M229.54 155v1.5M202 128.81h-1.5M231.10 155v1.5M202 127.33h-1.5M232.50 155v2M202 126.00h-2M241.68 155v1.5M202 117.27h-1.5M247.05 155v1.5M202 112.16h-1.5M250.86 155v1.5M202 108.54h-1.5M253.82 155v1.5M202 105.73h-1.5M256.23 155v1.5M202 103.43h-1.5M258.28 155v1.5M202 101.49h-1.5M260.04 155v1.5M202 99.81h-1.5M261.60 155v1.5M202 98.33h-1.5M263.00 155v2M202 97.00h-2M272.18 155v1.5M202 88.27h-1.5M277.55 155v1.5M202 83.16h-1.5M281.36 155v1.5M202 79.54h-1.5M284.32 155v1.5M202 76.73h-1.5M286.73 155v1.5M202 74.43h-1.5M288.78 155v1.5M202 72.49h-1.5M290.54 155v1.5M202 70.81h-1.5M292.10 155v1.5M202 69.33h-1.5M293.50 155v2M202 68.00h-2M302.68 155v1.5M202 59.27h-1.5M308.05 155v1.5M202 54.16h-1.5M311.86 155v1.5M202 50.54h-1.5M314.82 155v1.5M202 47.73h-1.5M317.23 155v1.5M202 45.43h-1.5M319.28 155v1.5M202 43.49h-1.5M321.04 155v1.5M202 41.81h-1.5M322.60 155v1.5M202 40.33h-1.5" stroke="#222" stroke-width="0.9" fill="none"/>
<g transform="translate(203.60 164.30)"><path d="M-4.4 -5.3L-2.9 -6.7V0" fill="none" stroke="#1a1a1a" stroke-width="1.1"/><ellipse cx="1.95" cy="-3.35" rx="1.8" ry="2.95" fill="none" stroke="#1a1a1a" stroke-width="1.05"/><text x="5.9" y="-2.7" font-size="7" fill="#1a1a1a" stroke="#1a1a1a" stroke-width="0.3" transform="scale(0.8 1)">0</text></g>
<g transform="translate(198.80 153.80) rotate(-90) scale(0.92 0.9)"><path d="M-4.4 -5.3L-2.9 -6.7V0" fill="none" stroke="#1a1a1a" stroke-width="1.25"/><ellipse cx="1.95" cy="-3.35" rx="1.8" ry="2.95" fill="none" stroke="#1a1a1a" stroke-width="1.15"/><text x="5.3" y="-2.4" font-size="7" fill="#1a1a1a" stroke="#1a1a1a" stroke-width="0.3">0</text></g>
<g transform="translate(233.10 164.30)"><path d="M-4.4 -5.3L-2.9 -6.7V0" fill="none" stroke="#1a1a1a" stroke-width="1.1"/><ellipse cx="1.95" cy="-3.35" rx="1.8" ry="2.95" fill="none" stroke="#1a1a1a" stroke-width="1.05"/><text x="5.9" y="-2.7" font-size="7" fill="#1a1a1a" stroke="#1a1a1a" stroke-width="0.3" transform="scale(0.8 1)">1</text></g>
<g transform="translate(198.80 126.40) rotate(-90) scale(0.92 0.9)"><path d="M-4.4 -5.3L-2.9 -6.7V0" fill="none" stroke="#1a1a1a" stroke-width="1.25"/><ellipse cx="1.95" cy="-3.35" rx="1.8" ry="2.95" fill="none" stroke="#1a1a1a" stroke-width="1.15"/><text x="5.3" y="-2.4" font-size="7" fill="#1a1a1a" stroke="#1a1a1a" stroke-width="0.3">1</text></g>
<g transform="translate(263.60 164.30)"><path d="M-4.4 -5.3L-2.9 -6.7V0" fill="none" stroke="#1a1a1a" stroke-width="1.1"/><ellipse cx="1.95" cy="-3.35" rx="1.8" ry="2.95" fill="none" stroke="#1a1a1a" stroke-width="1.05"/><text x="5.9" y="-2.7" font-size="7" fill="#1a1a1a" stroke="#1a1a1a" stroke-width="0.3" transform="scale(0.8 1)">2</text></g>
<g transform="translate(198.80 97.40) rotate(-90) scale(0.92 0.9)"><path d="M-4.4 -5.3L-2.9 -6.7V0" fill="none" stroke="#1a1a1a" stroke-width="1.25"/><ellipse cx="1.95" cy="-3.35" rx="1.8" ry="2.95" fill="none" stroke="#1a1a1a" stroke-width="1.15"/><text x="5.3" y="-2.4" font-size="7" fill="#1a1a1a" stroke="#1a1a1a" stroke-width="0.3">2</text></g>
<g transform="translate(294.10 164.30)"><path d="M-4.4 -5.3L-2.9 -6.7V0" fill="none" stroke="#1a1a1a" stroke-width="1.1"/><ellipse cx="1.95" cy="-3.35" rx="1.8" ry="2.95" fill="none" stroke="#1a1a1a" stroke-width="1.05"/><text x="5.9" y="-2.7" font-size="7" fill="#1a1a1a" stroke="#1a1a1a" stroke-width="0.3" transform="scale(0.8 1)">3</text></g>
<g transform="translate(198.80 68.40) rotate(-90) scale(0.92 0.9)"><path d="M-4.4 -5.3L-2.9 -6.7V0" fill="none" stroke="#1a1a1a" stroke-width="1.25"/><ellipse cx="1.95" cy="-3.35" rx="1.8" ry="2.95" fill="none" stroke="#1a1a1a" stroke-width="1.15"/><text x="5.3" y="-2.4" font-size="7" fill="#1a1a1a" stroke="#1a1a1a" stroke-width="0.3">3</text></g>
<g transform="translate(324.60 164.30)"><path d="M-4.4 -5.3L-2.9 -6.7V0" fill="none" stroke="#1a1a1a" stroke-width="1.1"/><ellipse cx="1.95" cy="-3.35" rx="1.8" ry="2.95" fill="none" stroke="#1a1a1a" stroke-width="1.05"/><text x="5.9" y="-2.7" font-size="7" fill="#1a1a1a" stroke="#1a1a1a" stroke-width="0.3" transform="scale(0.8 1)">4</text></g>
<g transform="translate(198.80 39.40) rotate(-90) scale(0.92 0.9)"><path d="M-4.4 -5.3L-2.9 -6.7V0" fill="none" stroke="#1a1a1a" stroke-width="1.25"/><ellipse cx="1.95" cy="-3.35" rx="1.8" ry="2.95" fill="none" stroke="#1a1a1a" stroke-width="1.15"/><text x="5.3" y="-2.4" font-size="7" fill="#1a1a1a" stroke="#1a1a1a" stroke-width="0.3">4</text></g>
<text transform="translate(237.9 177.2) scale(1 0.92)" x="0" y="0" font-size="12" font-weight="bold" fill="#111" stroke="#111" stroke-width="0.3" textLength="52.7" lengthAdjust="spacingAndGlyphs">Sca-1-PE</text>
<text transform="translate(185.8 127.0) rotate(-90)" x="0" y="0" font-size="12" font-weight="bold" fill="#111" stroke="#111" stroke-width="0.3" textLength="56.2" lengthAdjust="spacingAndGlyphs">c-kit-APC</text>
<rect x="383.5" y="39" width="125.0" height="117" fill="none" stroke="#383838" stroke-width="1.25"/>
<path d="M383.50 156v2M383.5 156.00h-2M392.91 156v1.5M383.5 147.19h-1.5M398.41 156v1.5M383.5 142.04h-1.5M402.31 156v1.5M383.5 138.39h-1.5M405.34 156v1.5M383.5 135.56h-1.5M407.82 156v1.5M383.5 133.24h-1.5M409.91 156v1.5M383.5 131.28h-1.5M411.72 156v1.5M383.5 129.58h-1.5M413.32 156v1.5M383.5 128.09h-1.5M414.75 156v2M383.5 126.75h-2M424.16 156v1.5M383.5 117.94h-1.5M429.66 156v1.5M383.5 112.79h-1.5M433.56 156v1.5M383.5 109.14h-1.5M436.59 156v1.5M383.5 106.31h-1.5M439.07 156v1.5M383.5 103.99h-1.5M441.16 156v1.5M383.5 102.03h-1.5M442.97 156v1.5M383.5 100.33h-1.5M444.57 156v1.5M383.5 98.84h-1.5M446.00 156v2M383.5 97.50h-2M455.41 156v1.5M383.5 88.69h-1.5M460.91 156v1.5M383.5 83.54h-1.5M464.81 156v1.5M383.5 79.89h-1.5M467.84 156v1.5M383.5 77.06h-1.5M470.32 156v1.5M383.5 74.74h-1.5M472.41 156v1.5M383.5 72.78h-1.5M474.22 156v1.5M383.5 71.08h-1.5M475.82 156v1.5M383.5 69.59h-1.5M477.25 156v2M383.5 68.25h-2M486.66 156v1.5M383.5 59.44h-1.5M492.16 156v1.5M383.5 54.29h-1.5M496.06 156v1.5M383.5 50.64h-1.5M499.09 156v1.5M383.5 47.81h-1.5M501.57 156v1.5M383.5 45.49h-1.5M503.66 156v1.5M383.5 43.53h-1.5M505.47 156v1.5M383.5 41.83h-1.5M507.07 156v1.5M383.5 40.34h-1.5" stroke="#222" stroke-width="0.9" fill="none"/>
<g transform="translate(386.20 166.50)"><path d="M-4.4 -5.3L-2.9 -6.7V0" fill="none" stroke="#1a1a1a" stroke-width="1.1"/><ellipse cx="1.95" cy="-3.35" rx="1.8" ry="2.95" fill="none" stroke="#1a1a1a" stroke-width="1.05"/><text x="5.9" y="-2.7" font-size="7" fill="#1a1a1a" stroke="#1a1a1a" stroke-width="0.3" transform="scale(0.8 1)">0</text></g>
<g transform="translate(379.30 155.30) rotate(-90) scale(0.92 0.9)"><path d="M-4.4 -5.3L-2.9 -6.7V0" fill="none" stroke="#1a1a1a" stroke-width="1.25"/><ellipse cx="1.95" cy="-3.35" rx="1.8" ry="2.95" fill="none" stroke="#1a1a1a" stroke-width="1.15"/><text x="5.3" y="-2.4" font-size="7" fill="#1a1a1a" stroke="#1a1a1a" stroke-width="0.3">0</text></g>
<g transform="translate(415.35 166.50)"><path d="M-4.4 -5.3L-2.9 -6.7V0" fill="none" stroke="#1a1a1a" stroke-width="1.1"/><ellipse cx="1.95" cy="-3.35" rx="1.8" ry="2.95" fill="none" stroke="#1a1a1a" stroke-width="1.05"/><text x="5.9" y="-2.7" font-size="7" fill="#1a1a1a" stroke="#1a1a1a" stroke-width="0.3" transform="scale(0.8 1)">1</text></g>
<g transform="translate(379.30 127.15) rotate(-90) scale(0.92 0.9)"><path d="M-4.4 -5.3L-2.9 -6.7V0" fill="none" stroke="#1a1a1a" stroke-width="1.25"/><ellipse cx="1.95" cy="-3.35" rx="1.8" ry="2.95" fill="none" stroke="#1a1a1a" stroke-width="1.15"/><text x="5.3" y="-2.4" font-size="7" fill="#1a1a1a" stroke="#1a1a1a" stroke-width="0.3">1</text></g>
<g transform="translate(446.60 166.50)"><path d="M-4.4 -5.3L-2.9 -6.7V0" fill="none" stroke="#1a1a1a" stroke-width="1.1"/><ellipse cx="1.95" cy="-3.35" rx="1.8" ry="2.95" fill="none" stroke="#1a1a1a" stroke-width="1.05"/><text x="5.9" y="-2.7" font-size="7" fill="#1a1a1a" stroke="#1a1a1a" stroke-width="0.3" transform="scale(0.8 1)">2</text></g>
<g transform="translate(379.30 97.90) rotate(-90) scale(0.92 0.9)"><path d="M-4.4 -5.3L-2.9 -6.7V0" fill="none" stroke="#1a1a1a" stroke-width="1.25"/><ellipse cx="1.95" cy="-3.35" rx="1.8" ry="2.95" fill="none" stroke="#1a1a1a" stroke-width="1.15"/><text x="5.3" y="-2.4" font-size="7" fill="#1a1a1a" stroke="#1a1a1a" stroke-width="0.3">2</text></g>
<g transform="translate(477.85 166.50)"><path d="M-4.4 -5.3L-2.9 -6.7V0" fill="none" stroke="#1a1a1a" stroke-width="1.1"/><ellipse cx="1.95" cy="-3.35" rx="1.8" ry="2.95" fill="none" stroke="#1a1a1a" stroke-width="1.05"/><text x="5.9" y="-2.7" font-size="7" fill="#1a1a1a" stroke="#1a1a1a" stroke-width="0.3" transform="scale(0.8 1)">3</text></g>
<g transform="translate(379.30 68.65) rotate(-90) scale(0.92 0.9)"><path d="M-4.4 -5.3L-2.9 -6.7V0" fill="none" stroke="#1a1a1a" stroke-width="1.25"/><ellipse cx="1.95" cy="-3.35" rx="1.8" ry="2.95" fill="none" stroke="#1a1a1a" stroke-width="1.15"/><text x="5.3" y="-2.4" font-size="7" fill="#1a1a1a" stroke="#1a1a1a" stroke-width="0.3">3</text></g>
<g transform="translate(509.10 166.50)"><path d="M-4.4 -5.3L-2.9 -6.7V0" fill="none" stroke="#1a1a1a" stroke-width="1.1"/><ellipse cx="1.95" cy="-3.35" rx="1.8" ry="2.95" fill="none" stroke="#1a1a1a" stroke-width="1.05"/><text x="5.9" y="-2.7" font-size="7" fill="#1a1a1a" stroke="#1a1a1a" stroke-width="0.3" transform="scale(0.8 1)">4</text></g>
<g transform="translate(379.30 39.40) rotate(-90) scale(0.92 0.9)"><path d="M-4.4 -5.3L-2.9 -6.7V0" fill="none" stroke="#1a1a1a" stroke-width="1.25"/><ellipse cx="1.95" cy="-3.35" rx="1.8" ry="2.95" fill="none" stroke="#1a1a1a" stroke-width="1.15"/><text x="5.3" y="-2.4" font-size="7" fill="#1a1a1a" stroke="#1a1a1a" stroke-width="0.3">4</text></g>
<text transform="translate(420.2 177.7) scale(1 0.92)" x="0" y="0" font-size="12" font-weight="bold" fill="#111" stroke="#111" stroke-width="0.3" textLength="53.9" lengthAdjust="spacingAndGlyphs">Sca-1-PE</text>
<text transform="translate(367 126.9) rotate(-90)" x="0" y="0" font-size="12" font-weight="bold" fill="#111" stroke="#111" stroke-width="0.3" textLength="55.5" lengthAdjust="spacingAndGlyphs">c-kit-APC</text>
<rect x="27" y="192.5" width="121" height="118.0" fill="none" stroke="#383838" stroke-width="1.25"/>
<path d="M27.00 310.5v2M27 310.50h-2M36.11 310.5v1.5M27 301.62h-1.5M41.43 310.5v1.5M27 296.42h-1.5M45.21 310.5v1.5M27 292.74h-1.5M48.14 310.5v1.5M27 289.88h-1.5M50.54 310.5v1.5M27 287.54h-1.5M52.56 310.5v1.5M27 285.57h-1.5M54.32 310.5v1.5M27 283.86h-1.5M55.87 310.5v1.5M27 282.35h-1.5M57.25 310.5v2M27 281.00h-2M66.36 310.5v1.5M27 272.12h-1.5M71.68 310.5v1.5M27 266.92h-1.5M75.46 310.5v1.5M27 263.24h-1.5M78.39 310.5v1.5M27 260.38h-1.5M80.79 310.5v1.5M27 258.04h-1.5M82.81 310.5v1.5M27 256.07h-1.5M84.57 310.5v1.5M27 254.36h-1.5M86.12 310.5v1.5M27 252.85h-1.5M87.50 310.5v2M27 251.50h-2M96.61 310.5v1.5M27 242.62h-1.5M101.93 310.5v1.5M27 237.42h-1.5M105.71 310.5v1.5M27 233.74h-1.5M108.64 310.5v1.5M27 230.88h-1.5M111.04 310.5v1.5M27 228.54h-1.5M113.06 310.5v1.5M27 226.57h-1.5M114.82 310.5v1.5M27 224.86h-1.5M116.37 310.5v1.5M27 223.35h-1.5M117.75 310.5v2M27 222.00h-2M126.86 310.5v1.5M27 213.12h-1.5M132.18 310.5v1.5M27 207.92h-1.5M135.96 310.5v1.5M27 204.24h-1.5M138.89 310.5v1.5M27 201.38h-1.5M141.29 310.5v1.5M27 199.04h-1.5M143.31 310.5v1.5M27 197.07h-1.5M145.07 310.5v1.5M27 195.36h-1.5M146.62 310.5v1.5M27 193.85h-1.5" stroke="#222" stroke-width="0.9" fill="none"/>
<g transform="translate(30.50 321.10)"><path d="M-4.4 -5.3L-2.9 -6.7V0" fill="none" stroke="#1a1a1a" stroke-width="1.1"/><ellipse cx="1.95" cy="-3.35" rx="1.8" ry="2.95" fill="none" stroke="#1a1a1a" stroke-width="1.05"/><text x="5.9" y="-2.7" font-size="7" fill="#1a1a1a" stroke="#1a1a1a" stroke-width="0.3" transform="scale(0.8 1)">0</text></g>
<g transform="translate(23.80 308.80) rotate(-90) scale(0.92 0.9)"><path d="M-4.4 -5.3L-2.9 -6.7V0" fill="none" stroke="#1a1a1a" stroke-width="1.25"/><ellipse cx="1.95" cy="-3.35" rx="1.8" ry="2.95" fill="none" stroke="#1a1a1a" stroke-width="1.15"/><text x="5.3" y="-2.4" font-size="7" fill="#1a1a1a" stroke="#1a1a1a" stroke-width="0.3">0</text></g>
<g transform="translate(57.85 321.10)"><path d="M-4.4 -5.3L-2.9 -6.7V0" fill="none" stroke="#1a1a1a" stroke-width="1.1"/><ellipse cx="1.95" cy="-3.35" rx="1.8" ry="2.95" fill="none" stroke="#1a1a1a" stroke-width="1.05"/><text x="5.9" y="-2.7" font-size="7" fill="#1a1a1a" stroke="#1a1a1a" stroke-width="0.3" transform="scale(0.8 1)">1</text></g>
<g transform="translate(23.80 281.40) rotate(-90) scale(0.92 0.9)"><path d="M-4.4 -5.3L-2.9 -6.7V0" fill="none" stroke="#1a1a1a" stroke-width="1.25"/><ellipse cx="1.95" cy="-3.35" rx="1.8" ry="2.95" fill="none" stroke="#1a1a1a" stroke-width="1.15"/><text x="5.3" y="-2.4" font-size="7" fill="#1a1a1a" stroke="#1a1a1a" stroke-width="0.3">1</text></g>
<g transform="translate(88.10 321.10)"><path d="M-4.4 -5.3L-2.9 -6.7V0" fill="none" stroke="#1a1a1a" stroke-width="1.1"/><ellipse cx="1.95" cy="-3.35" rx="1.8" ry="2.95" fill="none" stroke="#1a1a1a" stroke-width="1.05"/><text x="5.9" y="-2.7" font-size="7" fill="#1a1a1a" stroke="#1a1a1a" stroke-width="0.3" transform="scale(0.8 1)">2</text></g>
<g transform="translate(23.80 251.90) rotate(-90) scale(0.92 0.9)"><path d="M-4.4 -5.3L-2.9 -6.7V0" fill="none" stroke="#1a1a1a" stroke-width="1.25"/><ellipse cx="1.95" cy="-3.35" rx="1.8" ry="2.95" fill="none" stroke="#1a1a1a" stroke-width="1.15"/><text x="5.3" y="-2.4" font-size="7" fill="#1a1a1a" stroke="#1a1a1a" stroke-width="0.3">2</text></g>
<g transform="translate(118.35 321.10)"><path d="M-4.4 -5.3L-2.9 -6.7V0" fill="none" stroke="#1a1a1a" stroke-width="1.1"/><ellipse cx="1.95" cy="-3.35" rx="1.8" ry="2.95" fill="none" stroke="#1a1a1a" stroke-width="1.05"/><text x="5.9" y="-2.7" font-size="7" fill="#1a1a1a" stroke="#1a1a1a" stroke-width="0.3" transform="scale(0.8 1)">3</text></g>
<g transform="translate(23.80 222.40) rotate(-90) scale(0.92 0.9)"><path d="M-4.4 -5.3L-2.9 -6.7V0" fill="none" stroke="#1a1a1a" stroke-width="1.25"/><ellipse cx="1.95" cy="-3.35" rx="1.8" ry="2.95" fill="none" stroke="#1a1a1a" stroke-width="1.15"/><text x="5.3" y="-2.4" font-size="7" fill="#1a1a1a" stroke="#1a1a1a" stroke-width="0.3">3</text></g>
<g transform="translate(148.60 321.10)"><path d="M-4.4 -5.3L-2.9 -6.7V0" fill="none" stroke="#1a1a1a" stroke-width="1.1"/><ellipse cx="1.95" cy="-3.35" rx="1.8" ry="2.95" fill="none" stroke="#1a1a1a" stroke-width="1.05"/><text x="5.9" y="-2.7" font-size="7" fill="#1a1a1a" stroke="#1a1a1a" stroke-width="0.3" transform="scale(0.8 1)">4</text></g>
<g transform="translate(23.80 192.90) rotate(-90) scale(0.92 0.9)"><path d="M-4.4 -5.3L-2.9 -6.7V0" fill="none" stroke="#1a1a1a" stroke-width="1.25"/><ellipse cx="1.95" cy="-3.35" rx="1.8" ry="2.95" fill="none" stroke="#1a1a1a" stroke-width="1.15"/><text x="5.3" y="-2.4" font-size="7" fill="#1a1a1a" stroke="#1a1a1a" stroke-width="0.3">4</text></g>
<text transform="translate(50.9 333.5) scale(1 0.92)" x="0" y="0" font-size="12" font-weight="bold" fill="#111" stroke="#111" stroke-width="0.3" textLength="62.0" lengthAdjust="spacingAndGlyphs">IgG<tspan font-size="8.5" dy="3.8">2a</tspan><tspan dy="-3.8">-FITC</tspan></text>
<text transform="translate(10.2 280.4) rotate(-90)" x="0" y="0" font-size="12" font-weight="bold" fill="#111" stroke="#111" stroke-width="0.3" textLength="61.6" lengthAdjust="spacingAndGlyphs">IgG<tspan font-size="8.5" dy="3.8">2a</tspan><tspan dy="-3.8">-APC</tspan></text>
<rect x="200" y="192" width="125" height="119" fill="none" stroke="#383838" stroke-width="1.25"/>
<path d="M200.00 311v2M200 311.00h-2M209.41 311v1.5M200 302.04h-1.5M214.91 311v1.5M200 296.81h-1.5M218.81 311v1.5M200 293.09h-1.5M221.84 311v1.5M200 290.21h-1.5M224.32 311v1.5M200 287.85h-1.5M226.41 311v1.5M200 285.86h-1.5M228.22 311v1.5M200 284.13h-1.5M229.82 311v1.5M200 282.61h-1.5M231.25 311v2M200 281.25h-2M240.66 311v1.5M200 272.29h-1.5M246.16 311v1.5M200 267.06h-1.5M250.06 311v1.5M200 263.34h-1.5M253.09 311v1.5M200 260.46h-1.5M255.57 311v1.5M200 258.10h-1.5M257.66 311v1.5M200 256.11h-1.5M259.47 311v1.5M200 254.38h-1.5M261.07 311v1.5M200 252.86h-1.5M262.50 311v2M200 251.50h-2M271.91 311v1.5M200 242.54h-1.5M277.41 311v1.5M200 237.31h-1.5M281.31 311v1.5M200 233.59h-1.5M284.34 311v1.5M200 230.71h-1.5M286.82 311v1.5M200 228.35h-1.5M288.91 311v1.5M200 226.36h-1.5M290.72 311v1.5M200 224.63h-1.5M292.32 311v1.5M200 223.11h-1.5M293.75 311v2M200 221.75h-2M303.16 311v1.5M200 212.79h-1.5M308.66 311v1.5M200 207.56h-1.5M312.56 311v1.5M200 203.84h-1.5M315.59 311v1.5M200 200.96h-1.5M318.07 311v1.5M200 198.60h-1.5M320.16 311v1.5M200 196.61h-1.5M321.97 311v1.5M200 194.88h-1.5M323.57 311v1.5M200 193.36h-1.5" stroke="#222" stroke-width="0.9" fill="none"/>
<g transform="translate(202.90 321.10)"><path d="M-4.4 -5.3L-2.9 -6.7V0" fill="none" stroke="#1a1a1a" stroke-width="1.1"/><ellipse cx="1.95" cy="-3.35" rx="1.8" ry="2.95" fill="none" stroke="#1a1a1a" stroke-width="1.05"/><text x="5.9" y="-2.7" font-size="7" fill="#1a1a1a" stroke="#1a1a1a" stroke-width="0.3" transform="scale(0.8 1)">0</text></g>
<g transform="translate(197.20 308.40) rotate(-90) scale(0.92 0.9)"><path d="M-4.4 -5.3L-2.9 -6.7V0" fill="none" stroke="#1a1a1a" stroke-width="1.25"/><ellipse cx="1.95" cy="-3.35" rx="1.8" ry="2.95" fill="none" stroke="#1a1a1a" stroke-width="1.15"/><text x="5.3" y="-2.4" font-size="7" fill="#1a1a1a" stroke="#1a1a1a" stroke-width="0.3">0</text></g>
<g transform="translate(231.85 321.10)"><path d="M-4.4 -5.3L-2.9 -6.7V0" fill="none" stroke="#1a1a1a" stroke-width="1.1"/><ellipse cx="1.95" cy="-3.35" rx="1.8" ry="2.95" fill="none" stroke="#1a1a1a" stroke-width="1.05"/><text x="5.9" y="-2.7" font-size="7" fill="#1a1a1a" stroke="#1a1a1a" stroke-width="0.3" transform="scale(0.8 1)">1</text></g>
<g transform="translate(197.20 281.65) rotate(-90) scale(0.92 0.9)"><path d="M-4.4 -5.3L-2.9 -6.7V0" fill="none" stroke="#1a1a1a" stroke-width="1.25"/><ellipse cx="1.95" cy="-3.35" rx="1.8" ry="2.95" fill="none" stroke="#1a1a1a" stroke-width="1.15"/><text x="5.3" y="-2.4" font-size="7" fill="#1a1a1a" stroke="#1a1a1a" stroke-width="0.3">1</text></g>
<g transform="translate(263.10 321.10)"><path d="M-4.4 -5.3L-2.9 -6.7V0" fill="none" stroke="#1a1a1a" stroke-width="1.1"/><ellipse cx="1.95" cy="-3.35" rx="1.8" ry="2.95" fill="none" stroke="#1a1a1a" stroke-width="1.05"/><text x="5.9" y="-2.7" font-size="7" fill="#1a1a1a" stroke="#1a1a1a" stroke-width="0.3" transform="scale(0.8 1)">2</text></g>
<g transform="translate(197.20 251.90) rotate(-90) scale(0.92 0.9)"><path d="M-4.4 -5.3L-2.9 -6.7V0" fill="none" stroke="#1a1a1a" stroke-width="1.25"/><ellipse cx="1.95" cy="-3.35" rx="1.8" ry="2.95" fill="none" stroke="#1a1a1a" stroke-width="1.15"/><text x="5.3" y="-2.4" font-size="7" fill="#1a1a1a" stroke="#1a1a1a" stroke-width="0.3">2</text></g>
<g transform="translate(294.35 321.10)"><path d="M-4.4 -5.3L-2.9 -6.7V0" fill="none" stroke="#1a1a1a" stroke-width="1.1"/><ellipse cx="1.95" cy="-3.35" rx="1.8" ry="2.95" fill="none" stroke="#1a1a1a" stroke-width="1.05"/><text x="5.9" y="-2.7" font-size="7" fill="#1a1a1a" stroke="#1a1a1a" stroke-width="0.3" transform="scale(0.8 1)">3</text></g>
<g transform="translate(197.20 222.15) rotate(-90) scale(0.92 0.9)"><path d="M-4.4 -5.3L-2.9 -6.7V0" fill="none" stroke="#1a1a1a" stroke-width="1.25"/><ellipse cx="1.95" cy="-3.35" rx="1.8" ry="2.95" fill="none" stroke="#1a1a1a" stroke-width="1.15"/><text x="5.3" y="-2.4" font-size="7" fill="#1a1a1a" stroke="#1a1a1a" stroke-width="0.3">3</text></g>
<g transform="translate(325.60 321.10)"><path d="M-4.4 -5.3L-2.9 -6.7V0" fill="none" stroke="#1a1a1a" stroke-width="1.1"/><ellipse cx="1.95" cy="-3.35" rx="1.8" ry="2.95" fill="none" stroke="#1a1a1a" stroke-width="1.05"/><text x="5.9" y="-2.7" font-size="7" fill="#1a1a1a" stroke="#1a1a1a" stroke-width="0.3" transform="scale(0.8 1)">4</text></g>
<g transform="translate(197.20 192.40) rotate(-90) scale(0.92 0.9)"><path d="M-4.4 -5.3L-2.9 -6.7V0" fill="none" stroke="#1a1a1a" stroke-width="1.25"/><ellipse cx="1.95" cy="-3.35" rx="1.8" ry="2.95" fill="none" stroke="#1a1a1a" stroke-width="1.15"/><text x="5.3" y="-2.4" font-size="7" fill="#1a1a1a" stroke="#1a1a1a" stroke-width="0.3">4</text></g>
<text transform="translate(229.1 335.5) scale(1 0.92)" x="0" y="0" font-size="12" font-weight="bold" fill="#111" stroke="#111" stroke-width="0.3" textLength="62.7" lengthAdjust="spacingAndGlyphs">CD34-FITC</text>
<text transform="translate(186 274.7) rotate(-90)" x="0" y="0" font-size="12" font-weight="bold" fill="#111" stroke="#111" stroke-width="0.3" textLength="56.4" lengthAdjust="spacingAndGlyphs">c-kit-APC</text>
<rect x="384" y="190" width="126" height="119" fill="none" stroke="#383838" stroke-width="1.25"/>
<path d="M384.00 309v2M384 309.00h-2M393.48 309v1.5M384 300.04h-1.5M399.03 309v1.5M384 294.81h-1.5M402.96 309v1.5M384 291.09h-1.5M406.02 309v1.5M384 288.21h-1.5M408.51 309v1.5M384 285.85h-1.5M410.62 309v1.5M384 283.86h-1.5M412.45 309v1.5M384 282.13h-1.5M414.06 309v1.5M384 280.61h-1.5M415.50 309v2M384 279.25h-2M424.98 309v1.5M384 270.29h-1.5M430.53 309v1.5M384 265.06h-1.5M434.46 309v1.5M384 261.34h-1.5M437.52 309v1.5M384 258.46h-1.5M440.01 309v1.5M384 256.10h-1.5M442.12 309v1.5M384 254.11h-1.5M443.95 309v1.5M384 252.38h-1.5M445.56 309v1.5M384 250.86h-1.5M447.00 309v2M384 249.50h-2M456.48 309v1.5M384 240.54h-1.5M462.03 309v1.5M384 235.31h-1.5M465.96 309v1.5M384 231.59h-1.5M469.02 309v1.5M384 228.71h-1.5M471.51 309v1.5M384 226.35h-1.5M473.62 309v1.5M384 224.36h-1.5M475.45 309v1.5M384 222.63h-1.5M477.06 309v1.5M384 221.11h-1.5M478.50 309v2M384 219.75h-2M487.98 309v1.5M384 210.79h-1.5M493.53 309v1.5M384 205.56h-1.5M497.46 309v1.5M384 201.84h-1.5M500.52 309v1.5M384 198.96h-1.5M503.01 309v1.5M384 196.60h-1.5M505.12 309v1.5M384 194.61h-1.5M506.95 309v1.5M384 192.88h-1.5M508.56 309v1.5M384 191.36h-1.5" stroke="#222" stroke-width="0.9" fill="none"/>
<g transform="translate(388.00 321.20)"><path d="M-4.4 -5.3L-2.9 -6.7V0" fill="none" stroke="#1a1a1a" stroke-width="1.1"/><ellipse cx="1.95" cy="-3.35" rx="1.8" ry="2.95" fill="none" stroke="#1a1a1a" stroke-width="1.05"/><text x="5.9" y="-2.7" font-size="7" fill="#1a1a1a" stroke="#1a1a1a" stroke-width="0.3" transform="scale(0.8 1)">0</text></g>
<g transform="translate(380.20 307.40) rotate(-90) scale(0.92 0.9)"><path d="M-4.4 -5.3L-2.9 -6.7V0" fill="none" stroke="#1a1a1a" stroke-width="1.25"/><ellipse cx="1.95" cy="-3.35" rx="1.8" ry="2.95" fill="none" stroke="#1a1a1a" stroke-width="1.15"/><text x="5.3" y="-2.4" font-size="7" fill="#1a1a1a" stroke="#1a1a1a" stroke-width="0.3">0</text></g>
<g transform="translate(416.10 321.20)"><path d="M-4.4 -5.3L-2.9 -6.7V0" fill="none" stroke="#1a1a1a" stroke-width="1.1"/><ellipse cx="1.95" cy="-3.35" rx="1.8" ry="2.95" fill="none" stroke="#1a1a1a" stroke-width="1.05"/><text x="5.9" y="-2.7" font-size="7" fill="#1a1a1a" stroke="#1a1a1a" stroke-width="0.3" transform="scale(0.8 1)">1</text></g>
<g transform="translate(380.20 279.65) rotate(-90) scale(0.92 0.9)"><path d="M-4.4 -5.3L-2.9 -6.7V0" fill="none" stroke="#1a1a1a" stroke-width="1.25"/><ellipse cx="1.95" cy="-3.35" rx="1.8" ry="2.95" fill="none" stroke="#1a1a1a" stroke-width="1.15"/><text x="5.3" y="-2.4" font-size="7" fill="#1a1a1a" stroke="#1a1a1a" stroke-width="0.3">1</text></g>
<g transform="translate(447.60 321.20)"><path d="M-4.4 -5.3L-2.9 -6.7V0" fill="none" stroke="#1a1a1a" stroke-width="1.1"/><ellipse cx="1.95" cy="-3.35" rx="1.8" ry="2.95" fill="none" stroke="#1a1a1a" stroke-width="1.05"/><text x="5.9" y="-2.7" font-size="7" fill="#1a1a1a" stroke="#1a1a1a" stroke-width="0.3" transform="scale(0.8 1)">2</text></g>
<g transform="translate(380.20 249.90) rotate(-90) scale(0.92 0.9)"><path d="M-4.4 -5.3L-2.9 -6.7V0" fill="none" stroke="#1a1a1a" stroke-width="1.25"/><ellipse cx="1.95" cy="-3.35" rx="1.8" ry="2.95" fill="none" stroke="#1a1a1a" stroke-width="1.15"/><text x="5.3" y="-2.4" font-size="7" fill="#1a1a1a" stroke="#1a1a1a" stroke-width="0.3">2</text></g>
<g transform="translate(479.10 321.20)"><path d="M-4.4 -5.3L-2.9 -6.7V0" fill="none" stroke="#1a1a1a" stroke-width="1.1"/><ellipse cx="1.95" cy="-3.35" rx="1.8" ry="2.95" fill="none" stroke="#1a1a1a" stroke-width="1.05"/><text x="5.9" y="-2.7" font-size="7" fill="#1a1a1a" stroke="#1a1a1a" stroke-width="0.3" transform="scale(0.8 1)">3</text></g>
<g transform="translate(380.20 220.15) rotate(-90) scale(0.92 0.9)"><path d="M-4.4 -5.3L-2.9 -6.7V0" fill="none" stroke="#1a1a1a" stroke-width="1.25"/><ellipse cx="1.95" cy="-3.35" rx="1.8" ry="2.95" fill="none" stroke="#1a1a1a" stroke-width="1.15"/><text x="5.3" y="-2.4" font-size="7" fill="#1a1a1a" stroke="#1a1a1a" stroke-width="0.3">3</text></g>
<g transform="translate(510.60 321.20)"><path d="M-4.4 -5.3L-2.9 -6.7V0" fill="none" stroke="#1a1a1a" stroke-width="1.1"/><ellipse cx="1.95" cy="-3.35" rx="1.8" ry="2.95" fill="none" stroke="#1a1a1a" stroke-width="1.05"/><text x="5.9" y="-2.7" font-size="7" fill="#1a1a1a" stroke="#1a1a1a" stroke-width="0.3" transform="scale(0.8 1)">4</text></g>
<g transform="translate(380.20 190.40) rotate(-90) scale(0.92 0.9)"><path d="M-4.4 -5.3L-2.9 -6.7V0" fill="none" stroke="#1a1a1a" stroke-width="1.25"/><ellipse cx="1.95" cy="-3.35" rx="1.8" ry="2.95" fill="none" stroke="#1a1a1a" stroke-width="1.15"/><text x="5.3" y="-2.4" font-size="7" fill="#1a1a1a" stroke="#1a1a1a" stroke-width="0.3">4</text></g>
<text transform="translate(414.0 335.3) scale(1 0.92)" x="0" y="0" font-size="12" font-weight="bold" fill="#111" stroke="#111" stroke-width="0.3" textLength="62.8" lengthAdjust="spacingAndGlyphs">CD34-FITC</text>
<text transform="translate(370 275.1) rotate(-90)" x="0" y="0" font-size="12" font-weight="bold" fill="#111" stroke="#111" stroke-width="0.3" textLength="55.5" lengthAdjust="spacingAndGlyphs">c-kit-APC</text>
<rect x="237.8" y="67.3" width="69.39999999999998" height="57.3" fill="none" stroke="#222" stroke-width="1.3"/>
<rect x="414.6" y="86.6" width="87.69999999999999" height="44.400000000000006" fill="none" stroke="#222" stroke-width="1.3"/>
<rect x="200.4" y="228.8" width="33.400000000000006" height="50.69999999999999" fill="none" stroke="#222" stroke-width="1.3"/>
<rect x="237" y="228.8" width="33" height="50.69999999999999" fill="none" stroke="#222" stroke-width="1.3"/>
<rect x="385.4" y="239.7" width="29.0" height="41.60000000000002" fill="none" stroke="#222" stroke-width="1.3"/>
<rect x="417.6" y="239.7" width="29.19999999999999" height="41.60000000000002" fill="none" stroke="#222" stroke-width="1.3"/>
<text x="270.3" y="63.7" font-size="11" font-weight="bold" text-anchor="middle" fill="#111" stroke="#111" stroke-width="0.3">R1</text>
<text x="458.4" y="81.7" font-size="11" font-weight="bold" text-anchor="middle" fill="#111" stroke="#111" stroke-width="0.3">R4</text>
<text x="218.2" y="224.9" font-size="11" font-weight="bold" text-anchor="middle" fill="#111" stroke="#111" stroke-width="0.3">R2</text>
<text x="255.2" y="224.9" font-size="11" font-weight="bold" text-anchor="middle" fill="#111" stroke="#111" stroke-width="0.3">R3</text>
<text x="400.3" y="235.9" font-size="11" font-weight="bold" text-anchor="middle" fill="#111" stroke="#111" stroke-width="0.3">R5</text>
<text x="434" y="235.9" font-size="11" font-weight="bold" text-anchor="middle" fill="#111" stroke="#111" stroke-width="0.3">R6</text>
</svg></body></html>
